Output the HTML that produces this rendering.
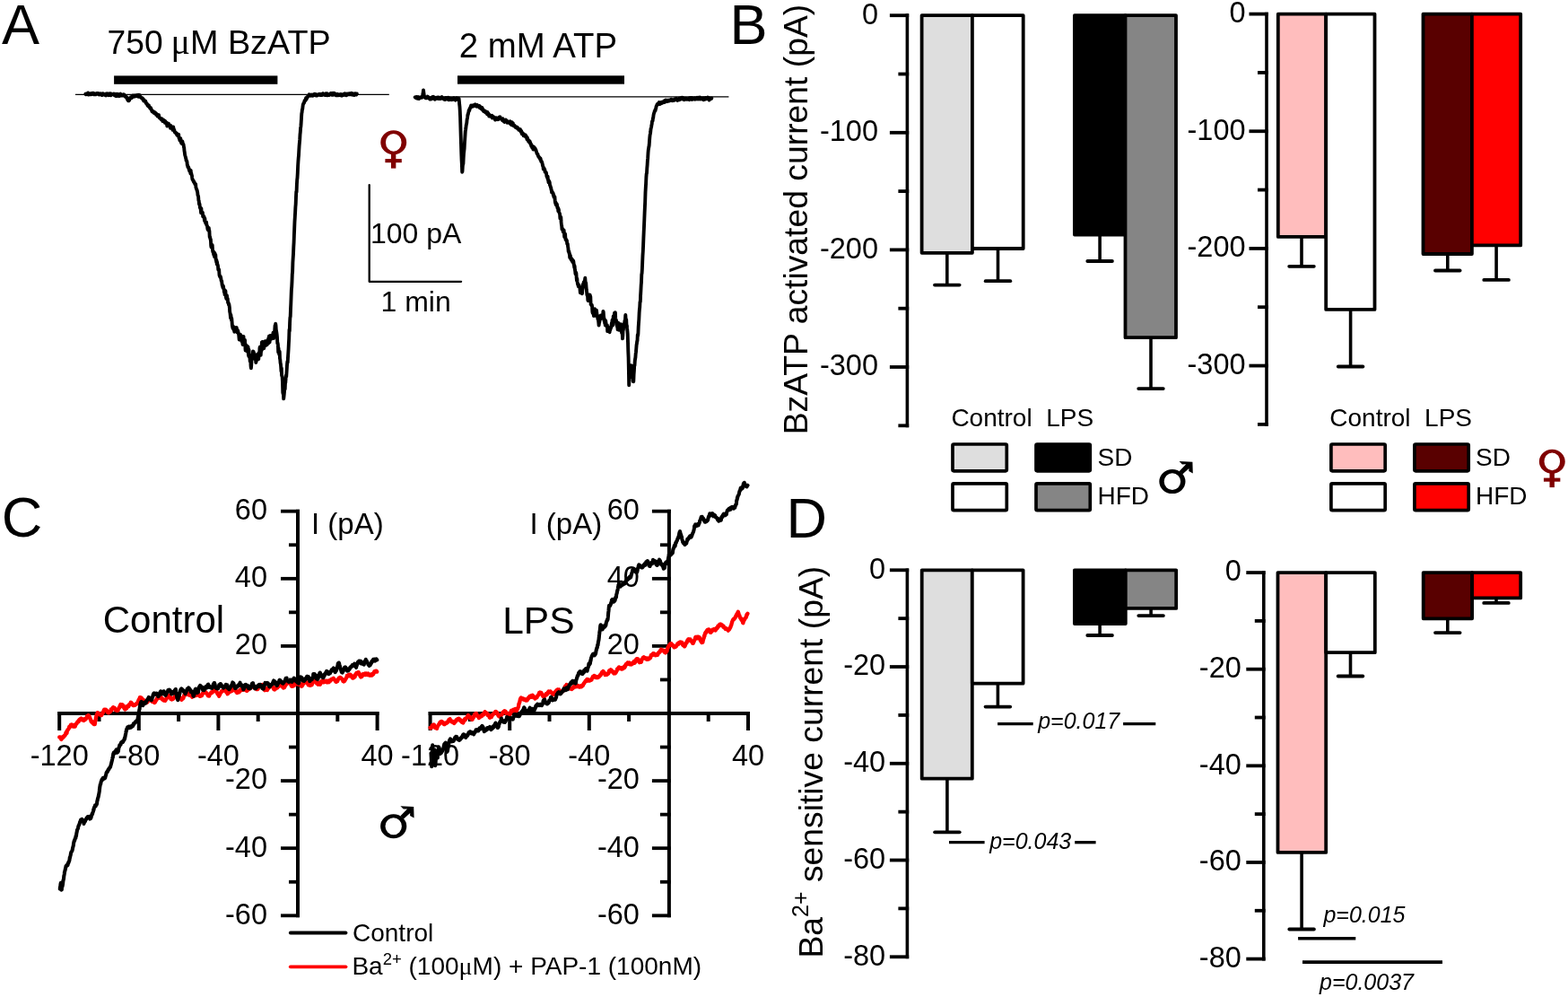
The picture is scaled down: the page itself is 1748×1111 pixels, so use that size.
<!DOCTYPE html>
<html><head><meta charset="utf-8"><title>Figure</title>
<style>
html,body{margin:0;padding:0;background:#fff;}
body{width:1748px;height:1111px;overflow:hidden;}
svg{display:block;}
text{font-family:"Liberation Sans", Arial, sans-serif;fill:#000;}
</style></head><body>
<svg width="1748" height="1111" viewBox="0 0 1748 1111">
<rect width="1748" height="1111" fill="#fff"/>
<text x="2.0" y="49.0" font-size="63" text-anchor="start" >A</text>
<text y="60.3" font-size="37.5"><tspan x="119.6" font-size="37.2">750 </tspan><tspan x="190.6" font-size="40" font-family="'Liberation Serif', serif">&#956;</tspan><tspan x="211.9" font-size="37.8">M BzATP</tspan></text>
<text x="511.8" y="64.2" font-size="38.4" text-anchor="start" >2 mM ATP</text>
<rect x="127.1" y="84.4" width="182.3" height="9.4" fill="#000"/>
<rect x="510" y="84.3" width="186" height="9.4" fill="#000"/>
<line x1="84.00" y1="105.45" x2="433.80" y2="105.45" stroke="#000" stroke-width="1.2" stroke-linecap="butt"/>
<line x1="462.70" y1="107.90" x2="812.40" y2="107.90" stroke="#000" stroke-width="1.25" stroke-linecap="butt"/>
<path d="M95.4 104.5 L95.7 105.3 L96.0 105.2 L96.3 104.6 L96.6 104.1 L96.9 104.1 L97.2 104.2 L97.5 104.1 L97.8 104.9 L98.1 103.4 L98.4 105.6 L98.7 104.8 L99.0 105.5 L99.3 104.9 L99.6 104.4 L99.9 104.9 L100.2 105.0 L100.5 104.6 L100.8 105.0 L101.1 105.3 L101.4 104.1 L101.7 104.0 L102.0 105.1 L102.3 104.9 L102.6 104.3 L102.9 104.5 L103.2 104.3 L103.5 103.7 L103.8 103.7 L104.1 104.7 L104.4 105.1 L104.7 104.6 L105.0 104.3 L105.3 104.8 L105.6 105.1 L105.9 104.6 L106.2 105.1 L106.5 105.3 L106.8 104.8 L107.1 104.4 L107.4 104.9 L107.7 104.9 L108.0 104.9 L108.3 103.9 L108.6 104.1 L108.9 104.2 L109.2 104.1 L109.5 104.9 L109.8 105.2 L110.1 104.4 L110.4 105.5 L110.7 104.9 L111.0 105.1 L111.3 104.7 L111.6 105.1 L111.9 104.3 L112.2 105.0 L112.5 105.4 L112.8 104.4 L113.1 105.5 L113.4 105.2 L113.7 106.1 L114.0 105.2 L114.3 105.3 L114.6 105.4 L114.9 104.3 L115.2 105.2 L115.5 105.1 L115.8 105.3 L116.1 104.8 L116.4 105.7 L116.7 105.3 L117.0 105.3 L117.3 106.0 L117.6 106.2 L117.9 106.4 L118.2 104.5 L118.5 105.5 L118.8 105.1 L119.1 104.9 L119.4 104.4 L119.7 105.5 L120.0 104.4 L120.3 105.6 L120.6 106.1 L120.9 104.8 L121.2 105.4 L121.5 104.5 L121.8 105.2 L122.1 105.7 L122.4 106.0 L122.7 104.2 L123.0 105.0 L123.3 105.7 L123.6 106.1 L123.9 105.5 L124.2 104.6 L124.5 105.2 L124.8 105.0 L125.1 104.9 L125.4 104.9 L125.7 105.4 L126.0 105.4 L126.3 105.2 L126.6 105.0 L126.9 104.6 L127.2 105.3 L127.5 106.2 L127.8 105.3 L128.1 104.8 L128.4 106.1 L128.7 105.8 L129.0 106.9 L129.3 105.5 L129.6 105.2 L129.9 104.7 L130.2 106.2 L130.5 107.0 L130.8 104.9 L131.1 104.9 L131.4 105.5 L131.7 104.9 L132.0 105.8 L132.3 106.2 L132.6 106.7 L132.9 107.2 L133.2 106.7 L133.5 106.5 L133.8 105.8 L134.1 106.1 L134.4 104.6 L134.7 105.3 L135.0 106.4 L135.3 105.5 L135.6 106.2 L135.9 106.1 L136.2 106.5 L136.5 106.2 L136.8 106.5 L137.1 105.7 L137.4 105.3 L137.7 105.1 L138.0 105.1 L138.3 105.4 L138.6 106.0 L138.9 106.8 L139.2 107.3 L139.5 107.4 L139.8 106.7 L140.1 108.1 L140.4 108.3 L140.7 108.7 L141.0 108.9 L141.3 108.3 L141.6 108.8 L141.9 110.8 L142.2 110.4 L142.5 111.5 L142.8 112.1 L143.1 110.5 L143.4 111.8 L143.7 112.2 L144.0 111.9 L144.3 111.4 L144.6 110.8 L144.9 110.2 L145.2 108.7 L145.5 109.0 L145.8 108.3 L146.1 108.9 L146.4 108.2 L146.7 108.8 L147.0 109.0 L147.3 108.4 L147.6 108.0 L147.9 107.2 L148.2 106.6 L148.5 106.8 L148.8 106.9 L149.1 107.7 L149.4 107.5 L149.7 107.6 L150.0 106.5 L150.3 107.6 L150.6 106.5 L150.9 106.7 L151.2 106.8 L151.5 106.5 L151.8 107.0 L152.1 106.4 L152.4 106.2 L152.7 106.1 L153.0 107.2 L153.3 106.4 L153.6 106.3 L153.9 107.0 L154.2 106.1 L154.5 107.9 L154.8 105.6 L155.1 106.5 L155.4 106.8 L155.7 106.1 L156.0 107.2 L156.3 108.1 L156.6 107.9 L156.9 108.0 L157.2 108.8 L157.5 108.7 L157.8 109.2 L158.1 109.1 L158.4 109.8 L158.7 109.2 L159.0 110.5 L159.3 110.4 L159.6 110.2 L159.9 111.3 L160.2 112.4 L160.5 112.1 L160.8 111.5 L161.1 112.6 L161.4 112.4 L161.7 113.1 L162.0 113.3 L162.3 112.7 L162.6 114.6 L162.9 114.7 L163.2 115.5 L163.5 115.3 L163.8 115.4 L164.1 115.9 L164.4 117.4 L164.7 118.0 L165.0 117.5 L165.3 118.4 L165.6 117.7 L165.9 117.3 L166.2 118.7 L166.5 119.2 L166.8 119.3 L167.1 120.3 L167.4 120.9 L167.7 120.4 L168.0 120.0 L168.3 121.1 L168.6 121.6 L168.9 122.2 L169.2 123.6 L169.5 124.3 L169.8 123.3 L170.1 124.2 L170.4 124.7 L170.7 125.0 L171.0 125.1 L171.3 124.4 L171.6 125.2 L171.9 126.1 L172.2 125.8 L172.5 125.0 L172.8 125.8 L173.1 126.4 L173.4 126.2 L173.7 126.0 L174.0 127.9 L174.3 126.7 L174.6 128.2 L174.9 128.3 L175.2 127.8 L175.5 129.5 L175.8 129.1 L176.1 128.1 L176.4 129.4 L176.7 129.0 L177.0 128.2 L177.3 129.8 L177.6 131.0 L177.9 131.5 L178.2 131.5 L178.5 131.6 L178.8 132.0 L179.1 131.9 L179.4 133.0 L179.7 132.2 L180.0 132.7 L180.3 133.4 L180.6 132.4 L180.9 132.9 L181.2 135.1 L181.5 134.2 L181.8 134.3 L182.1 134.8 L182.4 133.6 L182.7 134.5 L183.0 134.4 L183.3 135.4 L183.6 134.5 L183.9 136.9 L184.2 135.6 L184.5 135.4 L184.8 137.2 L185.1 137.2 L185.4 137.8 L185.7 136.6 L186.0 137.9 L186.3 140.5 L186.6 137.4 L186.9 139.4 L187.2 138.8 L187.5 139.4 L187.8 137.7 L188.1 137.8 L188.4 139.2 L188.7 139.1 L189.0 140.5 L189.3 139.6 L189.6 140.5 L189.9 142.8 L190.2 140.4 L190.5 140.0 L190.8 141.0 L191.1 141.3 L191.4 142.3 L191.7 142.3 L192.0 141.8 L192.3 142.7 L192.6 144.9 L192.9 143.9 L193.2 141.5 L193.5 143.6 L193.8 143.5 L194.1 145.4 L194.4 145.1 L194.7 147.1 L195.0 147.0 L195.3 147.6 L195.6 147.6 L195.9 148.5 L196.2 148.7 L196.5 149.0 L196.8 148.7 L197.1 148.5 L197.4 150.7 L197.7 150.9 L198.0 151.2 L198.3 150.9 L198.6 150.9 L198.9 151.3 L199.2 150.0 L199.5 153.9 L199.8 154.3 L200.1 154.7 L200.4 156.5 L200.7 155.7 L201.0 156.9 L201.3 154.3 L201.6 156.8 L201.9 158.7 L202.2 159.4 L202.5 160.0 L202.8 160.2 L203.1 158.0 L203.4 157.4 L203.7 160.3 L204.0 159.9 L204.3 161.4 L204.6 161.1 L204.9 163.7 L205.2 164.5 L205.5 168.2 L205.8 169.7 L206.1 172.4 L206.4 173.5 L206.7 174.4 L207.0 175.9 L207.3 176.6 L207.6 178.9 L207.9 179.2 L208.2 179.2 L208.5 180.5 L208.8 184.2 L209.1 184.0 L209.4 186.1 L209.7 186.2 L210.0 186.1 L210.3 186.7 L210.6 188.8 L210.9 189.2 L211.2 190.5 L211.5 188.8 L211.8 189.8 L212.1 191.1 L212.4 193.4 L212.7 190.0 L213.0 193.2 L213.3 193.1 L213.6 195.0 L213.9 195.4 L214.2 198.0 L214.5 200.0 L214.8 200.1 L215.1 200.7 L215.4 201.5 L215.7 201.4 L216.0 202.8 L216.3 203.0 L216.6 202.9 L216.9 204.2 L217.2 204.4 L217.5 205.6 L217.8 204.8 L218.1 205.1 L218.4 208.8 L218.7 209.5 L219.0 210.7 L219.3 211.1 L219.6 212.2 L219.9 213.0 L220.2 214.4 L220.5 217.5 L220.8 218.0 L221.1 218.7 L221.4 223.4 L221.7 223.5 L222.0 227.7 L222.3 226.7 L222.6 228.0 L222.9 231.2 L223.2 232.1 L223.5 231.4 L223.8 234.1 L224.1 237.3 L224.4 232.3 L224.7 237.5 L225.0 235.8 L225.3 236.4 L225.6 238.2 L225.9 237.0 L226.2 241.3 L226.5 241.4 L226.8 240.3 L227.1 241.7 L227.4 241.3 L227.7 243.0 L228.0 246.1 L228.3 243.2 L228.6 245.6 L228.9 247.5 L229.2 248.5 L229.5 249.1 L229.8 247.3 L230.1 247.6 L230.4 251.0 L230.7 251.2 L231.0 251.6 L231.3 254.4 L231.6 255.9 L231.9 254.8 L232.2 255.5 L232.5 256.7 L232.8 254.0 L233.1 256.9 L233.4 257.1 L233.7 264.2 L234.0 263.7 L234.3 265.0 L234.6 266.9 L234.9 266.8 L235.2 273.4 L235.5 275.6 L235.8 272.1 L236.1 274.2 L236.4 275.0 L236.7 273.1 L237.0 278.5 L237.3 280.7 L237.6 279.8 L237.9 280.5 L238.2 283.7 L238.5 280.9 L238.8 284.5 L239.1 286.0 L239.4 282.0 L239.7 286.5 L240.0 284.6 L240.3 283.9 L240.6 289.3 L240.9 288.8 L241.2 292.2 L241.5 290.2 L241.8 294.5 L242.1 292.3 L242.4 295.4 L242.7 295.1 L243.0 296.5 L243.3 300.6 L243.6 299.7 L243.9 299.9 L244.2 300.8 L244.5 306.2 L244.8 307.5 L245.1 307.2 L245.4 308.8 L245.7 308.0 L246.0 308.8 L246.3 309.9 L246.6 312.7 L246.9 313.3 L247.2 313.2 L247.5 316.6 L247.8 318.3 L248.1 318.3 L248.4 320.4 L248.7 318.5 L249.0 319.0 L249.3 322.2 L249.6 322.3 L249.9 325.7 L250.2 323.0 L250.5 328.2 L250.8 324.1 L251.1 325.3 L251.4 324.2 L251.7 329.0 L252.0 331.8 L252.3 332.8 L252.6 333.1 L252.9 329.1 L253.2 331.4 L253.5 332.5 L253.8 332.9 L254.1 337.3 L254.4 336.7 L254.7 337.9 L255.0 339.6 L255.3 338.9 L255.6 340.7 L255.9 343.0 L256.2 347.6 L256.5 348.7 L256.8 351.6 L257.1 354.5 L257.4 350.9 L257.7 354.4 L258.0 356.9 L258.3 354.8 L258.6 358.8 L258.9 362.9 L259.2 364.4 L259.5 365.7 L259.8 363.6 L260.1 363.8 L260.4 367.3 L260.7 364.5 L261.0 366.5 L261.3 369.7 L261.6 366.1 L261.9 365.2 L262.2 367.0 L262.5 367.6 L262.8 367.7 L263.1 367.0 L263.4 367.9 L263.7 365.0 L264.0 366.9 L264.3 370.2 L264.6 368.8 L264.9 367.8 L265.2 368.5 L265.5 369.6 L265.8 372.3 L266.1 371.5 L266.4 375.3 L266.7 378.5 L267.0 374.4 L267.3 376.9 L267.6 375.2 L267.9 372.6 L268.2 375.8 L268.5 374.4 L268.8 379.2 L269.1 376.6 L269.4 380.3 L269.7 380.0 L270.0 374.8 L270.3 381.8 L270.6 384.1 L270.9 379.2 L271.2 382.0 L271.5 374.9 L271.8 380.6 L272.1 378.3 L272.4 384.4 L272.7 380.2 L273.0 378.9 L273.3 385.5 L273.6 390.5 L273.9 383.9 L274.2 388.7 L274.5 386.4 L274.8 385.2 L275.1 388.6 L275.4 391.5 L275.7 385.8 L276.0 390.6 L276.3 391.1 L276.6 386.7 L276.9 395.0 L277.2 396.7 L277.5 389.7 L277.8 397.7 L278.1 395.4 L278.4 396.0 L278.7 402.5 L279.0 399.5 L279.3 400.9 L279.6 408.1 L279.9 410.3 L280.2 407.4 L280.5 400.1 L280.8 396.7 L281.1 400.3 L281.4 395.2 L281.7 396.2 L282.0 391.5 L282.3 393.4 L282.6 391.9 L282.9 399.0 L283.2 393.5 L283.5 397.0 L283.8 396.2 L284.1 400.1 L284.4 395.3 L284.7 399.1 L285.0 400.2 L285.3 404.0 L285.6 402.5 L285.9 401.3 L286.2 401.5 L286.5 398.8 L286.8 399.5 L287.1 395.2 L287.4 394.6 L287.7 395.4 L288.0 396.7 L288.3 400.2 L288.6 393.2 L288.9 394.6 L289.2 395.7 L289.5 387.8 L289.8 386.7 L290.1 387.8 L290.4 390.7 L290.7 395.8 L291.0 390.9 L291.3 391.4 L291.6 386.6 L291.9 381.4 L292.2 381.1 L292.5 389.0 L292.8 387.5 L293.1 382.0 L293.4 386.6 L293.7 380.9 L294.0 386.6 L294.3 388.1 L294.6 382.6 L294.9 380.4 L295.2 384.9 L295.5 380.3 L295.8 385.3 L296.1 380.4 L296.4 384.5 L296.7 382.8 L297.0 381.6 L297.3 380.6 L297.6 384.3 L297.9 379.4 L298.2 382.5 L298.5 381.4 L298.8 382.9 L299.1 377.3 L299.4 382.3 L299.7 377.1 L300.0 374.5 L300.3 379.6 L300.6 381.4 L300.9 377.4 L301.2 374.0 L301.5 376.1 L301.8 374.3 L302.1 374.2 L302.4 377.9 L302.7 375.3 L303.0 373.8 L303.3 374.8 L303.6 373.9 L303.9 375.1 L304.2 374.0 L304.5 370.8 L304.8 372.7 L305.1 377.0 L305.4 372.6 L305.7 369.8 L306.0 373.1 L306.3 367.2 L306.6 362.7 L306.9 366.0 L307.2 360.8 L307.5 362.9 L307.8 367.5 L308.1 368.9 L308.4 370.7 L308.7 373.0 L309.0 376.0 L309.3 382.6 L309.6 382.4 L309.9 384.3 L310.2 392.4 L310.5 387.8 L310.8 392.1 L311.1 394.7 L311.4 392.6 L311.7 391.7 L312.0 399.6 L312.3 400.8 L312.6 404.7 L312.9 405.4 L313.2 409.1 L313.5 413.8 L313.8 410.3 L314.1 418.4 L314.4 419.2 L314.7 420.4 L315.0 426.4 L315.3 437.4 L315.6 438.8 L315.9 437.5 L316.2 444.3 L316.5 441.8 L316.8 438.7 L317.1 435.1 L317.4 429.9 L317.7 433.7 L318.0 426.7 L318.3 426.3 L318.6 422.1 L318.9 418.0 L319.2 419.5 L319.5 415.3 L319.8 410.5 L320.1 405.4 L320.4 402.8 L320.7 404.0 L321.0 398.1 L321.3 393.7 L321.6 388.7 L321.9 382.3 L322.2 377.4 L322.5 367.2 L322.8 369.0 L323.1 359.5 L323.4 354.0 L323.7 352.8 L324.0 344.5 L324.3 338.3 L324.6 330.4 L324.9 322.6 L325.2 319.8 L325.5 313.9 L325.8 305.4 L326.1 303.1 L326.4 292.5 L326.7 287.4 L327.0 283.1 L327.3 275.5 L327.6 270.1 L327.9 261.8 L328.2 254.7 L328.5 246.8 L328.8 242.2 L329.1 236.8 L329.4 230.8 L329.7 227.3 L330.0 219.4 L330.3 213.4 L330.6 214.0 L330.9 205.5 L331.2 200.5 L331.5 198.0 L331.8 192.6 L332.1 185.3 L332.4 180.4 L332.7 176.1 L333.0 173.1 L333.3 167.5 L333.6 162.4 L333.9 158.8 L334.2 155.9 L334.5 150.0 L334.8 147.1 L335.1 142.6 L335.4 141.0 L335.7 136.4 L336.0 131.5 L336.3 126.7 L336.6 125.2 L336.9 122.0 L337.2 121.8 L337.5 119.0 L337.8 116.7 L338.1 115.8 L338.4 115.2 L338.7 115.1 L339.0 114.7 L339.3 113.2 L339.6 112.0 L339.9 112.4 L340.2 111.7 L340.5 112.2 L340.8 110.5 L341.1 109.1 L341.4 109.8 L341.7 110.6 L342.0 109.3 L342.3 108.2 L342.6 108.5 L342.9 108.0 L343.2 107.8 L343.5 107.2 L343.8 107.0 L344.1 106.8 L344.4 106.2 L344.7 105.3 L345.0 105.9 L345.3 106.3 L345.6 105.7 L345.9 105.8 L346.2 105.9 L346.5 106.7 L346.8 105.7 L347.1 106.3 L347.4 106.5 L347.7 105.7 L348.0 105.9 L348.3 106.2 L348.6 106.8 L348.9 106.2 L349.2 106.0 L349.5 106.0 L349.8 105.3 L350.1 106.2 L350.4 105.6 L350.7 104.8 L351.0 105.7 L351.3 104.9 L351.6 105.3 L351.9 105.8 L352.2 105.2 L352.5 106.5 L352.8 105.3 L353.1 106.0 L353.4 106.2 L353.7 106.4 L354.0 106.1 L354.3 105.7 L354.6 105.4 L354.9 105.4 L355.2 105.8 L355.5 104.9 L355.8 105.6 L356.1 105.1 L356.4 105.2 L356.7 104.9 L357.0 106.1 L357.3 104.9 L357.6 105.8 L357.9 105.9 L358.2 106.0 L358.5 106.0 L358.8 105.8 L359.1 105.9 L359.4 104.4 L359.7 105.0 L360.0 104.2 L360.3 105.2 L360.6 104.5 L360.9 104.8 L361.2 105.2 L361.5 105.8 L361.8 105.6 L362.1 105.3 L362.4 106.0 L362.7 104.7 L363.0 104.4 L363.3 105.2 L363.6 105.0 L363.9 105.7 L364.2 106.0 L364.5 104.2 L364.8 106.4 L365.1 105.8 L365.4 105.3 L365.7 105.1 L366.0 106.1 L366.3 105.3 L366.6 105.5 L366.9 106.0 L367.2 104.9 L367.5 105.7 L367.8 104.8 L368.1 104.7 L368.4 104.9 L368.7 104.0 L369.0 105.3 L369.3 104.0 L369.6 104.9 L369.9 104.1 L370.2 105.8 L370.5 105.6 L370.8 105.8 L371.1 104.9 L371.4 103.8 L371.7 104.2 L372.0 104.8 L372.3 105.4 L372.6 104.3 L372.9 103.8 L373.2 104.6 L373.5 105.1 L373.8 105.1 L374.1 105.1 L374.4 106.0 L374.7 106.3 L375.0 105.9 L375.3 104.9 L375.6 105.4 L375.9 105.2 L376.2 104.8 L376.5 106.3 L376.8 105.8 L377.1 105.3 L377.4 106.2 L377.7 105.8 L378.0 106.0 L378.3 106.1 L378.6 106.1 L378.9 105.2 L379.2 105.5 L379.5 106.3 L379.8 104.9 L380.1 105.3 L380.4 106.0 L380.7 106.5 L381.0 106.7 L381.3 106.4 L381.6 105.5 L381.9 105.9 L382.2 105.7 L382.5 105.3 L382.8 105.9 L383.1 105.6 L383.4 104.8 L383.7 105.6 L384.0 105.2 L384.3 105.6 L384.6 104.3 L384.9 105.5 L385.2 104.7 L385.5 104.7 L385.8 104.6 L386.1 106.3 L386.4 104.7 L386.7 104.8 L387.0 105.2 L387.3 104.8 L387.6 105.5 L387.9 104.5 L388.2 105.3 L388.5 104.8 L388.8 105.3 L389.1 105.2 L389.4 104.2 L389.7 104.3 L390.0 104.6 L390.3 105.4 L390.6 105.4 L390.9 105.0 L391.2 104.0 L391.5 103.8 L391.8 105.1 L392.1 105.4 L392.4 105.1 L392.7 105.6 L393.0 104.9 L393.3 104.3 L393.6 104.6 L393.9 105.0 L394.2 105.0 L394.5 104.7 L394.8 106.0 L395.1 104.6 L395.4 104.7 L395.7 104.2 L396.0 104.2 L396.3 104.9 L396.6 105.2 L396.9 105.2 L397.2 105.5 L397.5 105.2 L397.8 104.4" fill="none" stroke="#000" stroke-width="3.9" stroke-linejoin="round" stroke-linecap="round" />
<path d="M462.7 108.3 L463.0 108.7 L463.3 108.5 L463.6 108.5 L463.9 109.1 L464.2 107.9 L464.5 108.2 L464.8 108.3 L465.1 108.9 L465.4 109.7 L465.7 109.1 L466.0 109.2 L466.3 108.1 L466.6 109.0 L466.9 108.6 L467.2 110.0 L467.5 109.2 L467.8 109.0 L468.1 108.4 L468.4 108.5 L468.7 108.5 L469.0 108.3 L469.3 108.6 L469.6 108.9 L469.9 108.8 L470.2 108.7 L470.5 108.7 L470.8 108.1 L471.1 107.9 L471.4 104.4 L471.7 103.3 L472.0 100.4 L472.3 102.8 L472.6 104.9 L472.9 107.4 L473.2 108.2 L473.5 108.3 L473.8 107.8 L474.1 108.2 L474.4 109.2 L474.7 109.0 L475.0 108.3 L475.3 109.3 L475.6 108.9 L475.9 108.9 L476.2 109.0 L476.5 108.7 L476.8 107.6 L477.1 108.3 L477.4 109.0 L477.7 108.3 L478.0 109.2 L478.3 109.6 L478.6 109.2 L478.9 110.2 L479.2 110.5 L479.5 110.3 L479.8 110.1 L480.1 110.0 L480.4 110.5 L480.7 109.3 L481.0 109.3 L481.3 109.5 L481.6 108.3 L481.9 108.1 L482.2 108.6 L482.5 109.2 L482.8 109.6 L483.1 108.5 L483.4 107.9 L483.7 108.8 L484.0 108.9 L484.3 109.1 L484.6 109.9 L484.9 110.7 L485.2 110.2 L485.5 110.1 L485.8 108.9 L486.1 108.7 L486.4 109.3 L486.7 109.6 L487.0 109.7 L487.3 109.3 L487.6 109.4 L487.9 109.6 L488.2 108.5 L488.5 109.2 L488.8 110.0 L489.1 110.0 L489.4 108.7 L489.7 110.0 L490.0 108.7 L490.3 109.0 L490.6 109.5 L490.9 109.9 L491.2 108.9 L491.5 109.9 L491.8 109.4 L492.1 108.7 L492.4 109.0 L492.7 108.1 L493.0 108.9 L493.3 109.4 L493.6 109.2 L493.9 109.8 L494.2 110.0 L494.5 110.2 L494.8 110.5 L495.1 109.8 L495.4 109.7 L495.7 110.2 L496.0 111.1 L496.3 109.6 L496.6 110.2 L496.9 109.0 L497.2 110.5 L497.5 110.0 L497.8 110.4 L498.1 109.9 L498.4 109.4 L498.7 110.6 L499.0 110.1 L499.3 108.9 L499.6 108.7 L499.9 109.7 L500.2 109.6 L500.5 111.4 L500.8 110.0 L501.1 110.2 L501.4 110.4 L501.7 109.7 L502.0 109.7 L502.3 111.0 L502.6 110.1 L502.9 110.0 L503.2 109.9 L503.5 110.8 L503.8 111.1 L504.1 110.6 L504.4 110.0 L504.7 110.7 L505.0 110.6 L505.3 110.0 L505.6 110.8 L505.9 109.1 L506.2 109.8 L506.5 110.4 L506.8 111.1 L507.1 110.6 L507.4 111.3 L507.7 111.6 L508.0 110.9 L508.3 110.6 L508.6 110.7 L508.9 110.2 L509.2 109.3 L509.5 109.8 L509.8 110.8 L510.1 109.7 L510.4 110.5 L510.7 110.0 L511.0 109.7 L511.3 109.7 L511.6 110.0 L511.9 112.9 L512.2 116.6 L512.5 119.1 L512.8 124.2 L513.1 130.7 L513.4 140.9 L513.7 151.1 L514.0 160.5 L514.3 170.2 L514.6 178.3 L514.9 183.5 L515.2 191.8 L515.5 190.7 L515.8 185.2 L516.1 182.8 L516.4 182.5 L516.7 175.9 L517.0 171.1 L517.3 168.5 L517.6 165.9 L517.9 160.0 L518.2 155.9 L518.5 150.8 L518.8 146.2 L519.1 144.5 L519.4 142.4 L519.7 139.6 L520.0 138.5 L520.3 136.8 L520.6 133.4 L520.9 132.2 L521.2 130.3 L521.5 127.5 L521.8 127.6 L522.1 125.7 L522.4 124.5 L522.7 123.0 L523.0 122.4 L523.3 123.1 L523.6 121.0 L523.9 121.2 L524.2 119.9 L524.5 119.8 L524.8 119.0 L525.1 117.6 L525.4 118.0 L525.7 118.2 L526.0 118.1 L526.3 118.0 L526.6 117.5 L526.9 118.2 L527.2 118.7 L527.5 118.5 L527.8 117.5 L528.1 118.0 L528.4 117.4 L528.7 117.1 L529.0 117.8 L529.3 116.4 L529.6 116.7 L529.9 116.6 L530.2 117.5 L530.5 117.3 L530.8 118.4 L531.1 117.6 L531.4 117.0 L531.7 118.7 L532.0 116.9 L532.3 118.2 L532.6 118.5 L532.9 118.4 L533.2 118.3 L533.5 118.5 L533.8 118.4 L534.1 119.4 L534.4 117.9 L534.7 119.4 L535.0 120.2 L535.3 119.5 L535.6 118.9 L535.9 119.9 L536.2 119.8 L536.5 121.1 L536.8 121.6 L537.1 121.0 L537.4 119.9 L537.7 121.2 L538.0 121.1 L538.3 122.5 L538.6 123.3 L538.9 122.7 L539.2 124.0 L539.5 123.8 L539.8 123.7 L540.1 123.5 L540.4 124.4 L540.7 123.5 L541.0 125.3 L541.3 124.8 L541.6 125.7 L541.9 125.6 L542.2 124.7 L542.5 126.2 L542.8 126.6 L543.1 127.3 L543.4 124.9 L543.7 125.4 L544.0 126.6 L544.3 126.2 L544.6 126.8 L544.9 127.2 L545.2 129.5 L545.5 128.1 L545.8 128.0 L546.1 128.9 L546.4 129.1 L546.7 129.7 L547.0 129.7 L547.3 129.6 L547.6 129.1 L547.9 129.3 L548.2 129.2 L548.5 128.9 L548.8 131.6 L549.1 130.5 L549.4 131.0 L549.7 130.3 L550.0 130.9 L550.3 130.8 L550.6 130.3 L550.9 131.0 L551.2 131.3 L551.5 132.3 L551.8 132.6 L552.1 133.6 L552.4 133.3 L552.7 132.6 L553.0 131.2 L553.3 131.5 L553.6 132.5 L553.9 131.6 L554.2 131.9 L554.5 131.7 L554.8 131.5 L555.1 133.2 L555.4 132.3 L555.7 132.9 L556.0 132.3 L556.3 131.9 L556.6 130.5 L556.9 132.1 L557.2 130.7 L557.5 130.3 L557.8 132.2 L558.1 132.0 L558.4 132.3 L558.7 132.0 L559.0 132.4 L559.3 133.1 L559.6 133.3 L559.9 133.7 L560.2 134.3 L560.5 132.1 L560.8 134.5 L561.1 133.5 L561.4 134.5 L561.7 135.4 L562.0 134.3 L562.3 135.2 L562.6 135.9 L562.9 134.7 L563.2 134.7 L563.5 135.3 L563.8 133.4 L564.1 134.8 L564.4 135.3 L564.7 135.0 L565.0 134.5 L565.3 135.4 L565.6 136.7 L565.9 136.7 L566.2 135.7 L566.5 135.8 L566.8 136.3 L567.1 136.3 L567.4 136.1 L567.7 136.0 L568.0 136.9 L568.3 137.6 L568.6 135.2 L568.9 137.7 L569.2 137.7 L569.5 138.5 L569.8 138.0 L570.1 138.5 L570.4 139.2 L570.7 136.2 L571.0 139.3 L571.3 138.7 L571.6 137.6 L571.9 137.4 L572.2 140.0 L572.5 139.3 L572.8 140.2 L573.1 139.5 L573.4 139.7 L573.7 140.6 L574.0 140.8 L574.3 141.7 L574.6 141.7 L574.9 141.6 L575.2 142.1 L575.5 142.3 L575.8 141.4 L576.1 142.4 L576.4 143.0 L576.7 142.8 L577.0 142.0 L577.3 142.8 L577.6 143.4 L577.9 143.6 L578.2 144.7 L578.5 143.6 L578.8 144.5 L579.1 144.7 L579.4 145.1 L579.7 145.2 L580.0 144.2 L580.3 146.1 L580.6 146.9 L580.9 147.1 L581.2 145.9 L581.5 147.2 L581.8 149.3 L582.1 148.2 L582.4 148.6 L582.7 148.1 L583.0 149.2 L583.3 149.1 L583.6 151.3 L583.9 150.3 L584.2 150.4 L584.5 150.0 L584.8 150.0 L585.1 150.1 L585.4 150.7 L585.7 150.3 L586.0 152.6 L586.3 151.3 L586.6 153.0 L586.9 152.2 L587.2 154.1 L587.5 155.3 L587.8 153.2 L588.1 154.4 L588.4 154.8 L588.7 156.1 L589.0 157.4 L589.3 157.5 L589.6 158.1 L589.9 157.8 L590.2 157.5 L590.5 157.2 L590.8 159.4 L591.1 158.5 L591.4 160.7 L591.7 161.3 L592.0 160.6 L592.3 162.9 L592.6 161.9 L592.9 163.9 L593.2 164.6 L593.5 163.5 L593.8 163.2 L594.1 163.0 L594.4 166.5 L594.7 164.4 L595.0 163.5 L595.3 166.4 L595.6 166.0 L595.9 166.5 L596.2 166.3 L596.5 165.2 L596.8 166.6 L597.1 166.8 L597.4 166.9 L597.7 168.1 L598.0 168.9 L598.3 170.2 L598.6 171.0 L598.9 171.6 L599.2 171.7 L599.5 171.8 L599.8 173.5 L600.1 174.0 L600.4 174.7 L600.7 174.5 L601.0 175.5 L601.3 176.1 L601.6 175.6 L601.9 176.0 L602.2 177.6 L602.5 176.4 L602.8 177.7 L603.1 179.7 L603.4 179.6 L603.7 180.5 L604.0 180.1 L604.3 181.4 L604.6 182.2 L604.9 184.1 L605.2 185.2 L605.5 185.6 L605.8 188.6 L606.1 188.1 L606.4 187.2 L606.7 188.3 L607.0 188.7 L607.3 189.0 L607.6 191.9 L607.9 191.3 L608.2 191.6 L608.5 191.8 L608.8 192.1 L609.1 193.4 L609.4 196.4 L609.7 197.0 L610.0 197.4 L610.3 198.6 L610.6 196.7 L610.9 200.6 L611.2 200.3 L611.5 203.2 L611.8 202.1 L612.1 201.6 L612.4 203.6 L612.7 202.9 L613.0 206.3 L613.3 206.6 L613.6 207.4 L613.9 208.8 L614.2 209.1 L614.5 211.4 L614.8 211.7 L615.1 214.5 L615.4 213.3 L615.7 214.1 L616.0 214.6 L616.3 215.2 L616.6 215.3 L616.9 218.1 L617.2 217.0 L617.5 219.7 L617.8 219.8 L618.1 220.2 L618.4 219.2 L618.7 223.4 L619.0 225.9 L619.3 224.9 L619.6 228.0 L619.9 227.9 L620.2 226.7 L620.5 229.1 L620.8 227.5 L621.1 229.0 L621.4 231.9 L621.7 231.9 L622.0 231.2 L622.3 235.4 L622.6 232.6 L622.9 234.0 L623.2 235.8 L623.5 237.2 L623.8 237.8 L624.1 238.5 L624.4 243.5 L624.7 241.0 L625.0 242.9 L625.3 241.9 L625.6 247.2 L625.9 250.0 L626.2 251.7 L626.5 255.5 L626.8 254.3 L627.1 255.2 L627.4 255.6 L627.7 258.2 L628.0 257.2 L628.3 257.9 L628.6 256.5 L628.9 259.3 L629.2 264.1 L629.5 261.9 L629.8 264.6 L630.1 260.8 L630.4 266.7 L630.7 265.8 L631.0 267.8 L631.3 267.4 L631.6 267.4 L631.9 268.1 L632.2 271.6 L632.5 272.2 L632.8 271.6 L633.1 274.9 L633.4 276.3 L633.7 280.3 L634.0 279.9 L634.3 280.0 L634.6 282.9 L634.9 282.2 L635.2 287.1 L635.5 284.4 L635.8 284.5 L636.1 288.4 L636.4 287.6 L636.7 289.3 L637.0 289.5 L637.3 288.1 L637.6 290.5 L637.9 291.3 L638.2 289.5 L638.5 290.3 L638.8 292.8 L639.1 290.4 L639.4 291.7 L639.7 294.5 L640.0 296.0 L640.3 298.1 L640.6 296.3 L640.9 300.4 L641.2 302.3 L641.5 305.3 L641.8 303.6 L642.1 303.6 L642.4 304.6 L642.7 309.8 L643.0 312.8 L643.3 310.5 L643.6 313.7 L643.9 315.9 L644.2 317.2 L644.5 317.2 L644.8 319.3 L645.1 318.4 L645.4 317.5 L645.7 319.6 L646.0 320.0 L646.3 319.4 L646.6 323.3 L646.9 326.4 L647.2 321.7 L647.5 325.5 L647.8 326.4 L648.1 325.9 L648.4 326.7 L648.7 325.0 L649.0 327.2 L649.3 322.6 L649.6 321.5 L649.9 316.7 L650.2 319.5 L650.5 318.0 L650.8 314.2 L651.1 315.2 L651.4 317.0 L651.7 313.7 L652.0 312.2 L652.3 309.8 L652.6 314.1 L652.9 317.3 L653.2 315.1 L653.5 319.3 L653.8 322.8 L654.1 325.3 L654.4 328.5 L654.7 329.6 L655.0 327.8 L655.3 334.2 L655.6 335.0 L655.9 331.2 L656.2 335.0 L656.5 329.6 L656.8 330.1 L657.1 333.1 L657.4 328.5 L657.7 328.6 L658.0 333.9 L658.3 330.5 L658.6 339.2 L658.9 339.4 L659.2 339.3 L659.5 340.7 L659.8 339.9 L660.1 341.6 L660.4 347.3 L660.7 348.9 L661.0 347.8 L661.3 347.8 L661.6 347.2 L661.9 352.1 L662.2 345.8 L662.5 347.4 L662.8 347.1 L663.1 344.2 L663.4 345.5 L663.7 346.3 L664.0 350.6 L664.3 351.8 L664.6 348.4 L664.9 345.6 L665.2 347.8 L665.5 350.5 L665.8 350.9 L666.1 352.2 L666.4 355.7 L666.7 352.3 L667.0 357.1 L667.3 359.3 L667.6 362.6 L667.9 360.2 L668.2 359.2 L668.5 358.1 L668.8 354.4 L669.1 355.0 L669.4 353.6 L669.7 351.5 L670.0 355.2 L670.3 354.5 L670.6 351.3 L670.9 352.4 L671.2 354.2 L671.5 352.4 L671.8 351.4 L672.1 351.3 L672.4 347.0 L672.7 347.8 L673.0 352.4 L673.3 354.4 L673.6 357.8 L673.9 355.6 L674.2 360.4 L674.5 359.9 L674.8 362.6 L675.1 357.1 L675.4 359.0 L675.7 361.5 L676.0 363.2 L676.3 362.9 L676.6 362.8 L676.9 362.4 L677.2 369.1 L677.5 364.4 L677.8 366.1 L678.1 366.2 L678.4 368.7 L678.7 368.8 L679.0 365.7 L679.3 366.4 L679.6 370.2 L679.9 368.0 L680.2 367.9 L680.5 365.6 L680.8 366.3 L681.1 363.7 L681.4 364.8 L681.7 361.4 L682.0 359.5 L682.3 359.5 L682.6 356.5 L682.9 357.8 L683.2 362.5 L683.5 355.8 L683.8 352.2 L684.1 357.5 L684.4 353.9 L684.7 355.6 L685.0 348.8 L685.3 349.5 L685.6 348.1 L685.9 348.1 L686.2 354.9 L686.5 358.0 L686.8 356.3 L687.1 357.4 L687.4 361.6 L687.7 362.6 L688.0 363.9 L688.3 364.0 L688.6 367.2 L688.9 362.3 L689.2 360.9 L689.5 359.8 L689.8 365.9 L690.1 361.0 L690.4 367.8 L690.7 363.8 L691.0 361.1 L691.3 364.0 L691.6 363.0 L691.9 367.4 L692.2 361.3 L692.5 366.9 L692.8 367.2 L693.1 371.2 L693.4 368.0 L693.7 369.6 L694.0 377.4 L694.3 373.8 L694.6 366.3 L694.9 367.7 L695.2 363.1 L695.5 363.0 L695.8 360.4 L696.1 363.7 L696.4 357.7 L696.7 357.2 L697.0 356.0 L697.3 351.0 L697.6 355.1 L697.9 359.6 L698.2 356.1 L698.5 362.5 L698.8 362.5 L699.1 366.0 L699.4 368.6 L699.7 372.2 L700.0 381.2 L700.3 391.4 L700.6 398.2 L700.9 412.2 L701.2 429.3 L701.5 420.1 L701.8 420.7 L702.1 416.7 L702.4 408.1 L702.7 411.2 L703.0 408.2 L703.3 411.5 L703.6 407.1 L703.9 409.6 L704.2 408.1 L704.5 407.6 L704.8 420.1 L705.1 419.6 L705.4 416.4 L705.7 425.0 L706.0 422.2 L706.3 425.2 L706.6 417.3 L706.9 413.2 L707.2 406.8 L707.5 407.1 L707.8 402.2 L708.1 399.8 L708.4 398.5 L708.7 394.1 L709.0 392.2 L709.3 388.4 L709.6 384.4 L709.9 383.0 L710.2 380.2 L710.5 379.8 L710.8 373.0 L711.1 374.1 L711.4 372.0 L711.7 364.3 L712.0 359.9 L712.3 356.1 L712.6 349.2 L712.9 344.7 L713.2 342.5 L713.5 336.4 L713.8 336.3 L714.1 329.2 L714.4 324.1 L714.7 317.9 L715.0 314.5 L715.3 305.8 L715.6 304.3 L715.9 299.3 L716.2 292.0 L716.5 284.7 L716.8 280.1 L717.1 273.7 L717.4 265.5 L717.7 258.6 L718.0 252.2 L718.3 245.0 L718.6 237.3 L718.9 230.6 L719.2 224.5 L719.5 214.6 L719.8 209.2 L720.1 204.4 L720.4 197.5 L720.7 193.7 L721.0 193.0 L721.3 187.4 L721.6 184.0 L721.9 178.7 L722.2 176.2 L722.5 170.4 L722.8 166.9 L723.1 165.2 L723.4 163.7 L723.7 161.6 L724.0 157.2 L724.3 153.4 L724.6 150.4 L724.9 149.1 L725.2 147.1 L725.5 144.0 L725.8 142.5 L726.1 141.6 L726.4 139.5 L726.7 138.3 L727.0 135.3 L727.3 134.7 L727.6 134.7 L727.9 131.6 L728.2 131.5 L728.5 128.7 L728.8 127.1 L729.1 126.0 L729.4 125.5 L729.7 123.9 L730.0 123.3 L730.3 122.6 L730.6 123.3 L730.9 121.4 L731.2 121.0 L731.5 119.0 L731.8 118.2 L732.1 117.9 L732.4 116.6 L732.7 116.3 L733.0 115.8 L733.3 116.3 L733.6 115.6 L733.9 115.8 L734.2 116.0 L734.5 114.8 L734.8 114.0 L735.1 114.7 L735.4 116.0 L735.7 115.0 L736.0 115.9 L736.3 114.6 L736.6 115.4 L736.9 113.9 L737.2 114.4 L737.5 114.3 L737.8 115.0 L738.1 114.2 L738.4 114.3 L738.7 113.5 L739.0 113.5 L739.3 114.2 L739.6 113.9 L739.9 113.6 L740.2 113.3 L740.5 112.6 L740.8 114.1 L741.1 113.0 L741.4 113.4 L741.7 112.9 L742.0 111.6 L742.3 111.5 L742.6 111.8 L742.9 112.6 L743.2 113.1 L743.5 112.6 L743.8 113.0 L744.1 111.9 L744.4 112.2 L744.7 111.7 L745.0 112.5 L745.3 111.8 L745.6 112.0 L745.9 112.6 L746.2 111.8 L746.5 111.6 L746.8 112.0 L747.1 111.3 L747.4 111.3 L747.7 111.9 L748.0 111.6 L748.3 110.7 L748.6 111.4 L748.9 111.9 L749.2 112.1 L749.5 111.7 L749.8 111.6 L750.1 111.2 L750.4 111.3 L750.7 111.5 L751.0 112.0 L751.3 111.5 L751.6 111.7 L751.9 111.3 L752.2 110.4 L752.5 110.2 L752.8 110.3 L753.1 110.4 L753.4 111.2 L753.7 110.2 L754.0 109.9 L754.3 110.8 L754.6 111.3 L754.9 111.3 L755.2 111.9 L755.5 111.3 L755.8 110.8 L756.1 110.9 L756.4 110.1 L756.7 109.9 L757.0 111.0 L757.3 111.3 L757.6 110.7 L757.9 110.2 L758.2 110.1 L758.5 110.3 L758.8 109.2 L759.1 110.5 L759.4 110.4 L759.7 109.9 L760.0 109.8 L760.3 108.8 L760.6 110.4 L760.9 110.3 L761.2 108.8 L761.5 109.9 L761.8 110.0 L762.1 111.0 L762.4 109.7 L762.7 110.3 L763.0 111.2 L763.3 110.7 L763.6 110.1 L763.9 110.0 L764.2 110.3 L764.5 109.8 L764.8 110.6 L765.1 109.9 L765.4 110.4 L765.7 110.4 L766.0 110.8 L766.3 110.2 L766.6 110.2 L766.9 110.3 L767.2 110.1 L767.5 110.5 L767.8 109.9 L768.1 110.9 L768.4 111.1 L768.7 109.3 L769.0 109.7 L769.3 109.2 L769.6 110.5 L769.9 110.1 L770.2 109.6 L770.5 109.0 L770.8 109.6 L771.1 110.8 L771.4 110.9 L771.7 110.0 L772.0 109.3 L772.3 109.7 L772.6 109.4 L772.9 109.4 L773.2 109.8 L773.5 110.4 L773.8 110.2 L774.1 110.5 L774.4 109.6 L774.7 109.3 L775.0 110.7 L775.3 109.8 L775.6 110.4 L775.9 109.7 L776.2 110.1 L776.5 109.7 L776.8 109.3 L777.1 108.9 L777.4 110.4 L777.7 109.7 L778.0 109.3 L778.3 109.8 L778.6 108.8 L778.9 110.5 L779.2 110.4 L779.5 109.5 L779.8 110.0 L780.1 108.4 L780.4 110.3 L780.7 110.2 L781.0 110.2 L781.3 110.5 L781.6 110.3 L781.9 109.6 L782.2 109.6 L782.5 109.9 L782.8 110.5 L783.1 109.9 L783.4 109.5 L783.7 110.1 L784.0 109.3 L784.3 111.2 L784.6 110.3 L784.9 109.4 L785.2 109.7 L785.5 110.1 L785.8 109.7 L786.1 110.7 L786.4 109.0 L786.7 110.4 L787.0 109.4 L787.3 109.8 L787.6 110.2 L787.9 109.0 L788.2 109.1 L788.5 109.8 L788.8 109.1 L789.1 108.5 L789.4 109.7 L789.7 110.2 L790.0 109.7 L790.3 110.3 L790.6 111.5 L790.9 110.0 L791.2 109.4 L791.5 109.5 L791.8 110.4 L792.1 109.8 L792.4 110.2 L792.7 110.1 L793.0 110.0 L793.3 109.5" fill="none" stroke="#000" stroke-width="3.9" stroke-linejoin="round" stroke-linecap="round" />
<path d="M424.30 158.80 a14.45 13.5 0 1 0 28.9 0 a14.45 13.5 0 1 0 -28.9 0 Z M429.95 158.80 a8.8 9.85 0 1 1 17.6 0 a8.8 9.85 0 1 1 -17.6 0 Z" fill="#800000" fill-rule="evenodd"/>
<rect x="435.95" y="170.80" width="5.4" height="16.80" fill="#800000"/>
<rect x="429.40" y="177.10" width="18.4" height="4.1" fill="#800000"/>
<path d="M411.7 206.1 L411.7 313.8 L514.1 313.8" fill="none" stroke="#000" stroke-width="2.3" stroke-linecap="round" stroke-linejoin="round"/>
<text x="413.0" y="270.5" font-size="32" text-anchor="start" >100 pA</text>
<text x="424.5" y="346.8" font-size="32" text-anchor="start" >1 min</text>
<text x="813.5" y="49.0" font-size="63" text-anchor="start" >B</text>
<line x1="1011.40" y1="15.30" x2="1011.40" y2="476.20" stroke="#000" stroke-width="3.6" stroke-linecap="butt"/>
<line x1="991.90" y1="17.20" x2="1013.20" y2="17.20" stroke="#000" stroke-width="3.8" stroke-linecap="butt"/>
<line x1="991.90" y1="147.80" x2="1013.20" y2="147.80" stroke="#000" stroke-width="3.8" stroke-linecap="butt"/>
<line x1="991.90" y1="278.40" x2="1013.20" y2="278.40" stroke="#000" stroke-width="3.8" stroke-linecap="butt"/>
<line x1="991.90" y1="409.00" x2="1013.20" y2="409.00" stroke="#000" stroke-width="3.8" stroke-linecap="butt"/>
<line x1="1001.40" y1="82.50" x2="1013.20" y2="82.50" stroke="#000" stroke-width="3.8" stroke-linecap="butt"/>
<line x1="1001.40" y1="213.10" x2="1013.20" y2="213.10" stroke="#000" stroke-width="3.8" stroke-linecap="butt"/>
<line x1="1001.40" y1="343.70" x2="1013.20" y2="343.70" stroke="#000" stroke-width="3.8" stroke-linecap="butt"/>
<line x1="1001.40" y1="474.30" x2="1013.20" y2="474.30" stroke="#000" stroke-width="3.8" stroke-linecap="butt"/>
<text x="979.0" y="26.5" font-size="32.5" text-anchor="end" >0</text>
<text x="979.0" y="157.1" font-size="32.5" text-anchor="end" >-100</text>
<text x="979.0" y="287.7" font-size="32.5" text-anchor="end" >-200</text>
<text x="979.0" y="418.3" font-size="32.5" text-anchor="end" >-300</text>
<line x1="1055.80" y1="281.80" x2="1055.80" y2="317.60" stroke="#000" stroke-width="3.6" stroke-linecap="butt"/>
<line x1="1042.00" y1="317.60" x2="1069.60" y2="317.60" stroke="#000" stroke-width="3.8" stroke-linecap="round"/>
<line x1="1112.50" y1="277.00" x2="1112.50" y2="313.20" stroke="#000" stroke-width="3.6" stroke-linecap="butt"/>
<line x1="1098.70" y1="313.20" x2="1126.30" y2="313.20" stroke="#000" stroke-width="3.8" stroke-linecap="round"/>
<line x1="1226.10" y1="261.50" x2="1226.10" y2="291.00" stroke="#000" stroke-width="3.6" stroke-linecap="butt"/>
<line x1="1212.30" y1="291.00" x2="1239.90" y2="291.00" stroke="#000" stroke-width="3.8" stroke-linecap="round"/>
<line x1="1283.00" y1="376.20" x2="1283.00" y2="433.10" stroke="#000" stroke-width="3.6" stroke-linecap="butt"/>
<line x1="1269.20" y1="433.10" x2="1296.80" y2="433.10" stroke="#000" stroke-width="3.8" stroke-linecap="round"/>
<rect x="1027.60" y="17.20" width="56.30" height="264.60" fill="#dedede" stroke="#000" stroke-width="3.8" stroke-linejoin="round"/>
<rect x="1083.90" y="17.20" width="56.80" height="259.80" fill="#ffffff" stroke="#000" stroke-width="3.8" stroke-linejoin="round"/>
<rect x="1197.90" y="17.20" width="56.60" height="244.30" fill="#000000" stroke="#000" stroke-width="3.8" stroke-linejoin="round"/>
<rect x="1254.50" y="17.20" width="56.50" height="359.00" fill="#858585" stroke="#000" stroke-width="3.8" stroke-linejoin="round"/>
<line x1="1412.00" y1="13.70" x2="1412.00" y2="474.77" stroke="#000" stroke-width="3.6" stroke-linecap="butt"/>
<line x1="1392.50" y1="15.60" x2="1413.80" y2="15.60" stroke="#000" stroke-width="3.8" stroke-linecap="butt"/>
<line x1="1392.50" y1="146.25" x2="1413.80" y2="146.25" stroke="#000" stroke-width="3.8" stroke-linecap="butt"/>
<line x1="1392.50" y1="276.90" x2="1413.80" y2="276.90" stroke="#000" stroke-width="3.8" stroke-linecap="butt"/>
<line x1="1392.50" y1="407.55" x2="1413.80" y2="407.55" stroke="#000" stroke-width="3.8" stroke-linecap="butt"/>
<line x1="1402.00" y1="80.92" x2="1413.80" y2="80.92" stroke="#000" stroke-width="3.8" stroke-linecap="butt"/>
<line x1="1402.00" y1="211.57" x2="1413.80" y2="211.57" stroke="#000" stroke-width="3.8" stroke-linecap="butt"/>
<line x1="1402.00" y1="342.23" x2="1413.80" y2="342.23" stroke="#000" stroke-width="3.8" stroke-linecap="butt"/>
<line x1="1402.00" y1="472.88" x2="1413.80" y2="472.88" stroke="#000" stroke-width="3.8" stroke-linecap="butt"/>
<text x="1388.6" y="24.9" font-size="32.5" text-anchor="end" >0</text>
<text x="1388.6" y="155.6" font-size="32.5" text-anchor="end" >-100</text>
<text x="1388.6" y="286.2" font-size="32.5" text-anchor="end" >-200</text>
<text x="1388.6" y="416.9" font-size="32.5" text-anchor="end" >-300</text>
<line x1="1451.00" y1="263.90" x2="1451.00" y2="296.80" stroke="#000" stroke-width="3.6" stroke-linecap="butt"/>
<line x1="1437.20" y1="296.80" x2="1464.80" y2="296.80" stroke="#000" stroke-width="3.8" stroke-linecap="round"/>
<line x1="1505.60" y1="344.90" x2="1505.60" y2="408.50" stroke="#000" stroke-width="3.6" stroke-linecap="butt"/>
<line x1="1491.80" y1="408.50" x2="1519.40" y2="408.50" stroke="#000" stroke-width="3.8" stroke-linecap="round"/>
<line x1="1613.80" y1="283.00" x2="1613.80" y2="301.50" stroke="#000" stroke-width="3.6" stroke-linecap="butt"/>
<line x1="1600.00" y1="301.50" x2="1627.60" y2="301.50" stroke="#000" stroke-width="3.8" stroke-linecap="round"/>
<line x1="1668.10" y1="273.40" x2="1668.10" y2="311.90" stroke="#000" stroke-width="3.6" stroke-linecap="butt"/>
<line x1="1654.30" y1="311.90" x2="1681.90" y2="311.90" stroke="#000" stroke-width="3.8" stroke-linecap="round"/>
<rect x="1424.80" y="15.60" width="53.40" height="248.30" fill="#ffbdbd" stroke="#000" stroke-width="3.8" stroke-linejoin="round"/>
<rect x="1478.20" y="15.60" width="54.30" height="329.30" fill="#ffffff" stroke="#000" stroke-width="3.8" stroke-linejoin="round"/>
<rect x="1586.50" y="15.60" width="54.40" height="267.40" fill="#590000" stroke="#000" stroke-width="3.8" stroke-linejoin="round"/>
<rect x="1640.90" y="15.60" width="54.30" height="257.80" fill="#ff0000" stroke="#000" stroke-width="3.8" stroke-linejoin="round"/>
<text transform="translate(900.2 484.3) rotate(-90)" font-size="37.3">BzATP activated current (pA)</text>
<text x="1060.4" y="475.3" font-size="28" text-anchor="start" >Control&#160;&#160;LPS</text>
<rect x="1062.00" y="495.00" width="60.3" height="29.8" rx="1.2" fill="#dedede" stroke="#000" stroke-width="3.7"/>
<rect x="1062.00" y="538.90" width="60.3" height="29.8" rx="1.2" fill="#ffffff" stroke="#000" stroke-width="3.7"/>
<rect x="1155.00" y="495.00" width="60.3" height="29.8" rx="1.2" fill="#000000" stroke="#000" stroke-width="3.7"/>
<rect x="1155.00" y="538.90" width="60.3" height="29.8" rx="1.2" fill="#858585" stroke="#000" stroke-width="3.7"/>
<text x="1223.5" y="519.1" font-size="28" text-anchor="start" >SD</text>
<text x="1223.5" y="562.1" font-size="28" text-anchor="start" >HFD</text>
<text x="1482.3" y="475.3" font-size="28" text-anchor="start" >Control&#160;&#160;LPS</text>
<rect x="1483.90" y="495.00" width="60.3" height="29.8" rx="1.2" fill="#ffbdbd" stroke="#000" stroke-width="3.7"/>
<rect x="1483.90" y="538.90" width="60.3" height="29.8" rx="1.2" fill="#ffffff" stroke="#000" stroke-width="3.7"/>
<rect x="1576.90" y="495.00" width="60.3" height="29.8" rx="1.2" fill="#590000" stroke="#000" stroke-width="3.7"/>
<rect x="1576.90" y="538.90" width="60.3" height="29.8" rx="1.2" fill="#ff0000" stroke="#000" stroke-width="3.7"/>
<text x="1645.0" y="519.1" font-size="28" text-anchor="start" >SD</text>
<text x="1645.0" y="562.1" font-size="28" text-anchor="start" >HFD</text>
<g transform="translate(868.20 -384.10)">
<path d="M424.10 920.70 a14.6 13.5 0 1 0 29.2 0 a14.6 13.5 0 1 0 -29.2 0 Z M429.50 920.70 a9.2 9.45 0 1 1 18.4 0 a9.2 9.45 0 1 1 -18.4 0 Z" fill="#000" fill-rule="evenodd"/>
<path d="M446.4 898.2 L461.2 898.9 L461.6 911.5 L457.1 909.0 L457.2 906.1 L450.0 912.6 L446.4 909.3 L454.0 901.4 L449.7 901.6 Z" fill="#000"/>
</g>
<path d="M1715.85 514.30 a14.45 13.5 0 1 0 28.9 0 a14.45 13.5 0 1 0 -28.9 0 Z M1721.50 514.30 a8.8 9.85 0 1 1 17.6 0 a8.8 9.85 0 1 1 -17.6 0 Z" fill="#800000" fill-rule="evenodd"/>
<rect x="1727.50" y="526.30" width="5.4" height="16.80" fill="#800000"/>
<rect x="1720.95" y="532.60" width="18.4" height="4.1" fill="#800000"/>
<text x="1.8" y="597.8" font-size="63" text-anchor="start" >C</text>
<line x1="332.00" y1="567.80" x2="332.00" y2="1022.20" stroke="#000" stroke-width="4" stroke-linecap="butt"/>
<line x1="313.00" y1="569.70" x2="333.90" y2="569.70" stroke="#000" stroke-width="3.8" stroke-linecap="butt"/>
<line x1="313.00" y1="644.80" x2="333.90" y2="644.80" stroke="#000" stroke-width="3.8" stroke-linecap="butt"/>
<line x1="313.00" y1="719.90" x2="333.90" y2="719.90" stroke="#000" stroke-width="3.8" stroke-linecap="butt"/>
<line x1="313.00" y1="870.10" x2="333.90" y2="870.10" stroke="#000" stroke-width="3.8" stroke-linecap="butt"/>
<line x1="313.00" y1="945.20" x2="333.90" y2="945.20" stroke="#000" stroke-width="3.8" stroke-linecap="butt"/>
<line x1="313.00" y1="1020.30" x2="333.90" y2="1020.30" stroke="#000" stroke-width="3.8" stroke-linecap="butt"/>
<line x1="322.00" y1="607.25" x2="333.90" y2="607.25" stroke="#000" stroke-width="3.8" stroke-linecap="butt"/>
<line x1="322.00" y1="682.35" x2="333.90" y2="682.35" stroke="#000" stroke-width="3.8" stroke-linecap="butt"/>
<line x1="322.00" y1="757.45" x2="333.90" y2="757.45" stroke="#000" stroke-width="3.8" stroke-linecap="butt"/>
<line x1="322.00" y1="832.55" x2="333.90" y2="832.55" stroke="#000" stroke-width="3.8" stroke-linecap="butt"/>
<line x1="322.00" y1="907.65" x2="333.90" y2="907.65" stroke="#000" stroke-width="3.8" stroke-linecap="butt"/>
<line x1="322.00" y1="982.75" x2="333.90" y2="982.75" stroke="#000" stroke-width="3.8" stroke-linecap="butt"/>
<text x="298.0" y="579.0" font-size="32.5" text-anchor="end" >60</text>
<text x="298.0" y="654.1" font-size="32.5" text-anchor="end" >40</text>
<text x="298.0" y="729.2" font-size="32.5" text-anchor="end" >20</text>
<text x="298.0" y="879.4" font-size="32.5" text-anchor="end" >-20</text>
<text x="298.0" y="954.5" font-size="32.5" text-anchor="end" >-40</text>
<text x="298.0" y="1029.6" font-size="32.5" text-anchor="end" >-60</text>
<line x1="64.30" y1="795.00" x2="422.50" y2="795.00" stroke="#000" stroke-width="4" stroke-linecap="butt"/>
<line x1="66.20" y1="793.10" x2="66.20" y2="814.00" stroke="#000" stroke-width="4" stroke-linecap="butt"/>
<line x1="154.80" y1="793.10" x2="154.80" y2="814.00" stroke="#000" stroke-width="4" stroke-linecap="butt"/>
<line x1="243.40" y1="793.10" x2="243.40" y2="814.00" stroke="#000" stroke-width="4" stroke-linecap="butt"/>
<line x1="420.60" y1="793.10" x2="420.60" y2="814.00" stroke="#000" stroke-width="4" stroke-linecap="butt"/>
<line x1="110.50" y1="793.10" x2="110.50" y2="804.00" stroke="#000" stroke-width="4" stroke-linecap="butt"/>
<line x1="199.10" y1="793.10" x2="199.10" y2="804.00" stroke="#000" stroke-width="4" stroke-linecap="butt"/>
<line x1="287.70" y1="793.10" x2="287.70" y2="804.00" stroke="#000" stroke-width="4" stroke-linecap="butt"/>
<line x1="376.30" y1="793.10" x2="376.30" y2="804.00" stroke="#000" stroke-width="4" stroke-linecap="butt"/>
<text x="66.2" y="852.5" font-size="32.5" text-anchor="middle" >-120</text>
<text x="154.8" y="852.5" font-size="32.5" text-anchor="middle" >-80</text>
<text x="243.4" y="852.5" font-size="32.5" text-anchor="middle" >-40</text>
<text x="420.6" y="852.5" font-size="32.5" text-anchor="middle" >40</text>
<line x1="745.90" y1="567.80" x2="745.90" y2="1022.20" stroke="#000" stroke-width="4" stroke-linecap="butt"/>
<line x1="726.90" y1="569.70" x2="747.80" y2="569.70" stroke="#000" stroke-width="3.8" stroke-linecap="butt"/>
<line x1="726.90" y1="644.80" x2="747.80" y2="644.80" stroke="#000" stroke-width="3.8" stroke-linecap="butt"/>
<line x1="726.90" y1="719.90" x2="747.80" y2="719.90" stroke="#000" stroke-width="3.8" stroke-linecap="butt"/>
<line x1="726.90" y1="870.10" x2="747.80" y2="870.10" stroke="#000" stroke-width="3.8" stroke-linecap="butt"/>
<line x1="726.90" y1="945.20" x2="747.80" y2="945.20" stroke="#000" stroke-width="3.8" stroke-linecap="butt"/>
<line x1="726.90" y1="1020.30" x2="747.80" y2="1020.30" stroke="#000" stroke-width="3.8" stroke-linecap="butt"/>
<line x1="735.90" y1="607.25" x2="747.80" y2="607.25" stroke="#000" stroke-width="3.8" stroke-linecap="butt"/>
<line x1="735.90" y1="682.35" x2="747.80" y2="682.35" stroke="#000" stroke-width="3.8" stroke-linecap="butt"/>
<line x1="735.90" y1="757.45" x2="747.80" y2="757.45" stroke="#000" stroke-width="3.8" stroke-linecap="butt"/>
<line x1="735.90" y1="832.55" x2="747.80" y2="832.55" stroke="#000" stroke-width="3.8" stroke-linecap="butt"/>
<line x1="735.90" y1="907.65" x2="747.80" y2="907.65" stroke="#000" stroke-width="3.8" stroke-linecap="butt"/>
<line x1="735.90" y1="982.75" x2="747.80" y2="982.75" stroke="#000" stroke-width="3.8" stroke-linecap="butt"/>
<text x="712.9" y="579.0" font-size="32.5" text-anchor="end" >60</text>
<text x="712.9" y="654.1" font-size="32.5" text-anchor="end" >40</text>
<text x="712.9" y="729.2" font-size="32.5" text-anchor="end" >20</text>
<text x="712.9" y="879.4" font-size="32.5" text-anchor="end" >-20</text>
<text x="712.9" y="954.5" font-size="32.5" text-anchor="end" >-40</text>
<text x="712.9" y="1029.6" font-size="32.5" text-anchor="end" >-60</text>
<line x1="477.70" y1="795.00" x2="835.90" y2="795.00" stroke="#000" stroke-width="4" stroke-linecap="butt"/>
<line x1="479.60" y1="793.10" x2="479.60" y2="814.00" stroke="#000" stroke-width="4" stroke-linecap="butt"/>
<line x1="568.20" y1="793.10" x2="568.20" y2="814.00" stroke="#000" stroke-width="4" stroke-linecap="butt"/>
<line x1="656.80" y1="793.10" x2="656.80" y2="814.00" stroke="#000" stroke-width="4" stroke-linecap="butt"/>
<line x1="834.00" y1="793.10" x2="834.00" y2="814.00" stroke="#000" stroke-width="4" stroke-linecap="butt"/>
<line x1="523.90" y1="793.10" x2="523.90" y2="804.00" stroke="#000" stroke-width="4" stroke-linecap="butt"/>
<line x1="612.50" y1="793.10" x2="612.50" y2="804.00" stroke="#000" stroke-width="4" stroke-linecap="butt"/>
<line x1="701.10" y1="793.10" x2="701.10" y2="804.00" stroke="#000" stroke-width="4" stroke-linecap="butt"/>
<line x1="789.70" y1="793.10" x2="789.70" y2="804.00" stroke="#000" stroke-width="4" stroke-linecap="butt"/>
<text x="479.6" y="852.5" font-size="32.5" text-anchor="middle" >-120</text>
<text x="568.2" y="852.5" font-size="32.5" text-anchor="middle" >-80</text>
<text x="656.8" y="852.5" font-size="32.5" text-anchor="middle" >-40</text>
<text x="834.0" y="852.5" font-size="32.5" text-anchor="middle" >40</text>
<text x="347.0" y="594.8" font-size="33" text-anchor="start" >I (pA)</text>
<text x="590.5" y="594.8" font-size="33" text-anchor="start" >I (pA)</text>
<text x="114.7" y="705.4" font-size="42" text-anchor="start" >Control</text>
<text x="560.2" y="705.9" font-size="42.5" text-anchor="start" >LPS</text>
<g transform="translate(0.00 0.00)">
<path d="M424.10 920.70 a14.6 13.5 0 1 0 29.2 0 a14.6 13.5 0 1 0 -29.2 0 Z M429.50 920.70 a9.2 9.45 0 1 1 18.4 0 a9.2 9.45 0 1 1 -18.4 0 Z" fill="#000" fill-rule="evenodd"/>
<path d="M446.4 898.2 L461.2 898.9 L461.6 911.5 L457.1 909.0 L457.2 906.1 L450.0 912.6 L446.4 909.3 L454.0 901.4 L449.7 901.6 Z" fill="#000"/>
</g>
<path d="M66.2 821.4 L66.5 821.4 L66.7 821.7 L67.0 821.5 L67.2 822.1 L67.5 822.3 L67.7 822.5 L68.0 823.1 L68.2 823.7 L68.5 823.9 L68.7 823.6 L69.0 822.1 L69.2 822.1 L69.5 821.4 L69.7 821.9 L70.0 822.2 L70.2 821.3 L70.5 821.3 L70.7 820.9 L71.0 821.0 L71.2 820.3 L71.5 820.5 L71.7 819.8 L72.0 820.0 L72.2 819.5 L72.5 819.4 L72.7 819.2 L73.0 818.2 L73.2 817.3 L73.5 816.5 L73.7 816.1 L74.0 816.5 L74.2 817.1 L74.5 816.9 L74.7 815.3 L75.0 814.0 L75.2 813.7 L75.5 813.5 L75.7 813.1 L76.0 812.8 L76.2 812.7 L76.5 812.1 L76.7 811.8 L77.0 811.3 L77.2 809.8 L77.5 809.9 L77.7 809.5 L78.0 809.3 L78.2 810.0 L78.5 809.0 L78.7 809.5 L79.0 807.6 L79.2 808.1 L79.5 807.9 L79.7 808.3 L80.0 807.6 L80.2 807.7 L80.5 808.1 L80.7 807.8 L81.0 807.8 L81.2 808.5 L81.5 808.4 L81.7 809.7 L82.0 808.0 L82.2 809.3 L82.5 809.6 L82.7 809.4 L83.0 809.4 L83.2 809.2 L83.5 809.1 L83.7 809.5 L84.0 808.6 L84.2 807.1 L84.5 807.2 L84.7 807.0 L85.0 806.5 L85.2 806.8 L85.5 806.2 L85.7 806.0 L86.0 805.4 L86.2 804.7 L86.5 804.3 L86.7 804.6 L87.0 804.3 L87.2 804.4 L87.5 804.1 L87.7 804.0 L88.0 802.5 L88.2 803.0 L88.5 802.3 L88.7 801.7 L89.0 802.2 L89.2 801.8 L89.5 801.8 L89.7 801.4 L90.0 801.0 L90.2 800.8 L90.5 801.0 L90.7 800.6 L91.0 801.9 L91.2 801.8 L91.5 801.7 L91.7 802.4 L92.0 801.7 L92.2 801.3 L92.5 801.7 L92.7 801.9 L93.0 802.1 L93.2 802.7 L93.5 802.9 L93.7 802.6 L94.0 802.5 L94.2 801.2 L94.5 802.3 L94.7 801.6 L95.0 801.2 L95.2 801.7 L95.5 801.5 L95.7 800.7 L96.0 800.8 L96.2 800.2 L96.5 799.7 L96.7 799.8 L97.0 798.0 L97.2 798.2 L97.5 798.2 L97.7 798.4 L98.0 797.9 L98.2 797.2 L98.5 797.1 L98.7 797.9 L99.0 797.3 L99.2 797.9 L99.5 798.4 L99.7 798.7 L100.0 799.2 L100.2 799.8 L100.5 801.0 L100.7 801.6 L101.0 801.7 L101.2 802.2 L101.5 803.8 L101.7 803.2 L102.0 804.5 L102.2 804.0 L102.5 804.0 L102.7 804.3 L103.0 804.2 L103.2 805.7 L103.5 805.8 L103.7 805.4 L104.0 806.4 L104.2 805.9 L104.5 806.8 L104.7 807.1 L105.0 806.6 L105.2 807.0 L105.5 807.1 L105.7 807.0 L106.0 805.4 L106.2 803.6 L106.5 802.8 L106.7 801.5 L107.0 799.3 L107.2 799.0 L107.5 797.4 L107.7 797.2 L108.0 795.8 L108.2 795.7 L108.5 795.8 L108.7 794.1 L109.0 794.2 L109.2 795.1 L109.5 795.0 L109.7 795.3 L110.0 795.6 L110.2 795.1 L110.5 795.9 L110.7 795.9 L111.0 795.8 L111.2 796.1 L111.5 796.3 L111.7 796.0 L112.0 796.0 L112.2 797.2 L112.5 796.6 L112.7 796.9 L113.0 797.1 L113.2 797.0 L113.5 795.8 L113.7 796.0 L114.0 795.7 L114.2 795.0 L114.5 794.2 L114.7 794.5 L115.0 793.1 L115.2 792.7 L115.5 792.0 L115.7 791.4 L116.0 791.7 L116.2 790.7 L116.5 791.1 L116.7 791.3 L117.0 790.9 L117.2 791.3 L117.5 790.8 L117.7 790.7 L118.0 791.8 L118.2 790.9 L118.5 791.5 L118.7 791.8 L119.0 792.6 L119.2 791.9 L119.5 792.6 L119.7 793.6 L120.0 793.9 L120.2 794.0 L120.5 793.9 L120.7 794.4 L121.0 793.7 L121.2 793.9 L121.5 794.2 L121.7 793.8 L122.0 793.6 L122.2 793.6 L122.5 793.6 L122.7 793.4 L123.0 792.8 L123.2 792.5 L123.5 792.3 L123.7 790.5 L124.0 791.4 L124.2 791.6 L124.5 790.7 L124.7 790.2 L125.0 790.1 L125.2 789.6 L125.5 788.9 L125.7 788.6 L126.0 789.1 L126.2 788.1 L126.5 789.0 L126.7 789.1 L127.0 789.3 L127.2 788.9 L127.5 789.3 L127.7 788.8 L128.0 789.5 L128.2 789.7 L128.4 790.2 L128.7 791.1 L128.9 790.4 L129.2 791.4 L129.4 791.6 L129.7 791.5 L129.9 791.7 L130.2 790.8 L130.4 791.5 L130.7 791.6 L130.9 791.7 L131.2 791.6 L131.4 791.8 L131.7 790.5 L131.9 790.9 L132.2 789.4 L132.4 789.5 L132.7 789.3 L132.9 788.2 L133.2 788.6 L133.4 788.2 L133.7 786.8 L133.9 786.1 L134.2 785.7 L134.4 785.0 L134.7 785.4 L134.9 785.8 L135.2 785.5 L135.4 785.9 L135.7 785.4 L135.9 785.2 L136.2 785.2 L136.4 785.8 L136.7 786.8 L136.9 786.3 L137.2 787.5 L137.4 787.8 L137.7 786.4 L137.9 788.1 L138.2 788.7 L138.4 789.0 L138.7 789.3 L138.9 790.0 L139.2 790.5 L139.4 790.5 L139.7 790.1 L139.9 789.8 L140.2 789.8 L140.4 789.5 L140.7 789.7 L140.9 789.5 L141.2 789.2 L141.4 788.4 L141.7 787.9 L141.9 786.9 L142.2 786.8 L142.4 787.0 L142.7 787.5 L142.9 787.2 L143.2 786.6 L143.4 787.2 L143.7 786.2 L143.9 785.2 L144.2 785.5 L144.4 785.4 L144.7 784.7 L144.9 785.2 L145.2 784.5 L145.4 784.4 L145.7 782.8 L145.9 783.1 L146.2 783.1 L146.4 783.0 L146.7 783.3 L146.9 784.4 L147.2 784.6 L147.4 784.9 L147.7 784.6 L147.9 785.1 L148.2 785.1 L148.4 786.1 L148.7 785.5 L148.9 785.6 L149.2 786.0 L149.4 785.6 L149.7 785.8 L149.9 785.8 L150.2 785.6 L150.4 785.7 L150.7 785.1 L150.9 784.9 L151.2 785.0 L151.4 784.9 L151.7 784.4 L151.9 784.8 L152.2 783.9 L152.4 784.2 L152.7 784.3 L152.9 783.9 L153.2 784.1 L153.4 783.7 L153.7 782.1 L153.9 781.5 L154.2 781.9 L154.4 780.3 L154.7 780.7 L154.9 779.3 L155.2 779.2 L155.4 778.6 L155.7 778.3 L155.9 777.1 L156.2 777.2 L156.4 777.5 L156.7 778.4 L156.9 777.3 L157.2 777.3 L157.4 777.9 L157.7 778.9 L157.9 777.8 L158.2 778.4 L158.4 778.9 L158.7 779.5 L158.9 779.9 L159.2 779.4 L159.4 779.7 L159.7 779.7 L159.9 780.8 L160.2 781.2 L160.4 780.4 L160.7 781.5 L160.9 781.5 L161.2 781.6 L161.4 782.1 L161.7 781.9 L161.9 782.7 L162.2 782.6 L162.4 783.4 L162.7 783.2 L162.9 783.2 L163.2 782.2 L163.4 781.8 L163.7 782.8 L163.9 781.9 L164.2 782.5 L164.4 781.5 L164.7 780.8 L164.9 780.4 L165.2 779.3 L165.4 779.1 L165.7 777.9 L165.9 779.3 L166.2 778.8 L166.4 779.1 L166.7 778.2 L166.9 779.0 L167.2 779.3 L167.4 778.7 L167.7 779.1 L167.9 780.6 L168.2 780.4 L168.4 780.5 L168.7 780.0 L168.9 780.6 L169.2 780.5 L169.4 781.3 L169.7 781.8 L169.9 781.5 L170.2 781.8 L170.4 782.1 L170.7 782.2 L170.9 781.7 L171.2 781.9 L171.4 782.2 L171.7 782.3 L171.9 782.6 L172.2 783.0 L172.4 782.5 L172.7 781.5 L172.9 782.6 L173.2 781.8 L173.4 780.8 L173.7 781.0 L173.9 780.6 L174.2 780.3 L174.4 779.5 L174.7 779.2 L174.9 778.2 L175.2 777.9 L175.4 777.8 L175.7 777.1 L175.9 777.1 L176.2 777.4 L176.4 778.2 L176.7 777.9 L176.9 777.4 L177.2 777.1 L177.4 777.1 L177.7 776.7 L177.9 777.1 L178.2 777.3 L178.4 776.3 L178.7 777.3 L178.9 777.4 L179.2 777.2 L179.4 776.9 L179.7 777.1 L179.9 778.3 L180.2 777.8 L180.4 778.2 L180.7 779.2 L180.9 778.7 L181.2 778.7 L181.4 779.2 L181.7 780.1 L181.9 780.1 L182.2 780.0 L182.4 780.5 L182.7 780.4 L182.9 780.6 L183.2 780.4 L183.4 780.6 L183.7 780.6 L183.9 780.3 L184.2 780.8 L184.4 780.5 L184.7 780.0 L184.9 779.5 L185.2 779.0 L185.4 778.9 L185.7 777.9 L185.9 777.1 L186.2 777.1 L186.4 776.8 L186.7 777.6 L186.9 775.6 L187.2 775.1 L187.4 774.6 L187.7 775.4 L187.9 774.6 L188.2 775.2 L188.4 775.4 L188.7 775.4 L188.9 776.0 L189.2 776.6 L189.4 775.9 L189.7 776.7 L189.9 777.7 L190.2 778.4 L190.4 778.9 L190.7 779.0 L190.9 777.8 L191.2 779.2 L191.4 779.4 L191.7 778.8 L191.9 779.3 L192.2 778.7 L192.4 779.2 L192.7 779.2 L192.9 778.1 L193.2 778.6 L193.4 778.0 L193.7 777.6 L193.9 777.5 L194.2 777.4 L194.4 777.4 L194.7 777.0 L194.9 776.0 L195.2 776.1 L195.4 775.3 L195.7 775.4 L195.9 775.2 L196.2 775.1 L196.4 774.5 L196.7 774.2 L196.9 774.2 L197.2 774.4 L197.4 774.1 L197.7 774.4 L197.9 774.7 L198.2 774.0 L198.4 773.8 L198.7 774.5 L198.9 774.0 L199.2 774.9 L199.4 775.1 L199.7 776.0 L199.9 776.7 L200.2 777.0 L200.4 777.6 L200.7 777.6 L200.9 777.7 L201.2 778.2 L201.4 778.1 L201.7 778.4 L201.9 779.3 L202.2 779.4 L202.4 779.8 L202.7 779.2 L202.9 779.2 L203.2 779.0 L203.4 777.8 L203.7 778.7 L203.9 778.0 L204.2 777.4 L204.4 778.1 L204.7 776.5 L204.9 776.5 L205.2 775.4 L205.4 774.8 L205.7 773.7 L205.9 773.8 L206.2 773.3 L206.4 773.9 L206.7 774.0 L206.9 773.4 L207.2 772.8 L207.4 774.2 L207.7 773.5 L207.9 773.0 L208.2 773.4 L208.4 773.5 L208.7 773.0 L208.9 773.9 L209.2 773.5 L209.4 773.5 L209.7 772.4 L209.9 774.0 L210.2 773.3 L210.4 773.1 L210.7 774.2 L210.9 774.3 L211.2 774.2 L211.4 774.8 L211.7 774.7 L211.9 774.5 L212.2 775.0 L212.4 774.5 L212.7 775.1 L212.9 774.8 L213.2 775.3 L213.4 775.6 L213.7 775.2 L213.9 775.9 L214.2 776.7 L214.4 776.6 L214.7 775.7 L214.9 776.3 L215.2 776.1 L215.4 775.9 L215.7 775.3 L215.9 775.6 L216.2 775.1 L216.4 774.5 L216.7 774.8 L216.9 774.0 L217.2 775.3 L217.4 775.2 L217.7 774.1 L217.9 774.3 L218.2 773.8 L218.4 774.5 L218.7 774.9 L218.9 773.5 L219.2 774.1 L219.4 773.5 L219.7 773.1 L219.9 773.0 L220.2 773.0 L220.4 772.5 L220.7 773.2 L220.9 773.2 L221.2 774.0 L221.4 773.6 L221.7 774.0 L221.9 774.8 L222.2 775.3 L222.4 775.4 L222.7 775.8 L222.9 774.9 L223.2 775.0 L223.4 775.0 L223.7 775.4 L223.9 775.6 L224.2 775.2 L224.4 775.5 L224.7 774.2 L224.9 775.2 L225.2 774.3 L225.4 773.7 L225.7 773.3 L225.9 772.5 L226.2 772.9 L226.4 772.7 L226.7 771.9 L226.9 772.2 L227.2 771.9 L227.4 771.0 L227.7 770.7 L227.9 770.9 L228.2 770.9 L228.4 771.1 L228.7 770.6 L228.9 771.2 L229.2 771.4 L229.4 771.8 L229.7 772.4 L229.9 771.9 L230.2 772.3 L230.4 772.6 L230.7 772.9 L230.9 773.5 L231.2 773.9 L231.4 773.6 L231.7 774.9 L231.9 775.2 L232.2 774.5 L232.4 775.2 L232.7 775.3 L232.9 774.9 L233.2 775.6 L233.4 774.3 L233.7 773.5 L233.9 773.7 L234.2 773.2 L234.4 773.0 L234.7 772.5 L234.9 772.6 L235.2 772.3 L235.4 771.4 L235.7 772.4 L235.9 771.5 L236.2 771.2 L236.4 772.0 L236.7 771.3 L236.9 771.5 L237.2 770.4 L237.4 770.5 L237.7 770.6 L237.9 770.4 L238.2 769.9 L238.4 770.0 L238.7 769.2 L238.9 769.4 L239.2 769.3 L239.4 769.6 L239.7 768.9 L239.9 769.5 L240.2 769.7 L240.4 769.4 L240.7 770.1 L240.9 770.6 L241.2 770.8 L241.4 770.8 L241.7 771.0 L241.9 772.0 L242.2 772.5 L242.4 773.0 L242.7 773.6 L242.9 773.8 L243.2 773.8 L243.4 774.3 L243.7 774.7 L243.9 774.3 L244.2 775.8 L244.4 774.9 L244.7 774.8 L244.9 774.3 L245.2 773.8 L245.4 773.3 L245.7 772.5 L245.9 771.9 L246.2 771.9 L246.4 771.6 L246.7 770.7 L246.9 770.2 L247.2 770.2 L247.4 770.6 L247.7 770.5 L247.9 769.9 L248.2 770.2 L248.4 769.9 L248.7 769.9 L248.9 769.4 L249.2 769.1 L249.4 768.8 L249.7 768.7 L249.9 768.7 L250.2 768.4 L250.4 768.8 L250.7 769.2 L250.9 769.2 L251.2 768.3 L251.4 768.3 L251.7 769.8 L251.9 770.2 L252.2 771.2 L252.4 771.5 L252.7 772.0 L252.9 772.0 L253.2 772.0 L253.4 772.3 L253.7 773.3 L253.9 772.4 L254.2 772.1 L254.4 772.7 L254.7 772.0 L254.9 771.9 L255.2 771.7 L255.4 771.0 L255.7 769.9 L255.9 770.1 L256.2 770.2 L256.4 770.4 L256.7 769.9 L256.9 770.2 L257.2 770.6 L257.4 770.5 L257.7 769.5 L257.9 769.1 L258.2 769.4 L258.4 769.1 L258.7 769.9 L258.9 769.3 L259.2 769.5 L259.4 768.9 L259.7 768.4 L259.9 768.9 L260.2 768.7 L260.4 767.8 L260.7 767.7 L260.9 768.7 L261.2 768.3 L261.4 768.4 L261.7 768.8 L261.9 767.8 L262.2 769.1 L262.4 769.5 L262.7 769.8 L262.9 769.8 L263.2 770.7 L263.4 770.2 L263.7 770.6 L263.9 770.3 L264.2 772.2 L264.4 770.5 L264.7 770.8 L264.9 771.6 L265.2 771.4 L265.4 770.7 L265.7 771.3 L265.9 771.3 L266.2 770.4 L266.4 770.8 L266.7 771.2 L266.9 770.2 L267.2 769.3 L267.4 769.6 L267.7 770.1 L267.9 768.5 L268.2 769.3 L268.4 769.0 L268.7 769.3 L268.9 768.7 L269.2 768.5 L269.4 768.1 L269.7 767.9 L269.9 768.7 L270.2 768.7 L270.4 768.8 L270.7 767.8 L270.9 767.5 L271.2 767.5 L271.4 767.4 L271.7 767.0 L271.9 767.2 L272.2 767.5 L272.4 767.5 L272.7 767.4 L272.9 767.8 L273.2 767.4 L273.4 767.3 L273.7 769.1 L273.9 769.0 L274.2 769.3 L274.4 769.4 L274.7 769.6 L274.9 769.8 L275.2 769.9 L275.4 769.2 L275.7 768.7 L275.9 769.0 L276.2 768.4 L276.4 768.8 L276.7 768.3 L276.9 767.5 L277.2 768.0 L277.4 767.4 L277.7 767.6 L277.9 766.8 L278.2 767.7 L278.4 767.2 L278.7 766.9 L278.9 766.8 L279.2 766.2 L279.4 766.0 L279.7 766.0 L279.9 766.0 L280.2 765.0 L280.4 765.1 L280.7 765.9 L280.9 765.0 L281.2 764.2 L281.4 764.3 L281.7 764.6 L281.9 765.2 L282.2 765.1 L282.4 765.3 L282.7 764.8 L282.9 764.4 L283.2 765.7 L283.4 765.4 L283.7 765.6 L283.9 766.1 L284.2 766.1 L284.4 766.9 L284.7 766.5 L284.9 766.2 L285.2 766.9 L285.4 766.9 L285.7 767.7 L285.9 768.0 L286.2 767.7 L286.4 767.6 L286.7 767.9 L286.9 767.9 L287.2 768.1 L287.4 767.4 L287.7 766.5 L287.9 767.1 L288.2 766.1 L288.4 766.4 L288.7 765.7 L288.9 765.8 L289.2 764.7 L289.4 765.0 L289.7 765.3 L289.9 764.7 L290.2 765.0 L290.4 764.4 L290.7 764.2 L290.9 764.4 L291.2 763.6 L291.4 764.0 L291.7 763.8 L291.9 763.8 L292.2 763.0 L292.4 762.9 L292.7 763.5 L292.9 764.8 L293.2 765.0 L293.4 766.1 L293.7 766.0 L293.9 766.0 L294.2 766.7 L294.4 767.3 L294.7 768.1 L294.9 768.9 L295.2 769.2 L295.4 769.1 L295.7 768.2 L295.9 767.7 L296.2 767.6 L296.4 767.7 L296.7 767.4 L296.9 768.7 L297.2 768.5 L297.4 767.6 L297.7 768.0 L297.9 769.1 L298.2 768.1 L298.4 767.8 L298.7 767.2 L298.9 767.5 L299.2 766.2 L299.4 766.7 L299.7 765.6 L299.9 766.2 L300.2 765.6 L300.4 765.4 L300.7 764.8 L300.9 764.2 L301.2 763.2 L301.4 763.9 L301.7 763.8 L301.9 764.3 L302.2 763.2 L302.4 763.9 L302.7 763.5 L302.9 763.6 L303.2 764.0 L303.4 764.2 L303.7 764.3 L303.9 765.0 L304.2 765.9 L304.4 766.0 L304.7 766.9 L304.9 766.8 L305.2 767.8 L305.4 766.8 L305.7 768.0 L305.9 767.2 L306.2 768.5 L306.4 767.9 L306.7 767.8 L306.9 767.8 L307.2 767.2 L307.4 767.4 L307.7 766.8 L307.9 766.9 L308.2 766.2 L308.4 766.2 L308.7 765.9 L308.9 766.1 L309.2 766.4 L309.4 765.0 L309.7 764.7 L309.9 764.7 L310.2 764.2 L310.4 764.6 L310.7 764.9 L310.9 762.7 L311.2 763.2 L311.4 764.0 L311.7 763.6 L311.9 763.0 L312.2 763.1 L312.4 763.5 L312.7 763.3 L312.9 763.1 L313.2 762.7 L313.4 763.6 L313.7 763.7 L313.9 764.4 L314.2 763.6 L314.4 764.9 L314.7 764.9 L314.9 765.3 L315.2 765.9 L315.4 765.5 L315.7 765.8 L315.9 766.6 L316.2 766.0 L316.4 765.8 L316.7 765.9 L316.9 766.1 L317.2 765.9 L317.4 764.5 L317.7 764.3 L317.9 764.5 L318.2 764.0 L318.4 762.7 L318.7 761.7 L318.9 763.1 L319.2 762.5 L319.4 762.4 L319.7 762.1 L319.9 761.9 L320.2 760.7 L320.4 761.0 L320.7 760.8 L320.9 761.2 L321.2 760.6 L321.4 760.0 L321.7 760.8 L321.9 760.0 L322.2 760.4 L322.4 759.9 L322.7 760.6 L322.9 760.9 L323.2 761.4 L323.4 761.9 L323.7 761.8 L323.9 762.0 L324.2 762.3 L324.4 763.3 L324.7 763.4 L324.9 764.5 L325.2 764.2 L325.4 764.7 L325.7 764.1 L325.9 764.0 L326.2 763.8 L326.4 763.0 L326.7 764.2 L326.9 764.6 L327.2 763.3 L327.4 763.6 L327.7 763.7 L327.9 764.0 L328.2 763.1 L328.4 762.9 L328.7 761.4 L328.9 761.8 L329.2 762.5 L329.4 762.5 L329.7 762.2 L329.9 762.1 L330.2 761.9 L330.4 761.0 L330.7 762.0 L330.9 761.6 L331.2 761.5 L331.4 761.1 L331.7 761.9 L331.9 762.4 L332.2 761.9 L332.4 762.6 L332.7 760.9 L332.9 760.9 L333.2 761.5 L333.4 762.5 L333.7 762.3 L333.9 761.5 L334.2 762.8 L334.4 762.2 L334.7 763.3 L334.9 762.8 L335.2 763.4 L335.4 763.5 L335.7 764.4 L335.9 763.8 L336.2 764.8 L336.4 764.3 L336.7 764.5 L336.9 764.0 L337.2 763.4 L337.4 763.3 L337.7 763.0 L337.9 762.1 L338.2 761.4 L338.4 760.8 L338.7 760.6 L338.9 760.5 L339.2 760.6 L339.4 760.1 L339.7 760.4 L339.9 760.5 L340.2 760.2 L340.4 759.8 L340.7 759.4 L340.9 760.4 L341.2 760.7 L341.4 760.4 L341.7 760.9 L341.9 760.8 L342.2 761.0 L342.4 761.4 L342.7 760.6 L342.9 761.6 L343.2 761.5 L343.4 761.8 L343.7 763.2 L343.9 762.7 L344.2 763.0 L344.4 763.0 L344.7 762.4 L344.9 762.4 L345.2 762.5 L345.4 763.0 L345.7 763.9 L345.9 763.8 L346.2 763.0 L346.4 762.2 L346.7 763.0 L346.9 762.8 L347.2 763.0 L347.4 762.3 L347.7 763.2 L347.9 761.9 L348.2 761.7 L348.4 760.5 L348.7 760.2 L348.9 758.7 L349.2 758.6 L349.4 759.3 L349.7 759.3 L349.9 758.3 L350.2 758.4 L350.4 758.8 L350.7 758.9 L350.9 759.2 L351.2 758.9 L351.4 758.6 L351.7 759.2 L351.9 759.9 L352.2 760.2 L352.4 760.8 L352.7 760.4 L352.9 761.5 L353.2 761.8 L353.4 761.5 L353.7 760.4 L353.9 760.9 L354.2 761.7 L354.4 762.7 L354.7 762.1 L354.9 762.5 L355.2 762.4 L355.4 762.3 L355.7 762.0 L355.9 761.0 L356.2 761.4 L356.4 760.9 L356.7 762.2 L356.9 762.8 L357.2 761.6 L357.4 760.1 L357.7 760.7 L357.9 760.6 L358.2 759.3 L358.4 759.8 L358.7 760.2 L358.9 760.0 L359.2 758.9 L359.4 759.5 L359.7 760.2 L359.9 759.9 L360.2 759.2 L360.4 759.9 L360.7 759.0 L360.9 759.2 L361.2 760.2 L361.4 760.1 L361.7 759.4 L361.9 758.9 L362.2 760.0 L362.4 759.2 L362.7 759.4 L362.9 759.5 L363.2 759.6 L363.4 758.7 L363.7 758.8 L363.9 759.7 L364.2 759.7 L364.4 759.9 L364.7 760.4 L364.9 760.1 L365.2 759.1 L365.4 759.4 L365.7 758.6 L365.9 759.1 L366.2 758.8 L366.4 760.0 L366.7 760.3 L366.9 759.4 L367.2 758.7 L367.4 758.5 L367.7 758.4 L367.9 758.1 L368.2 757.7 L368.4 757.9 L368.7 758.5 L368.9 757.8 L369.2 757.4 L369.4 757.5 L369.7 756.9 L369.9 757.1 L370.2 756.9 L370.4 756.7 L370.7 756.9 L370.9 756.7 L371.2 756.2 L371.4 756.0 L371.7 755.8 L371.9 756.1 L372.2 756.9 L372.4 756.8 L372.7 757.4 L372.9 757.5 L373.2 757.4 L373.4 758.1 L373.7 758.7 L373.9 758.3 L374.2 759.5 L374.4 759.6 L374.7 759.2 L374.9 759.9 L375.2 758.9 L375.4 759.4 L375.7 759.3 L375.9 759.1 L376.2 759.1 L376.4 758.4 L376.7 757.2 L376.9 757.5 L377.2 756.4 L377.4 756.6 L377.7 756.3 L377.9 755.4 L378.2 756.0 L378.4 755.6 L378.7 755.8 L378.9 755.0 L379.2 755.3 L379.4 754.9 L379.7 755.6 L379.9 755.6 L380.2 755.5 L380.4 755.6 L380.7 756.3 L380.9 756.3 L381.2 756.9 L381.4 757.0 L381.7 757.1 L381.9 757.5 L382.2 758.0 L382.4 759.1 L382.7 759.1 L382.9 759.0 L383.2 759.4 L383.4 758.5 L383.7 758.9 L383.9 759.2 L384.2 758.5 L384.4 757.8 L384.7 758.0 L384.9 757.3 L385.2 756.9 L385.4 756.3 L385.7 756.3 L385.9 755.7 L386.2 754.9 L386.4 754.5 L386.7 754.1 L386.9 752.9 L387.2 752.7 L387.4 752.8 L387.7 752.9 L387.9 753.3 L388.2 753.0 L388.4 752.7 L388.7 751.9 L388.9 752.1 L389.2 751.9 L389.4 753.3 L389.7 753.2 L389.9 752.9 L390.2 753.1 L390.4 751.6 L390.7 752.0 L390.9 752.4 L391.2 752.6 L391.4 752.5 L391.7 752.6 L391.9 753.9 L392.2 754.4 L392.4 754.8 L392.7 754.3 L392.9 754.2 L393.2 754.3 L393.4 755.7 L393.7 754.9 L393.9 755.1 L394.2 753.8 L394.4 754.4 L394.7 755.1 L394.9 754.5 L395.2 754.1 L395.4 753.7 L395.7 754.1 L395.9 752.6 L396.2 752.2 L396.4 751.3 L396.7 752.0 L396.9 751.2 L397.2 751.2 L397.4 749.9 L397.7 750.5 L397.9 750.5 L398.2 750.2 L398.4 749.9 L398.7 749.4 L398.9 749.7 L399.2 749.8 L399.4 750.4 L399.7 749.2 L399.9 750.3 L400.2 751.0 L400.4 750.4 L400.7 750.5 L400.9 752.1 L401.2 752.5 L401.4 752.5 L401.7 753.9 L401.9 753.8 L402.2 753.8 L402.4 754.5 L402.7 753.8 L402.9 753.9 L403.2 753.3 L403.4 754.0 L403.7 752.7 L403.9 753.1 L404.2 752.4 L404.4 752.3 L404.7 751.8 L404.9 751.0 L405.2 751.9 L405.4 751.9 L405.7 751.7 L405.9 751.1 L406.2 751.3 L406.4 751.3 L406.7 750.6 L406.9 750.5 L407.2 750.7 L407.4 752.1 L407.7 750.7 L407.9 751.2 L408.2 750.9 L408.4 751.5 L408.7 750.7 L408.9 750.8 L409.2 751.9 L409.4 751.2 L409.7 752.0 L409.9 751.7 L410.2 751.1 L410.4 750.5 L410.7 751.4 L410.9 751.2 L411.2 752.3 L411.4 752.2 L411.7 751.9 L411.9 752.2 L412.2 752.7 L412.4 752.0 L412.7 752.1 L412.9 752.7 L413.2 752.7 L413.4 752.1 L413.7 751.6 L413.9 752.1 L414.2 752.1 L414.4 752.2 L414.7 752.5 L414.9 752.5 L415.2 751.7 L415.4 750.7 L415.7 751.3 L415.9 750.4 L416.2 751.3 L416.4 750.2 L416.7 750.1 L416.9 749.6 L417.2 748.8 L417.4 748.1 L417.7 748.7 L417.9 748.4 L418.2 748.1 L418.4 748.3 L418.7 748.1 L418.9 748.6 L419.2 748.0 L419.4 747.7 L419.7 747.7 L419.9 748.4 L420.2 748.5" fill="none" stroke="#ff0000" stroke-width="4.3" stroke-linejoin="round" stroke-linecap="round" />
<path d="M66.8 990.6 L67.0 988.5 L67.3 987.9 L67.5 985.4 L67.8 983.8 L68.0 987.0 L68.3 989.7 L68.5 991.6 L68.8 991.4 L69.0 988.3 L69.3 988.1 L69.5 987.8 L69.8 986.4 L70.0 985.1 L70.3 982.6 L70.5 981.0 L70.8 980.1 L71.0 979.1 L71.3 976.1 L71.5 975.2 L71.8 973.5 L72.0 971.5 L72.3 971.0 L72.5 969.9 L72.8 968.9 L73.0 967.5 L73.3 966.8 L73.5 965.3 L73.8 965.0 L74.0 964.8 L74.3 964.2 L74.5 964.5 L74.8 964.7 L75.0 964.2 L75.3 964.2 L75.5 964.0 L75.8 962.6 L76.0 961.3 L76.3 961.7 L76.5 960.9 L76.8 960.4 L77.0 960.1 L77.3 958.9 L77.5 958.2 L77.8 955.4 L78.0 956.0 L78.3 954.2 L78.5 953.6 L78.8 952.4 L79.0 950.6 L79.3 950.1 L79.5 949.2 L79.8 949.1 L80.0 948.9 L80.3 948.3 L80.5 947.7 L80.8 946.7 L81.0 945.1 L81.3 944.2 L81.5 943.2 L81.8 942.4 L82.0 940.3 L82.3 938.5 L82.5 938.1 L82.8 936.7 L83.0 937.1 L83.3 936.2 L83.5 935.1 L83.8 934.3 L84.0 933.9 L84.3 934.0 L84.5 931.8 L84.8 932.1 L85.0 931.3 L85.3 928.8 L85.5 927.8 L85.8 926.5 L86.0 924.7 L86.3 924.6 L86.5 924.0 L86.8 923.4 L87.0 922.9 L87.3 921.1 L87.5 920.6 L87.8 919.8 L88.0 919.7 L88.3 918.7 L88.5 918.3 L88.8 917.3 L89.0 916.3 L89.3 916.0 L89.5 915.2 L89.8 914.3 L90.0 913.5 L90.3 914.3 L90.5 913.9 L90.8 914.7 L91.0 914.3 L91.3 912.8 L91.5 913.3 L91.8 913.5 L92.0 914.7 L92.3 914.1 L92.5 914.5 L92.8 914.9 L93.0 915.4 L93.3 917.3 L93.5 918.0 L93.8 916.1 L94.0 915.9 L94.3 916.0 L94.5 915.6 L94.8 915.4 L95.0 915.2 L95.3 913.6 L95.5 913.1 L95.8 912.9 L96.0 913.3 L96.3 912.6 L96.5 911.6 L96.8 911.2 L97.0 911.4 L97.3 911.0 L97.5 910.7 L97.8 910.1 L98.0 911.2 L98.3 910.3 L98.5 910.4 L98.8 911.5 L99.0 911.2 L99.3 909.9 L99.5 911.6 L99.8 911.7 L100.0 911.9 L100.3 912.5 L100.5 912.4 L100.8 911.7 L101.0 912.1 L101.3 911.1 L101.5 911.1 L101.8 910.0 L102.0 909.3 L102.3 907.9 L102.5 907.3 L102.8 906.6 L103.0 907.3 L103.3 905.9 L103.5 905.2 L103.8 904.5 L104.0 904.0 L104.3 901.7 L104.5 902.6 L104.8 900.6 L105.0 899.7 L105.3 899.2 L105.5 899.4 L105.8 898.6 L106.0 897.2 L106.3 898.1 L106.5 898.6 L106.8 898.0 L107.0 897.5 L107.3 897.1 L107.5 896.4 L107.8 896.3 L108.0 895.9 L108.3 892.8 L108.5 892.6 L108.8 890.8 L109.0 889.9 L109.3 889.0 L109.5 888.8 L109.8 886.9 L110.0 886.3 L110.3 884.4 L110.5 883.4 L110.8 881.5 L111.0 879.4 L111.3 877.0 L111.5 875.9 L111.8 874.2 L112.0 873.9 L112.3 873.4 L112.5 871.5 L112.8 871.0 L113.0 870.3 L113.3 869.4 L113.5 868.8 L113.8 869.6 L114.0 868.0 L114.3 868.2 L114.5 867.8 L114.8 866.8 L115.0 868.4 L115.3 867.5 L115.5 866.9 L115.8 867.2 L116.0 867.3 L116.3 867.4 L116.5 866.6 L116.8 867.4 L117.0 867.1 L117.3 866.7 L117.5 865.3 L117.8 864.7 L118.0 863.8 L118.3 863.0 L118.5 861.5 L118.8 860.5 L119.0 861.0 L119.3 859.9 L119.5 859.7 L119.8 860.1 L120.0 859.5 L120.3 858.4 L120.5 857.9 L120.8 857.3 L121.0 858.0 L121.3 857.2 L121.5 857.1 L121.8 855.8 L122.0 856.2 L122.3 855.5 L122.5 855.5 L122.8 854.9 L123.0 854.8 L123.3 853.5 L123.5 852.7 L123.8 852.0 L124.0 850.8 L124.3 850.0 L124.5 848.8 L124.8 847.9 L125.0 847.0 L125.3 845.6 L125.5 844.1 L125.8 844.2 L126.0 842.1 L126.3 839.9 L126.5 840.1 L126.8 838.7 L127.0 838.8 L127.3 839.7 L127.5 839.3 L127.8 839.6 L128.1 838.3 L128.3 837.7 L128.6 837.9 L128.8 837.8 L129.1 837.2 L129.3 836.0 L129.6 835.5 L129.8 836.3 L130.1 837.1 L130.3 838.3 L130.6 838.7 L130.8 838.4 L131.1 838.3 L131.3 837.3 L131.6 836.9 L131.8 837.4 L132.1 835.5 L132.3 833.9 L132.6 832.9 L132.8 832.6 L133.1 831.8 L133.3 830.4 L133.6 830.8 L133.8 829.9 L134.1 829.6 L134.3 829.8 L134.6 829.7 L134.8 827.9 L135.1 828.0 L135.3 827.2 L135.6 827.0 L135.8 827.3 L136.1 826.8 L136.3 826.4 L136.6 826.7 L136.8 827.1 L137.1 827.0 L137.3 826.3 L137.6 825.8 L137.8 825.2 L138.1 824.6 L138.3 824.4 L138.6 824.4 L138.8 822.5 L139.1 823.1 L139.3 821.7 L139.6 820.6 L139.8 819.1 L140.1 818.2 L140.3 817.0 L140.6 814.8 L140.8 815.1 L141.1 812.6 L141.3 812.4 L141.6 812.3 L141.8 811.7 L142.1 810.4 L142.3 810.7 L142.6 810.3 L142.8 810.8 L143.1 810.9 L143.3 811.1 L143.6 810.1 L143.8 809.5 L144.1 810.8 L144.3 809.8 L144.6 810.2 L144.8 811.1 L145.1 810.7 L145.3 810.1 L145.6 810.3 L145.8 810.7 L146.1 810.6 L146.3 810.2 L146.6 809.9 L146.8 808.8 L147.1 809.7 L147.3 809.6 L147.6 808.9 L147.8 808.4 L148.1 809.3 L148.3 808.6 L148.6 807.6 L148.8 806.3 L149.1 806.5 L149.3 806.5 L149.6 806.8 L149.8 805.9 L150.1 805.8 L150.3 805.2 L150.6 805.2 L150.8 804.4 L151.1 804.6 L151.3 804.7 L151.6 804.5 L151.8 804.6 L152.1 804.5 L152.3 803.6 L152.6 804.1 L152.8 802.4 L153.1 803.4 L153.3 802.2 L153.6 801.4 L153.8 799.3 L154.1 797.9 L154.3 796.3 L154.6 793.7 L154.8 794.3 L155.1 792.3 L155.3 791.1 L155.6 789.9 L155.8 788.1 L156.1 786.8 L156.3 784.9 L156.6 784.6 L156.8 783.7 L157.1 782.6 L157.3 782.2 L157.6 781.9 L157.8 782.5 L158.1 783.1 L158.3 783.3 L158.6 784.6 L158.8 785.3 L159.1 785.2 L159.3 786.2 L159.6 785.4 L159.8 785.3 L160.1 784.4 L160.3 784.5 L160.6 783.3 L160.8 782.9 L161.1 783.6 L161.3 783.5 L161.6 783.6 L161.8 782.6 L162.1 783.7 L162.3 783.4 L162.6 783.4 L162.8 783.1 L163.1 781.2 L163.3 781.0 L163.6 780.5 L163.8 780.6 L164.1 780.7 L164.3 779.5 L164.6 779.3 L164.8 778.8 L165.1 778.8 L165.3 778.4 L165.6 777.6 L165.8 776.9 L166.1 777.2 L166.3 777.4 L166.6 777.5 L166.8 778.0 L167.1 778.6 L167.3 779.2 L167.6 779.4 L167.8 779.3 L168.1 779.9 L168.3 779.2 L168.6 779.6 L168.8 780.3 L169.1 778.8 L169.3 779.1 L169.6 778.1 L169.8 776.8 L170.1 776.9 L170.3 776.5 L170.6 774.5 L170.8 773.9 L171.1 773.2 L171.3 772.6 L171.6 772.4 L171.8 773.4 L172.1 772.6 L172.3 772.6 L172.6 773.1 L172.8 773.5 L173.1 773.8 L173.3 773.3 L173.6 773.4 L173.8 773.2 L174.1 773.0 L174.3 773.4 L174.6 772.7 L174.8 773.5 L175.1 773.1 L175.3 773.6 L175.6 773.7 L175.8 774.4 L176.1 775.1 L176.3 776.2 L176.6 776.0 L176.8 775.7 L177.1 775.6 L177.3 775.1 L177.6 774.5 L177.8 773.9 L178.1 773.4 L178.3 771.8 L178.6 771.6 L178.8 771.5 L179.1 770.3 L179.3 771.3 L179.6 771.6 L179.8 771.6 L180.1 770.8 L180.3 771.4 L180.6 773.4 L180.8 773.2 L181.1 773.2 L181.3 771.5 L181.6 772.9 L181.8 771.8 L182.1 772.3 L182.3 771.2 L182.6 770.3 L182.8 770.5 L183.1 772.6 L183.3 772.9 L183.6 772.7 L183.8 773.9 L184.1 774.2 L184.3 774.7 L184.6 774.9 L184.8 773.9 L185.1 772.8 L185.3 773.3 L185.6 773.2 L185.8 772.1 L186.1 771.6 L186.3 771.7 L186.6 771.3 L186.8 770.6 L187.1 770.6 L187.3 769.0 L187.6 769.6 L187.8 769.8 L188.1 770.3 L188.3 769.3 L188.6 769.1 L188.8 768.6 L189.1 769.3 L189.3 769.2 L189.6 769.3 L189.8 770.0 L190.1 770.1 L190.3 770.5 L190.6 771.1 L190.8 772.3 L191.1 773.4 L191.3 773.1 L191.6 773.0 L191.8 773.2 L192.1 773.1 L192.3 772.9 L192.6 772.3 L192.8 771.6 L193.1 770.8 L193.3 772.6 L193.6 772.4 L193.8 771.9 L194.1 770.7 L194.3 771.1 L194.6 770.3 L194.8 769.8 L195.1 768.9 L195.3 768.9 L195.6 768.5 L195.8 768.0 L196.1 769.4 L196.3 771.1 L196.6 772.7 L196.8 774.6 L197.1 775.7 L197.3 777.2 L197.6 777.7 L197.8 779.0 L198.1 779.7 L198.3 780.1 L198.6 779.2 L198.8 778.0 L199.1 777.1 L199.3 776.2 L199.6 776.0 L199.8 774.6 L200.1 772.9 L200.3 773.3 L200.6 771.1 L200.8 770.9 L201.1 769.0 L201.3 768.8 L201.6 768.1 L201.8 767.8 L202.1 767.8 L202.3 767.5 L202.6 768.1 L202.8 768.5 L203.1 769.0 L203.3 768.2 L203.6 768.7 L203.8 769.4 L204.1 769.2 L204.3 769.5 L204.6 769.8 L204.8 770.8 L205.1 770.8 L205.3 771.0 L205.6 771.4 L205.8 771.9 L206.1 771.9 L206.3 771.7 L206.6 773.2 L206.8 771.9 L207.1 772.0 L207.3 771.8 L207.6 770.6 L207.8 770.5 L208.1 769.3 L208.3 769.2 L208.6 768.1 L208.8 767.6 L209.1 767.6 L209.3 768.1 L209.6 767.1 L209.8 767.4 L210.1 767.0 L210.3 766.4 L210.6 766.9 L210.8 766.9 L211.1 767.9 L211.3 768.2 L211.6 768.0 L211.8 768.1 L212.1 769.1 L212.3 770.0 L212.6 769.7 L212.8 771.1 L213.1 770.6 L213.3 770.8 L213.6 770.3 L213.8 770.7 L214.1 770.7 L214.3 771.0 L214.6 772.3 L214.8 772.4 L215.1 773.4 L215.3 774.6 L215.6 775.7 L215.8 775.9 L216.1 775.2 L216.3 774.8 L216.6 773.6 L216.8 771.3 L217.1 770.7 L217.3 769.5 L217.6 768.1 L217.8 768.7 L218.1 768.0 L218.3 767.7 L218.6 769.2 L218.8 768.9 L219.1 769.7 L219.3 770.6 L219.6 771.3 L219.8 770.7 L220.1 772.1 L220.3 771.2 L220.6 770.3 L220.8 771.1 L221.1 771.1 L221.3 769.1 L221.6 768.0 L221.8 765.8 L222.1 765.7 L222.3 765.8 L222.6 764.8 L222.8 764.5 L223.1 763.9 L223.3 764.5 L223.6 764.2 L223.8 764.6 L224.1 765.2 L224.3 765.1 L224.6 765.6 L224.8 765.6 L225.1 765.6 L225.3 766.3 L225.6 766.0 L225.8 767.8 L226.1 768.9 L226.3 768.7 L226.6 768.8 L226.8 768.2 L227.1 768.8 L227.3 769.1 L227.6 769.2 L227.8 767.3 L228.1 767.2 L228.3 766.8 L228.6 766.5 L228.8 766.2 L229.1 765.4 L229.3 765.6 L229.6 765.3 L229.8 766.8 L230.1 766.8 L230.3 765.8 L230.6 765.3 L230.8 765.1 L231.1 763.9 L231.3 763.8 L231.6 764.3 L231.8 762.7 L232.1 762.6 L232.3 763.3 L232.6 764.4 L232.8 764.8 L233.1 765.5 L233.3 766.0 L233.6 764.6 L233.8 765.7 L234.1 766.0 L234.3 765.9 L234.6 765.8 L234.8 766.1 L235.1 766.3 L235.3 765.7 L235.6 766.7 L235.8 766.2 L236.1 766.0 L236.3 766.9 L236.6 766.2 L236.8 765.5 L237.1 764.8 L237.3 764.6 L237.6 763.7 L237.8 762.6 L238.1 762.2 L238.3 762.1 L238.6 761.0 L238.8 761.3 L239.1 761.2 L239.3 762.8 L239.6 762.4 L239.8 765.4 L240.1 766.0 L240.3 765.5 L240.6 765.5 L240.8 766.0 L241.1 766.0 L241.3 767.2 L241.6 767.2 L241.8 766.7 L242.1 766.7 L242.3 766.9 L242.6 767.0 L242.8 767.4 L243.1 767.2 L243.3 765.0 L243.6 765.8 L243.8 766.1 L244.1 764.5 L244.3 763.1 L244.6 764.1 L244.8 762.9 L245.1 762.5 L245.3 762.6 L245.6 762.5 L245.8 762.0 L246.1 762.2 L246.3 763.6 L246.6 762.9 L246.8 764.3 L247.1 763.8 L247.3 764.3 L247.6 764.3 L247.8 765.3 L248.1 765.8 L248.3 765.5 L248.6 766.1 L248.8 765.9 L249.1 766.7 L249.3 765.7 L249.6 765.9 L249.8 764.8 L250.1 765.3 L250.3 765.3 L250.6 765.2 L250.8 764.4 L251.1 764.0 L251.3 765.4 L251.6 764.4 L251.8 762.7 L252.1 763.1 L252.3 763.7 L252.6 763.3 L252.8 764.2 L253.1 764.3 L253.3 763.3 L253.6 766.4 L253.8 765.7 L254.1 766.9 L254.3 766.0 L254.6 766.6 L254.8 767.0 L255.1 767.1 L255.3 768.2 L255.6 768.1 L255.8 767.7 L256.1 766.6 L256.3 766.7 L256.6 765.7 L256.8 766.3 L257.1 765.8 L257.3 765.4 L257.6 764.2 L257.8 763.8 L258.1 764.0 L258.3 763.6 L258.6 762.5 L258.8 762.8 L259.1 761.5 L259.3 760.4 L259.6 760.7 L259.8 761.5 L260.1 761.5 L260.3 761.3 L260.6 762.0 L260.8 763.1 L261.1 764.0 L261.3 765.1 L261.6 765.3 L261.8 765.8 L262.1 766.8 L262.3 766.5 L262.6 767.0 L262.8 766.7 L263.1 766.5 L263.3 765.4 L263.6 765.8 L263.8 765.9 L264.1 765.0 L264.3 765.5 L264.6 764.8 L264.8 764.0 L265.1 764.1 L265.3 764.5 L265.6 763.7 L265.8 764.4 L266.1 763.8 L266.3 762.9 L266.6 763.7 L266.8 763.0 L267.1 761.9 L267.3 761.8 L267.6 760.7 L267.8 762.4 L268.1 763.3 L268.3 763.6 L268.6 762.8 L268.8 763.0 L269.1 763.7 L269.3 763.1 L269.6 764.6 L269.8 763.6 L270.1 763.6 L270.3 764.3 L270.6 765.9 L270.8 766.1 L271.1 767.2 L271.3 768.5 L271.6 768.1 L271.8 767.9 L272.1 767.0 L272.3 766.5 L272.6 765.6 L272.8 764.8 L273.1 764.8 L273.3 763.9 L273.6 762.9 L273.8 762.8 L274.1 763.7 L274.3 764.1 L274.6 764.6 L274.8 764.4 L275.1 763.5 L275.3 765.0 L275.6 764.5 L275.8 765.2 L276.1 764.3 L276.3 764.7 L276.6 764.2 L276.8 766.8 L277.1 766.4 L277.3 766.4 L277.6 767.0 L277.8 766.7 L278.1 767.1 L278.3 766.6 L278.6 767.2 L278.8 766.5 L279.1 767.2 L279.3 766.7 L279.6 766.1 L279.8 765.5 L280.1 765.2 L280.3 764.1 L280.6 763.3 L280.8 762.3 L281.1 761.6 L281.3 761.6 L281.6 762.0 L281.8 762.7 L282.1 761.2 L282.3 763.2 L282.6 764.2 L282.8 763.6 L283.1 764.6 L283.3 765.3 L283.6 765.6 L283.8 766.5 L284.1 767.4 L284.3 767.2 L284.6 767.1 L284.8 767.2 L285.1 766.8 L285.3 766.5 L285.6 766.8 L285.8 766.0 L286.1 765.2 L286.3 765.6 L286.6 765.6 L286.8 764.5 L287.1 765.4 L287.3 764.1 L287.6 764.0 L287.8 764.0 L288.1 764.4 L288.3 763.3 L288.6 763.1 L288.8 763.9 L289.1 762.9 L289.3 765.0 L289.6 764.2 L289.8 764.3 L290.1 762.7 L290.3 763.8 L290.6 764.5 L290.8 763.8 L291.1 764.1 L291.3 763.8 L291.6 764.1 L291.8 764.1 L292.1 765.4 L292.3 767.1 L292.6 766.9 L292.8 766.0 L293.1 767.2 L293.3 767.3 L293.6 767.7 L293.8 767.2 L294.1 765.8 L294.3 764.3 L294.6 764.4 L294.8 764.0 L295.1 762.3 L295.3 761.6 L295.6 760.9 L295.8 761.1 L296.1 761.7 L296.3 762.0 L296.6 761.7 L296.8 761.9 L297.1 762.1 L297.3 761.1 L297.6 760.9 L297.8 761.3 L298.1 761.2 L298.3 761.7 L298.6 762.2 L298.8 761.3 L299.1 762.3 L299.3 763.3 L299.6 764.0 L299.8 763.3 L300.1 763.9 L300.3 765.3 L300.6 764.4 L300.8 765.3 L301.1 764.7 L301.3 764.5 L301.6 764.3 L301.8 763.6 L302.1 763.4 L302.3 762.9 L302.6 763.2 L302.8 762.7 L303.1 762.3 L303.3 762.6 L303.6 762.1 L303.8 761.2 L304.1 761.2 L304.3 760.0 L304.6 760.0 L304.8 759.0 L305.1 758.5 L305.3 759.1 L305.6 758.9 L305.8 759.7 L306.1 759.5 L306.3 760.2 L306.6 759.4 L306.8 762.0 L307.1 762.3 L307.3 761.4 L307.6 761.8 L307.8 762.9 L308.1 762.2 L308.3 762.9 L308.6 764.0 L308.8 763.0 L309.1 763.6 L309.3 762.2 L309.6 762.0 L309.8 762.1 L310.1 761.8 L310.3 760.3 L310.6 760.3 L310.8 759.9 L311.1 760.3 L311.3 758.4 L311.6 757.9 L311.8 758.5 L312.1 757.8 L312.3 759.1 L312.6 759.2 L312.8 759.6 L313.1 758.9 L313.3 759.6 L313.6 759.8 L313.8 759.9 L314.1 760.5 L314.3 760.4 L314.6 761.2 L314.8 761.0 L315.1 760.8 L315.3 761.6 L315.6 761.7 L315.8 761.3 L316.1 760.5 L316.3 760.7 L316.6 760.6 L316.8 760.1 L317.1 759.2 L317.3 759.0 L317.6 758.3 L317.8 758.0 L318.1 757.4 L318.3 757.8 L318.6 755.7 L318.8 756.7 L319.1 756.9 L319.3 755.8 L319.6 755.7 L319.8 756.5 L320.1 757.5 L320.3 757.6 L320.6 758.1 L320.8 759.0 L321.1 759.2 L321.3 759.1 L321.6 759.2 L321.8 758.8 L322.1 759.9 L322.3 759.7 L322.6 759.3 L322.8 758.3 L323.1 758.9 L323.3 758.1 L323.6 758.7 L323.8 758.6 L324.1 759.1 L324.3 759.5 L324.6 759.3 L324.8 758.9 L325.1 759.2 L325.3 759.7 L325.6 759.9 L325.8 759.1 L326.1 758.9 L326.3 757.9 L326.6 757.5 L326.8 758.3 L327.1 757.6 L327.3 756.7 L327.6 756.1 L327.8 755.6 L328.1 756.0 L328.3 756.6 L328.6 757.2 L328.8 757.5 L329.1 758.1 L329.3 758.3 L329.6 758.5 L329.8 759.0 L330.1 759.3 L330.3 759.3 L330.6 758.6 L330.8 759.1 L331.1 759.7 L331.3 759.7 L331.6 760.6 L331.8 760.9 L332.1 760.4 L332.3 760.7 L332.6 761.4 L332.8 761.5 L333.1 760.9 L333.3 760.4 L333.6 759.3 L333.8 758.1 L334.1 758.1 L334.3 757.8 L334.6 756.0 L334.8 754.4 L335.1 754.4 L335.3 754.9 L335.6 754.8 L335.8 754.9 L336.1 755.2 L336.3 754.9 L336.6 755.6 L336.8 755.9 L337.1 756.0 L337.3 756.6 L337.6 758.3 L337.8 757.4 L338.1 758.7 L338.3 758.1 L338.6 758.1 L338.8 758.4 L339.1 758.8 L339.3 757.9 L339.6 757.7 L339.8 757.5 L340.1 757.8 L340.3 756.8 L340.6 756.1 L340.8 756.5 L341.1 756.8 L341.3 755.4 L341.6 755.3 L341.8 755.9 L342.1 753.8 L342.3 754.7 L342.6 754.4 L342.8 753.9 L343.1 754.2 L343.3 754.4 L343.6 755.1 L343.8 754.0 L344.1 755.2 L344.3 756.7 L344.6 756.8 L344.8 757.6 L345.1 757.9 L345.3 759.1 L345.6 759.0 L345.8 758.5 L346.1 757.6 L346.3 756.9 L346.6 756.6 L346.8 756.2 L347.1 757.3 L347.3 757.0 L347.6 756.3 L347.8 757.2 L348.1 756.1 L348.3 755.7 L348.6 755.7 L348.8 754.8 L349.1 753.2 L349.3 751.0 L349.6 751.8 L349.8 751.6 L350.1 751.9 L350.3 752.6 L350.6 751.7 L350.8 751.2 L351.1 752.6 L351.3 753.6 L351.6 753.5 L351.8 753.5 L352.1 753.9 L352.3 752.6 L352.6 756.3 L352.8 755.4 L353.1 755.4 L353.3 755.5 L353.6 756.4 L353.8 755.7 L354.1 757.2 L354.3 756.9 L354.6 756.0 L354.8 755.4 L355.1 754.5 L355.3 753.7 L355.6 752.1 L355.8 752.0 L356.1 751.0 L356.3 750.5 L356.6 749.5 L356.8 749.6 L357.1 750.1 L357.3 750.6 L357.6 751.2 L357.8 751.5 L358.1 751.7 L358.3 752.4 L358.6 752.7 L358.8 752.8 L359.1 754.1 L359.3 754.9 L359.6 755.1 L359.8 754.9 L360.1 754.3 L360.3 754.3 L360.6 755.2 L360.8 754.5 L361.1 753.9 L361.3 753.0 L361.6 751.6 L361.8 751.9 L362.1 752.2 L362.3 750.8 L362.6 750.2 L362.8 750.0 L363.1 750.4 L363.3 750.0 L363.6 750.2 L363.8 748.5 L364.1 747.9 L364.3 748.0 L364.6 748.2 L364.8 749.2 L365.1 748.5 L365.3 749.2 L365.6 749.9 L365.8 750.3 L366.1 751.0 L366.3 750.9 L366.6 750.2 L366.8 751.0 L367.1 749.4 L367.3 750.1 L367.6 749.6 L367.8 749.9 L368.1 750.0 L368.3 749.7 L368.6 748.8 L368.8 748.3 L369.1 748.4 L369.3 747.5 L369.6 746.4 L369.8 747.3 L370.1 746.7 L370.3 747.1 L370.6 746.1 L370.8 745.6 L371.1 745.3 L371.3 745.2 L371.6 745.1 L371.8 744.4 L372.1 745.4 L372.3 746.2 L372.6 746.3 L372.8 747.9 L373.1 747.0 L373.3 748.0 L373.6 748.4 L373.8 749.1 L374.1 747.6 L374.3 747.6 L374.6 747.0 L374.8 747.4 L375.1 746.9 L375.3 746.0 L375.6 744.5 L375.8 743.6 L376.1 743.1 L376.3 742.1 L376.6 740.8 L376.8 739.3 L377.1 740.1 L377.3 738.7 L377.6 739.1 L377.8 738.5 L378.1 739.2 L378.3 740.4 L378.6 741.2 L378.8 743.1 L379.1 742.7 L379.3 744.3 L379.6 744.8 L379.8 745.9 L380.1 746.7 L380.3 746.9 L380.6 748.7 L380.8 748.0 L381.1 749.2 L381.3 748.9 L381.6 747.7 L381.8 749.6 L382.1 748.3 L382.3 747.7 L382.6 747.9 L382.8 747.7 L383.1 745.6 L383.3 746.4 L383.6 744.6 L383.8 744.4 L384.1 743.7 L384.3 743.6 L384.6 744.8 L384.8 744.0 L385.1 743.5 L385.3 743.9 L385.6 745.6 L385.8 745.5 L386.1 745.0 L386.3 745.1 L386.6 745.8 L386.8 745.8 L387.1 747.7 L387.3 747.3 L387.6 746.8 L387.8 745.5 L388.1 747.4 L388.3 747.3 L388.6 746.7 L388.8 746.1 L389.1 745.4 L389.3 745.5 L389.6 745.9 L389.8 745.3 L390.1 744.6 L390.3 743.6 L390.6 743.8 L390.8 744.1 L391.1 743.9 L391.3 742.7 L391.6 743.0 L391.8 742.8 L392.1 742.7 L392.3 742.1 L392.6 741.5 L392.8 741.0 L393.1 742.2 L393.3 741.1 L393.6 741.2 L393.8 741.2 L394.1 740.9 L394.3 741.3 L394.6 741.7 L394.8 740.3 L395.1 739.7 L395.3 742.1 L395.6 740.8 L395.8 740.6 L396.1 741.8 L396.3 742.7 L396.6 743.2 L396.8 743.2 L397.1 743.8 L397.3 741.6 L397.6 742.3 L397.8 740.9 L398.1 740.9 L398.3 739.7 L398.6 738.7 L398.8 737.9 L399.1 738.2 L399.3 739.0 L399.6 737.6 L399.8 737.6 L400.1 736.5 L400.3 737.7 L400.6 737.1 L400.8 737.5 L401.1 737.4 L401.3 737.2 L401.6 736.8 L401.8 737.8 L402.1 736.8 L402.3 738.4 L402.6 739.4 L402.8 738.8 L403.1 738.2 L403.3 738.7 L403.6 739.3 L403.8 739.5 L404.1 739.6 L404.3 739.9 L404.6 738.8 L404.8 738.6 L405.1 739.9 L405.3 739.3 L405.6 739.2 L405.8 740.7 L406.1 739.1 L406.3 737.0 L406.6 737.5 L406.8 737.3 L407.1 736.6 L407.3 736.9 L407.6 736.3 L407.8 734.9 L408.1 736.7 L408.3 736.6 L408.6 737.4 L408.8 736.4 L409.1 737.3 L409.3 737.5 L409.6 738.2 L409.8 738.3 L410.1 739.2 L410.3 740.1 L410.6 740.6 L410.8 740.7 L411.1 740.6 L411.3 741.4 L411.6 741.9 L411.8 741.8 L412.1 741.3 L412.3 741.4 L412.6 741.3 L412.8 740.4 L413.1 740.2 L413.3 740.0 L413.6 739.6 L413.8 739.2 L414.1 738.7 L414.3 737.1 L414.6 737.2 L414.8 736.7 L415.1 736.2 L415.3 737.2 L415.6 736.6 L415.8 735.7 L416.1 734.9 L416.3 736.4 L416.6 735.3 L416.8 735.8 L417.1 736.1 L417.3 734.6 L417.6 735.9 L417.8 736.2 L418.1 736.5 L418.3 735.6 L418.6 735.4 L418.8 735.3 L419.1 735.8 L419.3 735.0 L419.6 734.4 L419.8 734.8 L420.1 734.9 L420.3 735.3" fill="none" stroke="#000" stroke-width="4.1" stroke-linejoin="round" stroke-linecap="round" />
<path d="M479.6 810.9 L479.9 811.4 L480.1 810.9 L480.4 811.1 L480.6 811.3 L480.9 810.8 L481.1 810.2 L481.4 810.1 L481.6 808.7 L481.9 808.3 L482.1 808.4 L482.4 808.3 L482.6 808.5 L482.9 808.5 L483.1 807.8 L483.4 807.5 L483.6 809.1 L483.9 807.6 L484.1 808.4 L484.4 810.1 L484.6 809.8 L484.9 810.1 L485.1 811.1 L485.4 810.2 L485.6 810.8 L485.9 811.3 L486.1 811.3 L486.4 811.2 L486.6 811.3 L486.9 811.4 L487.1 811.8 L487.4 809.9 L487.6 810.0 L487.9 809.4 L488.1 809.4 L488.4 808.5 L488.6 808.0 L488.9 807.6 L489.1 807.2 L489.4 807.1 L489.6 807.3 L489.9 805.8 L490.1 806.4 L490.4 805.6 L490.6 805.4 L490.9 804.4 L491.1 804.5 L491.4 804.7 L491.6 804.5 L491.9 804.6 L492.1 804.0 L492.4 803.9 L492.6 804.1 L492.9 804.9 L493.1 805.0 L493.4 804.8 L493.6 805.8 L493.9 805.3 L494.1 805.9 L494.4 805.5 L494.6 805.4 L494.9 805.8 L495.1 807.1 L495.4 806.6 L495.6 806.8 L495.9 807.1 L496.1 806.2 L496.4 805.7 L496.6 805.7 L496.9 805.5 L497.1 805.5 L497.4 805.3 L497.6 806.0 L497.9 805.8 L498.1 805.2 L498.4 805.1 L498.6 805.1 L498.9 804.7 L499.1 804.7 L499.4 804.6 L499.6 803.4 L499.9 803.2 L500.1 803.0 L500.4 802.0 L500.6 802.3 L500.9 801.8 L501.1 802.6 L501.4 801.3 L501.6 801.2 L501.9 802.1 L502.1 802.5 L502.4 802.9 L502.6 803.3 L502.9 803.5 L503.1 803.7 L503.4 804.3 L503.6 804.5 L503.9 803.5 L504.1 803.7 L504.4 803.8 L504.6 804.2 L504.9 804.2 L505.1 804.6 L505.4 805.2 L505.6 804.4 L505.9 805.2 L506.1 805.5 L506.4 805.9 L506.6 805.7 L506.9 805.0 L507.1 805.0 L507.4 804.3 L507.6 803.4 L507.9 803.6 L508.1 803.9 L508.4 803.3 L508.6 803.0 L508.9 802.0 L509.1 802.6 L509.4 802.1 L509.6 801.7 L509.9 802.1 L510.1 801.2 L510.4 801.0 L510.6 801.4 L510.9 801.1 L511.1 801.2 L511.4 800.7 L511.6 802.0 L511.9 801.7 L512.1 801.5 L512.4 801.5 L512.6 802.0 L512.9 802.7 L513.1 802.6 L513.4 803.4 L513.6 802.9 L513.9 802.8 L514.1 802.7 L514.4 803.5 L514.6 804.4 L514.9 804.1 L515.1 804.9 L515.4 804.5 L515.6 804.3 L515.9 804.9 L516.1 804.7 L516.4 805.5 L516.6 804.2 L516.9 803.5 L517.1 803.7 L517.4 803.4 L517.6 802.9 L517.9 802.4 L518.1 801.2 L518.4 801.9 L518.6 800.9 L518.9 802.0 L519.1 800.5 L519.4 800.5 L519.6 800.4 L519.9 800.4 L520.1 800.1 L520.4 799.7 L520.6 799.9 L520.9 798.8 L521.1 799.4 L521.4 797.5 L521.6 798.5 L521.9 798.0 L522.1 797.0 L522.4 797.6 L522.6 797.9 L522.9 798.9 L523.1 799.3 L523.4 798.8 L523.6 798.6 L523.9 798.6 L524.1 799.5 L524.4 799.8 L524.6 800.2 L524.9 800.1 L525.1 801.3 L525.4 801.5 L525.6 801.1 L525.9 801.3 L526.1 800.8 L526.4 801.3 L526.6 801.8 L526.9 800.9 L527.1 800.6 L527.4 799.7 L527.6 799.8 L527.9 799.5 L528.1 798.5 L528.4 797.9 L528.6 797.3 L528.9 796.5 L529.1 796.6 L529.4 795.8 L529.6 796.4 L529.9 796.4 L530.1 796.2 L530.4 795.7 L530.6 795.3 L530.9 795.4 L531.1 794.9 L531.4 796.2 L531.6 796.7 L531.9 797.1 L532.1 797.9 L532.4 797.8 L532.6 798.3 L532.9 798.6 L533.1 798.1 L533.4 798.9 L533.6 799.4 L533.9 800.0 L534.1 799.7 L534.4 799.4 L534.6 799.0 L534.9 799.2 L535.1 798.9 L535.4 798.3 L535.6 798.6 L535.9 797.7 L536.1 797.8 L536.4 798.0 L536.6 797.6 L536.9 797.9 L537.1 798.1 L537.4 797.6 L537.6 797.3 L537.9 796.9 L538.1 795.8 L538.4 795.8 L538.6 795.9 L538.9 795.6 L539.1 795.8 L539.4 796.2 L539.6 794.4 L539.9 794.6 L540.1 794.1 L540.4 794.3 L540.6 793.2 L540.9 793.8 L541.1 793.9 L541.4 794.6 L541.6 794.4 L541.9 794.2 L542.1 794.8 L542.4 794.4 L542.6 794.6 L542.9 794.9 L543.1 795.1 L543.4 796.1 L543.6 796.8 L543.9 795.8 L544.1 796.4 L544.4 796.6 L544.6 796.6 L544.9 797.2 L545.1 797.3 L545.4 798.2 L545.6 799.4 L545.9 798.9 L546.1 799.9 L546.4 798.5 L546.6 798.4 L546.9 798.8 L547.1 799.0 L547.4 799.1 L547.6 798.7 L547.9 799.1 L548.1 798.2 L548.4 797.4 L548.6 796.7 L548.9 796.9 L549.1 796.4 L549.4 796.7 L549.6 795.9 L549.9 795.9 L550.1 795.9 L550.4 795.1 L550.6 795.1 L550.9 794.6 L551.1 795.2 L551.4 794.4 L551.6 794.6 L551.9 794.3 L552.1 793.3 L552.4 793.5 L552.6 792.8 L552.9 792.8 L553.1 794.1 L553.4 793.9 L553.6 794.1 L553.9 793.8 L554.1 793.8 L554.4 794.8 L554.6 795.2 L554.9 795.4 L555.1 796.8 L555.4 796.4 L555.6 797.7 L555.9 797.1 L556.1 797.8 L556.4 797.5 L556.6 797.6 L556.9 798.0 L557.1 798.8 L557.4 798.7 L557.6 798.1 L557.9 797.8 L558.1 797.2 L558.4 797.5 L558.6 796.8 L558.9 796.7 L559.1 796.1 L559.4 796.5 L559.6 795.7 L559.9 795.0 L560.1 794.2 L560.4 794.2 L560.6 794.5 L560.9 793.6 L561.1 793.4 L561.4 793.0 L561.6 793.1 L561.9 792.7 L562.1 793.5 L562.4 792.3 L562.6 793.6 L562.9 793.1 L563.1 793.1 L563.4 793.0 L563.6 792.8 L563.9 793.9 L564.1 793.8 L564.4 794.9 L564.6 795.2 L564.9 795.2 L565.1 794.4 L565.4 795.5 L565.6 795.9 L565.9 795.2 L566.1 796.1 L566.4 797.0 L566.6 797.0 L566.9 796.3 L567.1 796.4 L567.4 796.4 L567.6 796.0 L567.9 796.7 L568.1 796.9 L568.4 795.2 L568.6 794.9 L568.9 795.4 L569.1 794.7 L569.4 794.1 L569.6 792.8 L569.9 792.1 L570.1 792.9 L570.4 791.7 L570.6 791.6 L570.9 791.5 L571.1 791.6 L571.4 792.1 L571.6 792.2 L571.9 791.4 L572.1 791.6 L572.4 790.7 L572.6 791.9 L572.9 791.9 L573.1 791.9 L573.4 791.2 L573.6 791.1 L573.9 791.1 L574.1 790.9 L574.4 790.0 L574.6 790.9 L574.9 791.1 L575.1 792.4 L575.4 792.4 L575.6 792.3 L575.9 791.3 L576.1 791.6 L576.4 790.9 L576.6 790.2 L576.9 790.2 L577.1 790.1 L577.4 788.7 L577.6 788.3 L577.9 787.7 L578.1 787.0 L578.4 784.4 L578.6 784.0 L578.9 783.9 L579.1 782.5 L579.4 782.2 L579.6 780.8 L579.9 779.5 L580.1 778.7 L580.4 778.4 L580.6 777.9 L580.9 777.5 L581.1 777.7 L581.4 778.0 L581.6 778.2 L581.9 778.2 L582.1 778.9 L582.4 778.3 L582.6 778.7 L582.9 778.9 L583.1 779.2 L583.4 778.5 L583.6 779.1 L583.9 778.7 L584.1 779.1 L584.4 779.7 L584.6 779.1 L584.9 779.7 L585.1 780.0 L585.4 779.6 L585.6 780.3 L585.9 780.5 L586.1 780.2 L586.4 779.5 L586.6 779.7 L586.9 780.4 L587.1 779.5 L587.4 779.5 L587.6 780.4 L587.9 779.6 L588.1 779.4 L588.4 779.3 L588.6 778.2 L588.9 778.6 L589.1 777.3 L589.4 778.0 L589.6 777.8 L589.9 777.3 L590.1 776.6 L590.4 776.1 L590.6 776.3 L590.9 776.9 L591.1 776.4 L591.4 775.8 L591.6 775.6 L591.9 775.9 L592.1 776.8 L592.4 775.8 L592.6 775.3 L592.9 775.1 L593.1 775.7 L593.4 774.8 L593.6 774.7 L593.9 775.1 L594.1 775.2 L594.4 776.3 L594.6 776.6 L594.9 777.3 L595.1 776.6 L595.4 777.4 L595.6 777.1 L595.9 777.5 L596.1 776.8 L596.4 777.9 L596.6 778.5 L596.9 777.7 L597.1 777.2 L597.4 777.3 L597.6 776.6 L597.9 777.2 L598.1 776.6 L598.4 777.3 L598.6 777.0 L598.9 776.1 L599.1 775.7 L599.4 775.5 L599.6 774.8 L599.9 774.8 L600.1 774.3 L600.4 774.4 L600.6 774.2 L600.9 773.6 L601.1 772.0 L601.4 772.0 L601.6 771.8 L601.9 772.5 L602.1 771.5 L602.4 772.2 L602.6 771.8 L602.9 772.4 L603.1 772.2 L603.4 772.0 L603.6 772.8 L603.9 773.5 L604.1 773.7 L604.4 773.6 L604.6 774.0 L604.9 774.6 L605.1 775.7 L605.4 775.1 L605.6 776.3 L605.9 775.3 L606.1 776.0 L606.4 775.7 L606.6 776.1 L606.9 776.3 L607.1 774.9 L607.4 775.7 L607.6 775.0 L607.9 775.1 L608.1 774.9 L608.4 774.1 L608.6 773.3 L608.9 773.8 L609.1 774.0 L609.4 773.5 L609.6 774.2 L609.9 773.5 L610.1 772.8 L610.4 773.0 L610.6 772.1 L610.9 771.2 L611.1 772.2 L611.4 772.0 L611.6 770.5 L611.9 771.5 L612.1 770.5 L612.4 770.6 L612.6 770.7 L612.9 770.7 L613.1 771.0 L613.4 771.4 L613.6 770.3 L613.9 771.2 L614.1 771.1 L614.4 771.8 L614.6 771.5 L614.9 772.1 L615.1 772.1 L615.4 772.7 L615.6 772.2 L615.9 772.2 L616.1 772.7 L616.4 773.6 L616.6 773.6 L616.9 774.1 L617.1 773.6 L617.4 773.3 L617.6 773.2 L617.9 772.9 L618.1 772.0 L618.4 771.8 L618.6 771.8 L618.9 771.1 L619.1 770.7 L619.4 770.5 L619.6 770.2 L619.9 770.3 L620.1 770.2 L620.4 769.1 L620.6 769.1 L620.9 768.9 L621.1 768.9 L621.4 769.6 L621.6 768.5 L621.9 769.0 L622.1 768.6 L622.4 768.9 L622.6 769.4 L622.9 769.1 L623.1 768.4 L623.4 769.6 L623.6 770.3 L623.9 769.7 L624.1 770.0 L624.4 770.4 L624.6 770.2 L624.9 770.1 L625.1 770.5 L625.4 771.1 L625.6 771.0 L625.9 771.1 L626.1 771.4 L626.4 771.1 L626.6 771.1 L626.9 770.8 L627.1 770.0 L627.4 770.1 L627.6 769.1 L627.9 769.2 L628.1 769.7 L628.4 769.3 L628.6 769.3 L628.9 767.9 L629.1 767.2 L629.4 766.3 L629.6 766.8 L629.9 765.1 L630.1 764.7 L630.4 765.2 L630.6 765.1 L630.9 764.7 L631.1 764.1 L631.4 763.5 L631.6 763.0 L631.9 763.3 L632.1 764.3 L632.4 764.1 L632.6 764.1 L632.9 764.1 L633.1 764.7 L633.4 765.1 L633.6 765.1 L633.9 765.6 L634.1 765.6 L634.4 766.1 L634.6 766.8 L634.9 766.8 L635.1 767.2 L635.4 766.8 L635.6 767.0 L635.9 767.4 L636.1 766.9 L636.4 767.6 L636.6 767.3 L636.9 767.3 L637.1 767.7 L637.4 768.0 L637.6 767.0 L637.9 767.2 L638.1 766.7 L638.4 766.6 L638.6 766.3 L638.9 766.7 L639.1 765.8 L639.4 765.5 L639.6 765.2 L639.9 765.3 L640.1 764.4 L640.4 764.5 L640.6 764.4 L640.9 764.3 L641.1 764.6 L641.4 764.6 L641.6 764.8 L641.9 765.4 L642.1 764.5 L642.4 764.3 L642.6 764.8 L642.9 764.0 L643.1 764.6 L643.4 764.9 L643.6 764.8 L643.9 765.1 L644.1 763.9 L644.4 765.0 L644.6 764.4 L644.9 764.8 L645.1 764.9 L645.4 765.3 L645.6 765.5 L645.9 765.4 L646.1 765.1 L646.4 765.5 L646.6 765.4 L646.9 764.4 L647.1 764.3 L647.4 764.5 L647.6 764.7 L647.9 764.9 L648.1 765.3 L648.4 764.3 L648.6 764.0 L648.9 764.4 L649.1 763.9 L649.4 763.6 L649.6 764.2 L649.9 763.8 L650.1 762.9 L650.4 762.1 L650.6 762.1 L650.9 761.4 L651.1 761.7 L651.4 761.2 L651.6 760.7 L651.9 760.3 L652.1 760.1 L652.4 759.5 L652.6 759.0 L652.9 759.4 L653.1 758.8 L653.4 758.9 L653.6 759.0 L653.9 758.9 L654.1 757.4 L654.4 757.0 L654.6 757.0 L654.9 757.8 L655.1 757.4 L655.4 758.0 L655.6 758.5 L655.9 757.4 L656.1 758.4 L656.4 758.1 L656.6 758.2 L656.9 758.5 L657.1 757.9 L657.4 758.6 L657.6 757.9 L657.9 758.0 L658.1 757.9 L658.4 758.1 L658.6 758.1 L658.9 757.8 L659.1 757.2 L659.4 757.6 L659.6 757.1 L659.9 755.8 L660.1 755.8 L660.4 755.5 L660.6 755.2 L660.9 753.9 L661.1 755.1 L661.4 753.7 L661.6 753.5 L661.9 753.3 L662.1 753.4 L662.4 753.0 L662.6 753.1 L662.9 753.9 L663.1 753.3 L663.4 753.7 L663.6 754.0 L663.9 754.5 L664.1 754.0 L664.4 755.0 L664.6 754.7 L664.9 755.1 L665.1 754.2 L665.4 754.5 L665.6 754.2 L665.9 754.9 L666.1 755.1 L666.4 754.3 L666.6 754.8 L666.9 754.3 L667.1 754.8 L667.4 754.5 L667.6 754.3 L667.9 753.7 L668.1 753.9 L668.4 753.2 L668.6 752.7 L668.9 752.7 L669.1 752.0 L669.4 752.6 L669.6 752.3 L669.9 752.2 L670.1 750.8 L670.4 750.9 L670.6 750.0 L670.9 750.1 L671.1 749.1 L671.4 748.8 L671.6 749.4 L671.9 748.7 L672.1 748.8 L672.4 748.1 L672.6 749.4 L672.9 748.5 L673.1 749.0 L673.4 749.4 L673.6 750.0 L673.9 750.3 L674.1 750.6 L674.4 751.4 L674.6 752.1 L674.9 751.8 L675.1 750.9 L675.4 751.7 L675.6 751.4 L675.9 751.1 L676.1 751.3 L676.4 751.8 L676.6 751.5 L676.9 751.4 L677.1 751.6 L677.4 751.3 L677.6 750.9 L677.9 750.6 L678.1 750.1 L678.4 750.2 L678.6 749.4 L678.9 747.8 L679.1 748.1 L679.4 747.2 L679.6 747.2 L679.9 747.4 L680.1 747.1 L680.4 746.8 L680.6 746.8 L680.9 746.3 L681.1 746.8 L681.4 746.4 L681.6 747.9 L681.9 747.6 L682.1 748.3 L682.4 747.8 L682.6 748.3 L682.9 748.4 L683.1 748.3 L683.4 748.9 L683.6 749.5 L683.9 749.0 L684.1 750.0 L684.4 750.4 L684.6 749.1 L684.9 749.4 L685.1 750.4 L685.4 750.2 L685.6 749.9 L685.9 750.3 L686.1 750.1 L686.4 749.5 L686.6 748.6 L686.9 749.0 L687.1 748.2 L687.4 747.4 L687.6 747.6 L687.9 746.5 L688.1 745.5 L688.4 745.3 L688.6 745.4 L688.9 745.1 L689.1 744.8 L689.4 744.2 L689.6 744.3 L689.9 745.1 L690.1 743.4 L690.4 743.7 L690.6 744.0 L690.9 744.2 L691.1 745.1 L691.4 744.7 L691.6 744.3 L691.9 745.1 L692.1 745.1 L692.4 745.1 L692.6 745.4 L692.9 744.3 L693.1 744.9 L693.4 745.5 L693.6 745.2 L693.9 744.6 L694.1 744.2 L694.4 745.2 L694.6 744.8 L694.9 744.1 L695.1 744.0 L695.4 744.3 L695.6 744.3 L695.9 742.6 L696.1 743.6 L696.4 743.7 L696.6 743.3 L696.9 742.7 L697.1 741.5 L697.4 741.3 L697.6 740.6 L697.9 740.1 L698.1 739.9 L698.4 739.8 L698.6 740.0 L698.9 740.2 L699.1 739.6 L699.4 739.2 L699.6 738.5 L699.9 738.9 L700.1 738.6 L700.4 738.9 L700.6 739.7 L700.9 739.7 L701.1 739.0 L701.4 738.6 L701.6 739.2 L701.9 740.2 L702.1 738.9 L702.4 739.3 L702.6 739.0 L702.9 740.2 L703.1 740.0 L703.4 740.4 L703.6 740.0 L703.9 739.7 L704.1 740.4 L704.4 739.6 L704.6 739.5 L704.9 739.7 L705.1 739.0 L705.4 738.4 L705.6 739.3 L705.9 738.5 L706.1 738.5 L706.4 738.5 L706.6 737.8 L706.9 737.0 L707.1 738.5 L707.4 738.2 L707.6 738.8 L707.9 738.0 L708.1 737.0 L708.4 737.7 L708.6 736.4 L708.9 735.6 L709.1 735.8 L709.4 734.5 L709.6 735.6 L709.9 734.1 L710.1 734.2 L710.4 734.3 L710.6 734.4 L710.9 735.0 L711.1 734.3 L711.4 734.8 L711.6 735.6 L711.9 736.1 L712.1 736.6 L712.4 736.3 L712.6 737.7 L712.9 738.2 L713.1 737.6 L713.4 737.5 L713.6 737.8 L713.9 737.8 L714.1 737.6 L714.4 736.9 L714.6 736.8 L714.9 737.7 L715.1 736.4 L715.4 735.7 L715.6 734.5 L715.9 734.3 L716.1 734.2 L716.4 733.9 L716.6 733.6 L716.9 732.7 L717.1 732.8 L717.4 733.0 L717.6 733.4 L717.9 732.3 L718.1 732.8 L718.4 733.3 L718.6 732.7 L718.9 733.0 L719.1 733.6 L719.4 733.5 L719.6 733.8 L719.9 733.7 L720.1 733.8 L720.4 733.6 L720.6 734.2 L720.9 734.8 L721.1 734.4 L721.4 734.3 L721.6 734.4 L721.9 733.5 L722.1 734.8 L722.4 734.7 L722.6 734.3 L722.9 734.4 L723.1 734.1 L723.4 734.2 L723.6 733.5 L723.9 733.6 L724.1 733.3 L724.4 733.1 L724.6 733.4 L724.9 732.5 L725.1 733.1 L725.4 731.8 L725.6 731.0 L725.9 729.9 L726.1 730.4 L726.4 730.1 L726.6 729.9 L726.9 729.5 L727.1 730.2 L727.4 729.3 L727.6 729.2 L727.9 728.5 L728.1 728.2 L728.4 728.6 L728.6 728.4 L728.9 728.7 L729.1 728.7 L729.4 729.4 L729.6 728.5 L729.9 729.4 L730.1 728.7 L730.4 729.8 L730.6 729.3 L730.9 730.3 L731.1 729.4 L731.4 729.9 L731.6 730.1 L731.9 729.9 L732.1 729.6 L732.4 729.8 L732.6 729.5 L732.9 729.4 L733.1 729.8 L733.4 728.9 L733.6 728.0 L733.9 728.2 L734.1 728.0 L734.4 726.9 L734.6 727.4 L734.9 727.2 L735.1 726.8 L735.4 726.1 L735.6 726.5 L735.9 725.6 L736.1 725.2 L736.4 724.5 L736.6 724.5 L736.9 724.2 L737.1 723.7 L737.4 724.5 L737.6 724.1 L737.9 724.5 L738.1 724.2 L738.4 724.9 L738.6 724.5 L738.9 724.4 L739.1 724.6 L739.4 724.8 L739.6 724.8 L739.9 725.1 L740.1 725.3 L740.4 725.1 L740.6 726.1 L740.9 726.8 L741.1 725.9 L741.4 726.5 L741.6 726.8 L741.9 727.4 L742.1 726.9 L742.4 725.8 L742.6 725.9 L742.9 725.6 L743.1 725.5 L743.4 725.7 L743.6 724.9 L743.9 723.0 L744.1 723.2 L744.4 722.5 L744.6 721.9 L744.9 720.9 L745.1 720.3 L745.4 719.8 L745.6 719.9 L745.9 719.3 L746.1 718.9 L746.4 719.0 L746.6 718.2 L746.9 718.7 L747.1 717.4 L747.4 718.0 L747.6 717.8 L747.9 718.3 L748.1 718.3 L748.4 717.1 L748.6 718.7 L748.9 719.0 L749.1 719.2 L749.4 718.8 L749.6 718.8 L749.9 718.7 L750.1 719.4 L750.4 719.3 L750.6 720.1 L750.9 719.9 L751.1 720.8 L751.4 720.7 L751.6 721.4 L751.9 721.0 L752.1 720.4 L752.4 720.5 L752.6 720.9 L752.9 720.4 L753.1 720.0 L753.4 720.4 L753.6 720.6 L753.9 719.5 L754.1 719.6 L754.4 719.5 L754.6 718.8 L754.9 718.7 L755.1 717.5 L755.4 717.5 L755.6 717.5 L755.9 717.0 L756.1 718.0 L756.4 716.5 L756.6 717.2 L756.9 717.2 L757.1 716.9 L757.4 716.4 L757.6 716.0 L757.9 715.6 L758.1 715.5 L758.4 716.1 L758.6 716.2 L758.9 716.1 L759.1 715.6 L759.4 716.3 L759.6 716.4 L759.9 715.7 L760.1 715.8 L760.4 716.1 L760.6 717.5 L760.9 717.4 L761.1 718.5 L761.4 718.9 L761.6 718.4 L761.9 718.6 L762.1 719.2 L762.4 719.3 L762.6 718.8 L762.9 719.7 L763.1 720.4 L763.4 720.0 L763.6 719.0 L763.9 719.4 L764.1 718.5 L764.4 717.9 L764.6 716.9 L764.9 716.9 L765.1 716.2 L765.4 715.7 L765.6 716.3 L765.9 715.1 L766.1 714.2 L766.4 713.6 L766.6 713.4 L766.9 713.2 L767.1 712.5 L767.4 713.1 L767.6 712.5 L767.9 712.3 L768.1 712.5 L768.4 712.7 L768.6 712.7 L768.9 713.2 L769.1 713.2 L769.4 714.0 L769.6 712.5 L769.9 713.6 L770.1 714.1 L770.4 714.1 L770.6 714.6 L770.9 714.5 L771.1 715.0 L771.4 715.4 L771.6 715.2 L771.9 715.2 L772.1 716.8 L772.4 716.2 L772.6 716.9 L772.9 716.5 L773.1 715.2 L773.4 715.3 L773.6 714.9 L773.9 714.1 L774.1 713.3 L774.4 712.8 L774.6 712.7 L774.9 711.9 L775.1 710.9 L775.4 709.9 L775.6 710.2 L775.9 710.2 L776.1 710.0 L776.4 710.6 L776.6 711.2 L776.9 710.8 L777.1 711.4 L777.4 710.3 L777.6 709.6 L777.9 711.2 L778.1 710.8 L778.4 709.6 L778.6 710.3 L778.9 710.9 L779.1 710.4 L779.4 710.1 L779.6 711.0 L779.9 710.9 L780.1 710.7 L780.4 711.6 L780.6 713.2 L780.9 713.5 L781.1 713.7 L781.4 714.7 L781.6 714.9 L781.9 714.6 L782.1 715.5 L782.4 716.1 L782.6 714.7 L782.9 715.6 L783.1 715.7 L783.4 715.7 L783.6 714.3 L783.9 713.4 L784.1 712.5 L784.4 711.5 L784.6 711.3 L784.9 709.7 L785.1 708.2 L785.4 708.9 L785.6 707.6 L785.9 706.4 L786.1 705.7 L786.4 705.0 L786.6 705.5 L786.9 705.3 L787.1 704.7 L787.4 704.0 L787.6 703.4 L787.9 703.2 L788.1 702.5 L788.4 702.2 L788.6 701.9 L788.9 702.6 L789.1 702.7 L789.4 702.6 L789.6 701.8 L789.9 702.2 L790.1 701.4 L790.4 701.8 L790.6 702.8 L790.9 703.5 L791.1 703.8 L791.4 704.5 L791.6 704.4 L791.9 704.0 L792.1 704.5 L792.4 704.7 L792.6 703.9 L792.9 704.1 L793.1 703.5 L793.4 703.7 L793.6 703.1 L793.9 702.3 L794.1 701.6 L794.4 702.6 L794.6 701.6 L794.9 702.1 L795.1 701.8 L795.4 701.5 L795.6 701.5 L795.9 701.3 L796.1 701.0 L796.4 701.1 L796.6 702.0 L796.9 701.8 L797.1 701.7 L797.4 702.2 L797.6 702.4 L797.9 702.1 L798.1 701.0 L798.4 701.1 L798.6 699.8 L798.9 700.6 L799.1 700.4 L799.4 700.4 L799.6 699.3 L799.9 699.5 L800.1 699.0 L800.4 697.6 L800.6 697.4 L800.9 698.3 L801.1 697.9 L801.4 697.2 L801.6 697.1 L801.9 697.3 L802.1 697.0 L802.4 695.7 L802.6 695.6 L802.9 695.9 L803.1 695.7 L803.4 696.4 L803.6 696.6 L803.9 695.8 L804.1 696.5 L804.4 696.7 L804.6 696.6 L804.9 696.5 L805.1 696.9 L805.4 697.6 L805.6 697.8 L805.9 697.7 L806.1 697.3 L806.4 698.7 L806.6 697.5 L806.9 698.5 L807.1 698.6 L807.4 699.3 L807.6 699.3 L807.9 699.5 L808.1 700.3 L808.4 700.4 L808.6 700.8 L808.9 700.4 L809.1 701.0 L809.4 701.1 L809.6 700.8 L809.9 700.3 L810.1 700.5 L810.4 701.4 L810.6 701.3 L810.9 701.4 L811.1 701.8 L811.4 701.9 L811.6 701.7 L811.9 702.7 L812.1 701.4 L812.4 701.6 L812.6 701.6 L812.9 701.4 L813.1 701.2 L813.4 700.6 L813.6 700.3 L813.9 699.5 L814.1 699.3 L814.4 698.8 L814.6 697.7 L814.9 697.5 L815.1 696.8 L815.4 696.2 L815.6 695.0 L815.9 694.1 L816.1 692.9 L816.4 692.6 L816.6 691.9 L816.9 691.1 L817.1 690.8 L817.4 690.3 L817.6 690.1 L817.9 689.7 L818.1 689.7 L818.4 689.7 L818.6 689.7 L818.9 689.1 L819.1 688.7 L819.4 688.3 L819.6 688.1 L819.9 688.0 L820.1 686.9 L820.4 686.3 L820.6 686.6 L820.9 685.8 L821.1 684.8 L821.4 684.6 L821.6 684.2 L821.9 684.4 L822.1 683.0 L822.4 682.9 L822.6 682.5 L822.9 681.7 L823.1 683.7 L823.4 683.3 L823.6 685.1 L823.9 685.1 L824.1 686.1 L824.4 685.9 L824.6 686.9 L824.9 687.7 L825.1 688.4 L825.4 688.5 L825.6 688.8 L825.9 689.6 L826.1 689.0 L826.4 690.6 L826.6 690.0 L826.9 690.6 L827.1 691.5 L827.4 691.8 L827.6 692.0 L827.9 692.5 L828.1 694.0 L828.4 694.2 L828.6 693.1 L828.9 692.4 L829.1 691.9 L829.4 691.3 L829.6 691.1 L829.9 690.6 L830.1 689.7 L830.4 689.2 L830.6 689.3 L830.9 688.8 L831.1 688.5 L831.4 688.5 L831.6 687.9 L831.9 687.6 L832.1 685.8 L832.4 686.0 L832.6 684.7 L832.9 684.9 L833.1 684.2 L833.4 683.8" fill="none" stroke="#ff0000" stroke-width="4.3" stroke-linejoin="round" stroke-linecap="round" />
<path d="M480.5 839.3 L480.8 844.5 L481.0 848.9 L481.2 854.1 L481.5 849.8 L481.8 842.8 L482.0 835.3 L482.2 830.3 L482.5 836.5 L482.8 842.5 L483.0 848.6 L483.2 852.5 L483.5 847.0 L483.8 842.1 L484.0 837.5 L484.2 835.2 L484.5 840.3 L484.8 844.7 L485.0 849.1 L485.2 853.2 L485.5 850.8 L485.8 847.2 L486.0 844.3 L486.2 840.9 L486.5 836.9 L486.8 838.4 L487.0 839.0 L487.2 840.7 L487.5 843.4 L487.8 844.5 L488.0 841.8 L488.2 838.5 L488.5 836.2 L488.8 834.4 L489.0 832.4 L489.2 833.2 L489.5 833.1 L489.8 835.7 L490.0 836.8 L490.2 838.5 L490.5 839.3 L490.8 839.9 L491.0 839.3 L491.2 839.4 L491.5 838.9 L491.8 838.7 L492.0 838.8 L492.2 838.3 L492.5 837.7 L492.8 837.3 L493.0 837.2 L493.2 837.1 L493.5 835.7 L493.8 836.2 L494.0 835.2 L494.2 833.7 L494.5 833.1 L494.8 831.0 L495.0 830.8 L495.2 829.3 L495.5 829.6 L495.8 828.7 L496.0 828.3 L496.2 829.3 L496.5 828.2 L496.8 827.6 L497.0 828.1 L497.2 829.3 L497.5 831.3 L497.8 834.0 L498.0 834.8 L498.2 836.6 L498.5 837.8 L498.8 837.0 L499.0 836.4 L499.2 834.9 L499.5 833.6 L499.8 831.6 L500.0 831.4 L500.2 829.2 L500.5 828.3 L500.8 826.1 L501.0 825.2 L501.2 824.7 L501.5 824.9 L501.8 823.9 L502.0 823.4 L502.2 824.7 L502.5 824.5 L502.8 824.3 L503.0 825.5 L503.2 825.2 L503.5 825.2 L503.8 826.3 L504.0 825.2 L504.2 825.7 L504.5 825.0 L504.8 826.1 L505.0 825.5 L505.2 825.3 L505.5 825.9 L505.8 825.2 L506.0 825.2 L506.2 824.9 L506.5 824.1 L506.8 823.2 L507.0 822.9 L507.2 821.7 L507.5 822.0 L507.8 821.9 L508.0 821.5 L508.2 820.9 L508.5 821.4 L508.8 821.2 L509.0 821.8 L509.2 820.9 L509.5 822.2 L509.8 823.1 L510.0 822.7 L510.2 822.8 L510.5 824.1 L510.8 824.0 L511.0 824.2 L511.2 823.8 L511.5 823.8 L511.8 823.6 L512.0 825.0 L512.2 824.1 L512.5 823.9 L512.8 824.0 L513.0 824.1 L513.2 823.0 L513.5 822.6 L513.8 822.5 L514.0 822.0 L514.2 822.9 L514.5 822.6 L514.8 821.2 L515.0 820.8 L515.2 820.8 L515.5 821.4 L515.8 820.4 L516.0 818.9 L516.2 818.8 L516.5 818.5 L516.8 819.8 L517.0 818.8 L517.2 818.5 L517.5 819.7 L517.8 820.0 L518.0 820.8 L518.2 820.9 L518.5 821.3 L518.8 820.5 L519.0 821.5 L519.2 822.0 L519.5 819.2 L519.8 819.9 L520.0 820.6 L520.2 820.3 L520.5 820.6 L520.8 820.0 L521.0 819.5 L521.2 819.5 L521.5 819.3 L521.8 818.6 L522.0 818.1 L522.2 817.3 L522.5 816.2 L522.8 816.1 L523.0 816.9 L523.2 816.5 L523.5 816.4 L523.8 815.3 L524.0 816.2 L524.2 815.7 L524.5 815.9 L524.8 816.4 L525.0 816.6 L525.2 815.7 L525.5 817.5 L525.8 816.3 L526.0 816.3 L526.2 816.5 L526.5 816.8 L526.8 817.3 L527.0 817.2 L527.2 816.4 L527.5 816.4 L527.8 817.6 L528.0 817.5 L528.2 818.4 L528.5 817.1 L528.8 817.1 L529.0 816.5 L529.2 816.8 L529.5 816.1 L529.8 815.1 L530.0 815.1 L530.2 814.2 L530.5 813.5 L530.8 814.4 L531.0 814.1 L531.2 813.4 L531.5 813.2 L531.8 813.9 L532.0 813.4 L532.2 814.5 L532.5 814.0 L532.8 813.7 L533.0 813.5 L533.2 814.5 L533.5 814.0 L533.8 813.6 L534.0 813.3 L534.2 812.4 L534.5 811.4 L534.8 812.6 L535.0 812.9 L535.2 812.6 L535.5 812.5 L535.8 812.0 L536.0 811.5 L536.2 811.7 L536.5 810.8 L536.8 809.6 L537.0 810.1 L537.2 809.7 L537.5 808.9 L537.8 809.3 L538.0 810.1 L538.2 810.1 L538.5 810.3 L538.8 811.7 L539.0 811.5 L539.2 813.1 L539.5 814.4 L539.8 815.0 L540.0 814.6 L540.2 815.0 L540.5 813.7 L540.8 813.8 L541.0 813.7 L541.2 814.1 L541.5 813.0 L541.8 812.7 L542.0 812.8 L542.2 812.4 L542.5 812.8 L542.8 813.2 L543.0 812.9 L543.2 811.1 L543.5 811.3 L543.8 812.6 L544.0 811.6 L544.2 812.3 L544.5 811.4 L544.8 811.7 L545.0 810.7 L545.2 810.6 L545.5 810.6 L545.8 810.5 L546.0 810.4 L546.2 810.0 L546.5 810.4 L546.8 811.2 L547.0 811.0 L547.2 812.0 L547.5 813.1 L547.8 812.5 L548.0 811.9 L548.2 812.5 L548.5 811.5 L548.8 811.7 L549.0 811.9 L549.2 810.6 L549.5 810.2 L549.8 809.4 L550.0 810.6 L550.2 810.0 L550.5 810.4 L550.8 810.1 L551.0 808.5 L551.2 807.8 L551.5 808.2 L551.8 807.3 L552.0 806.4 L552.2 806.9 L552.5 805.6 L552.8 806.3 L553.0 806.3 L553.2 806.8 L553.5 807.1 L553.8 808.2 L554.0 808.8 L554.2 809.0 L554.5 809.7 L554.8 810.9 L555.0 810.4 L555.2 810.8 L555.5 808.8 L555.8 809.9 L556.0 808.4 L556.2 807.5 L556.5 807.1 L556.8 806.1 L557.0 805.6 L557.2 805.0 L557.5 804.1 L557.8 804.3 L558.0 803.4 L558.2 803.2 L558.5 802.4 L558.8 801.7 L559.0 800.6 L559.2 802.0 L559.5 802.0 L559.8 802.7 L560.0 803.6 L560.2 803.2 L560.5 803.6 L560.8 803.5 L561.0 804.3 L561.2 804.7 L561.5 804.4 L561.8 804.1 L562.0 803.9 L562.2 803.4 L562.5 804.7 L562.8 804.4 L563.0 804.8 L563.2 804.7 L563.5 803.2 L563.8 803.5 L564.0 802.6 L564.2 802.1 L564.5 801.5 L564.8 800.2 L565.0 799.0 L565.2 799.1 L565.5 800.1 L565.8 799.5 L566.0 799.8 L566.2 799.5 L566.5 800.2 L566.8 800.0 L567.0 801.2 L567.2 800.1 L567.5 800.0 L567.8 800.2 L568.0 800.2 L568.2 801.3 L568.5 801.6 L568.8 801.2 L569.0 801.5 L569.2 801.1 L569.5 799.9 L569.8 800.9 L570.0 800.9 L570.2 801.0 L570.5 800.6 L570.8 800.2 L571.0 800.5 L571.2 800.4 L571.5 800.6 L571.8 801.6 L572.0 800.6 L572.2 800.0 L572.5 798.8 L572.8 799.1 L573.0 798.6 L573.2 797.7 L573.5 798.0 L573.8 796.4 L574.0 796.2 L574.2 796.0 L574.5 796.6 L574.8 796.6 L575.0 796.5 L575.2 797.2 L575.5 796.8 L575.8 796.8 L576.0 796.7 L576.2 797.9 L576.5 797.1 L576.8 796.0 L577.0 796.0 L577.2 796.1 L577.5 796.2 L577.8 798.1 L578.0 797.8 L578.2 797.2 L578.5 796.3 L578.8 798.2 L579.0 796.8 L579.2 797.0 L579.5 797.2 L579.8 796.1 L580.0 795.5 L580.2 795.6 L580.5 795.6 L580.8 795.4 L581.0 794.8 L581.2 793.6 L581.5 793.1 L581.8 794.1 L582.0 793.3 L582.2 792.3 L582.5 792.2 L582.8 791.9 L583.0 791.1 L583.2 791.1 L583.5 791.0 L583.8 789.2 L584.0 789.2 L584.2 788.3 L584.5 789.5 L584.8 789.2 L585.0 789.2 L585.2 790.1 L585.5 791.6 L585.8 792.0 L586.0 792.2 L586.2 792.0 L586.5 791.9 L586.8 792.3 L587.0 793.0 L587.2 793.0 L587.5 793.0 L587.8 793.5 L588.0 793.5 L588.2 794.3 L588.5 793.8 L588.8 792.9 L589.0 793.4 L589.2 792.4 L589.5 791.2 L589.8 791.1 L590.0 789.9 L590.2 790.3 L590.5 789.5 L590.8 788.7 L591.0 789.2 L591.2 790.5 L591.5 790.7 L591.8 791.0 L592.0 790.8 L592.2 790.4 L592.5 790.8 L592.8 790.5 L593.0 790.0 L593.2 790.3 L593.5 789.9 L593.8 789.8 L594.0 790.5 L594.2 791.2 L594.5 792.3 L594.8 792.0 L595.0 791.7 L595.2 792.0 L595.5 791.1 L595.8 791.4 L596.0 791.0 L596.2 790.3 L596.5 789.6 L596.8 788.8 L597.0 788.6 L597.2 786.8 L597.5 787.4 L597.8 786.4 L598.0 785.7 L598.2 786.6 L598.5 786.2 L598.8 785.3 L599.0 785.0 L599.2 784.6 L599.5 785.9 L599.8 785.9 L600.0 785.8 L600.2 786.1 L600.5 785.8 L600.8 785.8 L601.0 786.0 L601.2 786.0 L601.5 785.4 L601.8 785.7 L602.0 786.0 L602.2 784.7 L602.5 785.1 L602.8 785.5 L603.0 785.5 L603.2 786.0 L603.5 785.8 L603.8 786.1 L604.0 786.2 L604.2 785.7 L604.5 784.9 L604.8 784.5 L605.0 784.1 L605.2 784.0 L605.5 781.5 L605.8 780.7 L606.0 780.9 L606.2 780.1 L606.5 780.5 L606.8 780.0 L607.0 780.1 L607.2 779.5 L607.5 781.6 L607.8 781.9 L608.0 783.3 L608.2 783.4 L608.5 782.3 L608.8 783.2 L609.0 783.8 L609.2 783.7 L609.5 782.9 L609.8 783.6 L610.0 784.5 L610.2 783.5 L610.5 784.1 L610.8 783.9 L611.0 783.2 L611.2 783.6 L611.5 783.3 L611.8 782.9 L612.0 781.8 L612.2 780.5 L612.5 780.8 L612.8 780.7 L613.0 780.5 L613.2 780.4 L613.5 779.7 L613.8 777.7 L614.0 777.0 L614.2 777.0 L614.5 776.8 L614.8 778.1 L615.0 778.6 L615.2 778.1 L615.5 778.3 L615.8 779.3 L616.0 780.4 L616.2 780.0 L616.5 779.9 L616.8 779.3 L617.0 780.0 L617.2 779.1 L617.5 779.7 L617.8 779.3 L618.0 779.4 L618.2 779.2 L618.5 779.4 L618.8 779.7 L619.0 779.5 L619.2 779.2 L619.5 778.3 L619.8 777.8 L620.0 777.2 L620.2 776.5 L620.5 774.7 L620.8 773.5 L621.0 773.7 L621.2 773.4 L621.5 772.9 L621.8 772.6 L622.0 771.8 L622.2 771.7 L622.5 771.6 L622.8 771.9 L623.0 771.2 L623.2 771.8 L623.5 772.7 L623.8 773.1 L624.0 772.3 L624.2 773.2 L624.5 773.3 L624.8 772.7 L625.0 773.4 L625.2 772.8 L625.5 772.1 L625.8 771.0 L626.0 771.6 L626.2 771.9 L626.5 771.2 L626.8 770.9 L627.0 770.4 L627.2 770.1 L627.5 770.1 L627.8 770.4 L628.0 769.2 L628.2 768.0 L628.5 767.5 L628.8 767.8 L629.0 768.0 L629.2 767.7 L629.5 768.9 L629.8 768.4 L630.0 768.7 L630.2 768.8 L630.5 768.3 L630.8 769.0 L631.0 767.9 L631.2 766.6 L631.5 766.3 L631.8 767.0 L632.0 767.0 L632.2 767.1 L632.5 767.0 L632.8 768.3 L633.0 767.1 L633.2 767.2 L633.5 766.1 L633.8 765.5 L634.0 765.1 L634.2 764.7 L634.5 764.0 L634.8 762.9 L635.0 762.7 L635.2 763.3 L635.5 762.1 L635.8 762.8 L636.0 762.3 L636.2 762.4 L636.5 760.4 L636.8 761.1 L637.0 761.5 L637.2 761.1 L637.5 760.1 L637.8 760.5 L638.0 761.0 L638.2 758.9 L638.5 759.7 L638.8 759.2 L639.0 758.9 L639.2 759.2 L639.5 759.2 L639.8 759.1 L640.0 759.4 L640.2 759.3 L640.5 760.5 L640.8 761.1 L641.0 760.8 L641.2 759.8 L641.5 759.8 L641.8 761.6 L642.0 760.2 L642.2 758.4 L642.5 757.4 L642.8 756.5 L643.0 756.1 L643.2 754.9 L643.5 754.6 L643.8 752.9 L644.0 752.7 L644.2 753.0 L644.5 752.6 L644.8 751.6 L645.0 750.1 L645.2 749.7 L645.5 749.4 L645.8 750.2 L646.0 749.5 L646.2 748.3 L646.5 748.6 L646.8 748.3 L647.0 749.2 L647.2 749.0 L647.5 749.7 L647.8 748.6 L648.0 748.8 L648.2 749.0 L648.5 750.6 L648.8 750.0 L649.0 750.5 L649.2 751.1 L649.5 750.0 L649.8 749.8 L650.0 750.3 L650.2 750.2 L650.5 748.6 L650.8 749.6 L651.0 748.0 L651.2 746.9 L651.5 748.6 L651.8 747.5 L652.0 747.8 L652.2 747.1 L652.5 745.9 L652.8 745.3 L653.0 746.4 L653.2 746.4 L653.5 745.0 L653.8 744.9 L654.0 745.5 L654.2 745.7 L654.5 747.8 L654.8 746.8 L655.0 745.0 L655.2 744.9 L655.5 744.3 L655.8 742.8 L656.0 742.9 L656.2 741.3 L656.5 739.4 L656.8 740.6 L657.0 740.8 L657.2 740.0 L657.5 738.9 L657.8 739.7 L658.0 738.6 L658.2 736.1 L658.5 736.5 L658.8 734.5 L659.0 733.4 L659.2 732.7 L659.5 731.9 L659.8 731.0 L660.0 731.1 L660.2 730.3 L660.5 729.7 L660.8 730.1 L661.0 730.2 L661.2 728.7 L661.5 728.6 L661.8 729.6 L662.0 729.7 L662.2 729.7 L662.5 729.6 L662.8 730.3 L663.0 729.7 L663.2 729.7 L663.5 729.5 L663.8 728.8 L664.0 728.4 L664.2 727.6 L664.5 725.5 L664.8 724.0 L665.0 724.1 L665.2 722.1 L665.5 722.1 L665.8 721.6 L666.0 720.0 L666.2 718.6 L666.5 718.9 L666.8 716.4 L667.0 714.9 L667.2 714.5 L667.5 713.0 L667.8 710.6 L668.0 707.9 L668.2 706.5 L668.5 703.8 L668.8 702.4 L669.0 700.0 L669.2 697.9 L669.5 696.4 L669.8 696.4 L670.0 696.7 L670.2 697.7 L670.5 699.4 L670.8 700.4 L671.0 700.6 L671.2 701.5 L671.5 701.5 L671.8 700.9 L672.0 700.7 L672.2 699.1 L672.5 699.4 L672.8 699.4 L673.0 698.2 L673.2 697.9 L673.5 697.3 L673.8 697.5 L674.0 698.8 L674.2 698.5 L674.5 697.8 L674.8 697.2 L675.0 696.2 L675.2 697.2 L675.5 696.1 L675.8 693.7 L676.0 693.5 L676.2 692.5 L676.5 691.7 L676.8 691.8 L677.0 690.6 L677.2 690.1 L677.5 690.5 L677.8 687.8 L678.0 685.5 L678.2 682.7 L678.5 680.7 L678.8 676.7 L679.0 674.9 L679.2 675.2 L679.5 675.0 L679.8 675.0 L680.0 674.9 L680.2 674.9 L680.5 673.7 L680.8 673.4 L681.0 673.3 L681.2 671.6 L681.5 671.1 L681.8 669.7 L682.0 668.6 L682.2 669.4 L682.5 668.7 L682.8 668.0 L683.0 668.8 L683.2 669.1 L683.5 668.6 L683.8 669.6 L684.0 670.8 L684.2 670.2 L684.5 669.8 L684.8 670.0 L685.0 668.9 L685.2 669.8 L685.5 669.1 L685.8 668.1 L686.0 666.1 L686.2 665.6 L686.5 665.5 L686.8 666.0 L687.0 664.8 L687.2 662.2 L687.5 661.7 L687.8 660.7 L688.0 659.2 L688.2 658.0 L688.5 657.9 L688.8 655.8 L689.0 654.1 L689.2 654.3 L689.5 651.6 L689.8 651.8 L690.0 651.1 L690.2 650.7 L690.5 650.7 L690.8 651.9 L691.0 651.6 L691.2 652.8 L691.5 653.6 L691.8 653.6 L692.0 652.8 L692.2 652.6 L692.5 652.9 L692.8 652.2 L693.0 652.0 L693.2 652.1 L693.5 651.2 L693.8 651.6 L694.0 651.4 L694.2 651.5 L694.5 650.7 L694.8 650.0 L695.0 649.3 L695.2 649.7 L695.5 650.2 L695.8 650.4 L696.0 650.5 L696.2 649.7 L696.5 650.3 L696.8 650.0 L697.0 649.7 L697.2 648.7 L697.5 648.4 L697.8 647.1 L698.0 647.4 L698.2 646.5 L698.5 645.4 L698.8 646.2 L699.0 645.8 L699.2 646.1 L699.5 646.1 L699.8 645.6 L700.0 644.7 L700.2 644.3 L700.5 645.1 L700.8 645.1 L701.0 644.5 L701.2 643.9 L701.5 643.2 L701.8 643.4 L702.0 644.1 L702.2 644.1 L702.5 642.9 L702.8 642.0 L703.0 642.7 L703.2 643.1 L703.5 642.0 L703.8 640.6 L704.0 640.3 L704.2 638.9 L704.5 638.3 L704.8 637.4 L705.0 636.8 L705.2 635.3 L705.5 635.1 L705.8 636.1 L706.0 634.8 L706.2 634.3 L706.5 634.1 L706.8 634.5 L707.0 635.1 L707.2 634.4 L707.5 635.5 L707.8 635.1 L708.0 635.6 L708.2 635.7 L708.5 637.1 L708.8 637.5 L709.0 636.4 L709.2 636.6 L709.5 637.0 L709.8 637.5 L710.0 637.0 L710.2 637.4 L710.5 636.4 L710.8 634.6 L711.0 633.3 L711.2 633.2 L711.5 631.9 L711.8 630.3 L712.0 630.3 L712.2 629.3 L712.5 630.6 L712.8 629.7 L713.0 630.5 L713.2 630.3 L713.5 630.4 L713.8 630.7 L714.0 630.3 L714.2 630.7 L714.5 631.5 L714.8 631.7 L715.0 632.3 L715.2 631.8 L715.5 631.9 L715.8 631.9 L716.0 632.5 L716.2 631.6 L716.5 632.1 L716.8 631.7 L717.0 631.1 L717.2 631.2 L717.5 629.5 L717.8 630.0 L718.0 629.9 L718.2 630.2 L718.5 628.3 L718.8 629.1 L719.0 629.1 L719.2 628.7 L719.5 629.7 L719.8 629.0 L720.0 627.7 L720.2 626.2 L720.5 627.2 L720.8 626.8 L721.0 625.6 L721.2 626.1 L721.5 626.5 L721.8 625.7 L722.0 625.1 L722.2 626.2 L722.5 626.6 L722.8 627.0 L723.0 627.4 L723.2 628.2 L723.5 628.4 L723.8 630.7 L724.0 630.9 L724.2 629.6 L724.5 631.0 L724.8 630.1 L725.0 629.3 L725.2 628.3 L725.5 628.3 L725.8 627.1 L726.0 627.8 L726.2 627.5 L726.5 627.5 L726.8 627.3 L727.0 628.3 L727.2 626.5 L727.5 625.7 L727.8 625.5 L728.0 623.7 L728.2 624.6 L728.5 625.2 L728.8 625.3 L729.0 624.6 L729.2 626.0 L729.5 625.2 L729.8 625.5 L730.0 626.4 L730.2 627.2 L730.5 625.7 L730.8 625.4 L731.0 626.3 L731.2 627.7 L731.5 629.0 L731.8 629.1 L732.0 629.7 L732.2 628.2 L732.5 629.9 L732.8 629.8 L733.0 628.9 L733.2 628.6 L733.5 627.9 L733.8 627.9 L734.0 625.2 L734.2 625.7 L734.5 625.1 L734.8 624.1 L735.0 623.7 L735.2 623.8 L735.5 624.6 L735.8 624.8 L736.0 625.5 L736.2 626.1 L736.5 627.3 L736.8 628.2 L737.0 628.9 L737.2 627.9 L737.5 628.7 L737.8 629.1 L738.0 628.7 L738.2 630.3 L738.5 630.4 L738.8 630.1 L739.0 630.5 L739.2 631.8 L739.5 632.6 L739.8 633.7 L740.0 632.5 L740.2 633.4 L740.5 632.2 L740.8 633.0 L741.0 631.4 L741.2 629.6 L741.5 628.0 L741.8 627.8 L742.0 628.3 L742.2 626.6 L742.5 626.5 L742.8 627.2 L743.0 626.0 L743.2 626.7 L743.5 627.2 L743.8 626.9 L744.0 627.9 L744.2 627.1 L744.5 626.3 L744.8 623.5 L745.0 622.5 L745.2 621.2 L745.5 619.9 L745.8 617.9 L746.0 618.7 L746.2 618.8 L746.5 617.0 L746.8 618.4 L747.0 618.6 L747.2 618.8 L747.5 617.9 L747.8 618.3 L748.0 617.5 L748.2 617.3 L748.5 617.5 L748.8 617.0 L749.0 616.5 L749.2 616.1 L749.5 615.9 L749.8 616.3 L750.0 614.8 L750.2 613.1 L750.5 612.2 L750.8 611.0 L751.0 610.8 L751.2 610.1 L751.5 609.5 L751.8 607.9 L752.0 608.5 L752.2 607.7 L752.5 608.8 L752.8 607.5 L753.0 606.0 L753.2 604.9 L753.5 605.0 L753.8 605.0 L754.0 603.9 L754.2 603.1 L754.5 602.8 L754.8 602.5 L755.0 601.8 L755.2 600.8 L755.5 600.4 L755.8 599.4 L756.0 599.7 L756.2 598.8 L756.5 597.6 L756.8 597.6 L757.0 595.7 L757.2 594.6 L757.5 593.2 L757.8 593.4 L758.0 592.0 L758.2 592.9 L758.5 594.2 L758.8 595.9 L759.0 595.5 L759.2 595.9 L759.5 597.1 L759.8 597.7 L760.0 598.5 L760.2 600.5 L760.5 601.5 L760.8 602.4 L761.0 602.7 L761.2 604.1 L761.5 604.5 L761.8 605.2 L762.0 605.2 L762.2 604.5 L762.5 605.9 L762.8 606.1 L763.0 606.6 L763.2 605.7 L763.5 607.0 L763.8 606.7 L764.0 606.4 L764.2 606.2 L764.5 605.1 L764.8 605.4 L765.0 604.9 L765.2 605.6 L765.5 604.2 L765.8 602.8 L766.0 602.7 L766.2 600.9 L766.5 601.8 L766.8 601.2 L767.0 600.8 L767.2 600.2 L767.5 600.4 L767.8 600.0 L768.0 599.7 L768.2 599.3 L768.5 598.1 L768.8 598.1 L769.0 597.7 L769.2 597.2 L769.5 597.2 L769.8 598.1 L770.0 598.7 L770.2 598.1 L770.5 598.5 L770.8 597.6 L771.0 597.2 L771.2 597.3 L771.5 595.9 L771.8 595.6 L772.0 594.5 L772.2 594.4 L772.5 593.7 L772.8 593.1 L773.0 592.6 L773.2 591.8 L773.5 590.7 L773.8 589.1 L774.0 587.6 L774.2 586.0 L774.5 586.5 L774.8 586.2 L775.0 584.8 L775.2 584.5 L775.5 584.7 L775.8 585.9 L776.0 585.5 L776.2 585.5 L776.5 586.2 L776.8 584.9 L777.0 585.7 L777.2 585.1 L777.5 585.0 L777.8 584.2 L778.0 585.0 L778.2 585.0 L778.5 585.4 L778.8 584.2 L779.0 584.2 L779.2 583.7 L779.5 582.9 L779.8 582.3 L780.0 581.1 L780.2 580.3 L780.5 580.0 L780.8 579.0 L781.0 578.8 L781.2 578.0 L781.5 576.9 L781.8 576.0 L782.0 576.1 L782.2 576.1 L782.5 575.8 L782.8 575.9 L783.0 576.8 L783.2 577.0 L783.5 577.3 L783.8 577.5 L784.0 578.0 L784.2 577.9 L784.5 578.8 L784.8 579.6 L785.0 580.0 L785.2 580.7 L785.5 580.0 L785.8 580.6 L786.0 581.8 L786.2 581.2 L786.5 581.6 L786.8 581.0 L787.0 581.1 L787.2 580.4 L787.5 581.2 L787.8 580.4 L788.0 580.3 L788.2 580.5 L788.5 580.4 L788.8 579.8 L789.0 578.8 L789.2 579.3 L789.5 577.5 L789.8 576.2 L790.0 576.3 L790.2 575.2 L790.5 574.6 L790.8 575.3 L791.0 574.2 L791.2 572.4 L791.5 572.7 L791.8 573.6 L792.0 573.6 L792.2 574.1 L792.5 572.6 L792.8 573.0 L793.0 572.7 L793.2 572.9 L793.5 573.1 L793.8 572.3 L794.0 572.1 L794.2 572.2 L794.5 572.6 L794.8 573.9 L795.0 574.4 L795.2 575.3 L795.5 574.3 L795.8 573.7 L796.0 573.6 L796.2 574.6 L796.5 574.6 L796.8 574.4 L797.0 574.1 L797.2 574.6 L797.5 575.9 L797.8 576.4 L798.0 576.0 L798.2 576.4 L798.5 576.7 L798.8 577.0 L799.0 577.1 L799.2 577.2 L799.5 578.0 L799.8 578.4 L800.0 579.1 L800.2 577.9 L800.5 578.0 L800.8 578.4 L801.0 580.3 L801.2 580.7 L801.5 578.9 L801.8 579.5 L802.0 579.4 L802.2 580.3 L802.5 579.9 L802.8 579.3 L803.0 579.1 L803.2 578.2 L803.5 578.7 L803.8 579.7 L804.0 578.0 L804.2 578.0 L804.5 575.9 L804.8 575.6 L805.0 575.7 L805.2 576.2 L805.5 574.8 L805.8 574.1 L806.0 574.0 L806.2 574.3 L806.5 573.1 L806.8 572.7 L807.0 574.3 L807.2 573.6 L807.5 573.6 L807.8 574.3 L808.0 574.0 L808.2 572.9 L808.5 574.2 L808.8 574.0 L809.0 573.8 L809.2 572.7 L809.5 573.0 L809.8 573.3 L810.0 571.7 L810.2 570.8 L810.5 569.9 L810.8 568.8 L811.0 568.6 L811.2 569.0 L811.5 568.3 L811.8 567.8 L812.0 567.7 L812.2 568.0 L812.5 567.1 L812.8 568.0 L813.0 568.2 L813.2 566.8 L813.5 567.0 L813.8 566.3 L814.0 567.0 L814.2 565.9 L814.5 567.7 L814.8 565.5 L815.0 566.0 L815.2 566.4 L815.5 565.9 L815.8 565.1 L816.0 565.6 L816.2 565.9 L816.5 565.9 L816.8 566.2 L817.0 564.7 L817.2 565.4 L817.5 565.5 L817.8 566.2 L818.0 566.6 L818.2 565.4 L818.5 565.2 L818.8 565.3 L819.0 565.2 L819.2 565.9 L819.5 564.1 L819.8 563.7 L820.0 563.5 L820.2 562.3 L820.5 561.9 L820.8 561.9 L821.0 560.2 L821.2 557.6 L821.5 557.3 L821.8 556.0 L822.0 554.3 L822.2 554.7 L822.5 552.9 L822.8 552.5 L823.0 552.1 L823.2 551.8 L823.5 551.2 L823.8 550.8 L824.0 549.5 L824.2 548.3 L824.5 547.6 L824.8 546.5 L825.0 546.8 L825.2 546.0 L825.5 544.6 L825.8 543.6 L826.0 544.4 L826.2 544.8 L826.5 544.1 L826.8 544.9 L827.0 543.4 L827.2 544.2 L827.5 543.4 L827.8 543.9 L828.0 542.2 L828.2 541.5 L828.5 541.0 L828.8 539.1 L829.0 538.7 L829.2 538.3 L829.5 538.8 L829.8 537.8 L830.0 539.6 L830.2 539.6 L830.5 540.3 L830.8 541.5 L831.0 541.4 L831.2 541.7 L831.5 541.8 L831.8 541.2 L832.0 542.2 L832.2 542.3 L832.5 542.4 L832.8 541.7 L833.0 541.5 L833.2 540.7 L833.5 540.9" fill="none" stroke="#000" stroke-width="4.1" stroke-linejoin="round" stroke-linecap="round" />
<line x1="323.80" y1="1039.50" x2="385.50" y2="1039.50" stroke="#000" stroke-width="3.8" stroke-linecap="round"/>
<line x1="323.80" y1="1077.30" x2="385.50" y2="1077.30" stroke="#ff0000" stroke-width="3.8" stroke-linecap="round"/>
<text x="393.0" y="1048.7" font-size="28" text-anchor="start" >Control</text>
<text x="392.4" y="1086.1" font-size="28">Ba<tspan font-size="18.5" dy="-11.3">2+</tspan><tspan dy="11.3"> (100</tspan><tspan font-family="'Liberation Serif', serif">&#956;</tspan>M) + PAP-1 (100nM)</text>
<text x="876.5" y="599.0" font-size="63" text-anchor="start" >D</text>
<line x1="1011.40" y1="633.40" x2="1011.40" y2="1068.16" stroke="#000" stroke-width="3.6" stroke-linecap="butt"/>
<line x1="991.90" y1="635.30" x2="1013.20" y2="635.30" stroke="#000" stroke-width="3.8" stroke-linecap="butt"/>
<line x1="991.90" y1="743.04" x2="1013.20" y2="743.04" stroke="#000" stroke-width="3.8" stroke-linecap="butt"/>
<line x1="991.90" y1="850.78" x2="1013.20" y2="850.78" stroke="#000" stroke-width="3.8" stroke-linecap="butt"/>
<line x1="991.90" y1="958.52" x2="1013.20" y2="958.52" stroke="#000" stroke-width="3.8" stroke-linecap="butt"/>
<line x1="991.90" y1="1066.26" x2="1013.20" y2="1066.26" stroke="#000" stroke-width="3.8" stroke-linecap="butt"/>
<line x1="1001.40" y1="689.17" x2="1013.20" y2="689.17" stroke="#000" stroke-width="3.8" stroke-linecap="butt"/>
<line x1="1001.40" y1="796.91" x2="1013.20" y2="796.91" stroke="#000" stroke-width="3.8" stroke-linecap="butt"/>
<line x1="1001.40" y1="904.65" x2="1013.20" y2="904.65" stroke="#000" stroke-width="3.8" stroke-linecap="butt"/>
<line x1="1001.40" y1="1012.39" x2="1013.20" y2="1012.39" stroke="#000" stroke-width="3.8" stroke-linecap="butt"/>
<text x="987.2" y="644.6" font-size="32.5" text-anchor="end" >0</text>
<text x="987.2" y="752.3" font-size="32.5" text-anchor="end" >-20</text>
<text x="987.2" y="860.1" font-size="32.5" text-anchor="end" >-40</text>
<text x="987.2" y="967.8" font-size="32.5" text-anchor="end" >-60</text>
<text x="987.2" y="1075.6" font-size="32.5" text-anchor="end" >-80</text>
<line x1="1055.90" y1="867.70" x2="1055.90" y2="927.30" stroke="#000" stroke-width="3.6" stroke-linecap="butt"/>
<line x1="1042.10" y1="927.30" x2="1069.70" y2="927.30" stroke="#000" stroke-width="3.8" stroke-linecap="round"/>
<line x1="1112.40" y1="761.60" x2="1112.40" y2="787.60" stroke="#000" stroke-width="3.6" stroke-linecap="butt"/>
<line x1="1098.60" y1="787.60" x2="1126.20" y2="787.60" stroke="#000" stroke-width="3.8" stroke-linecap="round"/>
<line x1="1226.10" y1="695.10" x2="1226.10" y2="708.00" stroke="#000" stroke-width="3.6" stroke-linecap="butt"/>
<line x1="1212.30" y1="708.00" x2="1239.90" y2="708.00" stroke="#000" stroke-width="3.8" stroke-linecap="round"/>
<line x1="1283.10" y1="677.90" x2="1283.10" y2="686.10" stroke="#000" stroke-width="3.6" stroke-linecap="butt"/>
<line x1="1269.30" y1="686.10" x2="1296.90" y2="686.10" stroke="#000" stroke-width="3.8" stroke-linecap="round"/>
<rect x="1027.70" y="635.30" width="56.10" height="232.40" fill="#dedede" stroke="#000" stroke-width="3.8" stroke-linejoin="round"/>
<rect x="1083.80" y="635.30" width="56.80" height="126.30" fill="#ffffff" stroke="#000" stroke-width="3.8" stroke-linejoin="round"/>
<rect x="1197.90" y="635.30" width="56.90" height="59.80" fill="#000000" stroke="#000" stroke-width="3.8" stroke-linejoin="round"/>
<rect x="1254.80" y="635.30" width="56.40" height="42.60" fill="#858585" stroke="#000" stroke-width="3.8" stroke-linejoin="round"/>
<line x1="1408.80" y1="636.20" x2="1408.80" y2="1070.48" stroke="#000" stroke-width="3.6" stroke-linecap="butt"/>
<line x1="1389.30" y1="638.10" x2="1410.60" y2="638.10" stroke="#000" stroke-width="3.8" stroke-linecap="butt"/>
<line x1="1389.30" y1="745.72" x2="1410.60" y2="745.72" stroke="#000" stroke-width="3.8" stroke-linecap="butt"/>
<line x1="1389.30" y1="853.34" x2="1410.60" y2="853.34" stroke="#000" stroke-width="3.8" stroke-linecap="butt"/>
<line x1="1389.30" y1="960.96" x2="1410.60" y2="960.96" stroke="#000" stroke-width="3.8" stroke-linecap="butt"/>
<line x1="1389.30" y1="1068.58" x2="1410.60" y2="1068.58" stroke="#000" stroke-width="3.8" stroke-linecap="butt"/>
<line x1="1398.80" y1="691.91" x2="1410.60" y2="691.91" stroke="#000" stroke-width="3.8" stroke-linecap="butt"/>
<line x1="1398.80" y1="799.53" x2="1410.60" y2="799.53" stroke="#000" stroke-width="3.8" stroke-linecap="butt"/>
<line x1="1398.80" y1="907.15" x2="1410.60" y2="907.15" stroke="#000" stroke-width="3.8" stroke-linecap="butt"/>
<line x1="1398.80" y1="1014.77" x2="1410.60" y2="1014.77" stroke="#000" stroke-width="3.8" stroke-linecap="butt"/>
<text x="1383.8" y="647.4" font-size="32.5" text-anchor="end" >0</text>
<text x="1383.8" y="755.0" font-size="32.5" text-anchor="end" >-20</text>
<text x="1383.8" y="862.6" font-size="32.5" text-anchor="end" >-40</text>
<text x="1383.8" y="970.3" font-size="32.5" text-anchor="end" >-60</text>
<text x="1383.8" y="1077.9" font-size="32.5" text-anchor="end" >-80</text>
<line x1="1451.10" y1="949.90" x2="1451.10" y2="1035.50" stroke="#000" stroke-width="3.6" stroke-linecap="butt"/>
<line x1="1437.30" y1="1035.50" x2="1464.90" y2="1035.50" stroke="#000" stroke-width="3.8" stroke-linecap="round"/>
<line x1="1505.50" y1="727.20" x2="1505.50" y2="753.50" stroke="#000" stroke-width="3.6" stroke-linecap="butt"/>
<line x1="1491.70" y1="753.50" x2="1519.30" y2="753.50" stroke="#000" stroke-width="3.8" stroke-linecap="round"/>
<line x1="1613.80" y1="689.30" x2="1613.80" y2="705.10" stroke="#000" stroke-width="3.6" stroke-linecap="butt"/>
<line x1="1600.00" y1="705.10" x2="1627.60" y2="705.10" stroke="#000" stroke-width="3.8" stroke-linecap="round"/>
<line x1="1668.00" y1="666.40" x2="1668.00" y2="671.90" stroke="#000" stroke-width="3.6" stroke-linecap="butt"/>
<line x1="1654.20" y1="671.90" x2="1681.80" y2="671.90" stroke="#000" stroke-width="3.8" stroke-linecap="round"/>
<rect x="1424.50" y="638.10" width="53.70" height="311.80" fill="#ffbdbd" stroke="#000" stroke-width="3.8" stroke-linejoin="round"/>
<rect x="1478.20" y="638.10" width="54.60" height="89.10" fill="#ffffff" stroke="#000" stroke-width="3.8" stroke-linejoin="round"/>
<rect x="1586.70" y="638.10" width="54.40" height="51.20" fill="#590000" stroke="#000" stroke-width="3.8" stroke-linejoin="round"/>
<rect x="1641.10" y="638.10" width="54.10" height="28.30" fill="#ff0000" stroke="#000" stroke-width="3.8" stroke-linejoin="round"/>
<line x1="1112.10" y1="806.60" x2="1151.70" y2="806.60" stroke="#000" stroke-width="3.3" stroke-linecap="butt"/>
<text x="1157.2" y="812.3" font-size="25" text-anchor="start" font-style="italic">p=0.017</text>
<line x1="1252.10" y1="806.60" x2="1288.30" y2="806.60" stroke="#000" stroke-width="3.3" stroke-linecap="butt"/>
<line x1="1058.00" y1="938.70" x2="1097.60" y2="938.70" stroke="#000" stroke-width="3.3" stroke-linecap="butt"/>
<text x="1103.2" y="946.0" font-size="25" text-anchor="start" font-style="italic">p=0.043</text>
<line x1="1198.20" y1="938.70" x2="1221.60" y2="938.70" stroke="#000" stroke-width="3.3" stroke-linecap="butt"/>
<text x="1475.4" y="1027.8" font-size="25" text-anchor="start" font-style="italic">p=0.015</text>
<line x1="1447.10" y1="1045.80" x2="1511.30" y2="1045.80" stroke="#000" stroke-width="3.4" stroke-linecap="butt"/>
<line x1="1452.00" y1="1072.10" x2="1608.00" y2="1072.10" stroke="#000" stroke-width="3.6" stroke-linecap="butt"/>
<text x="1471.0" y="1102.7" font-size="25" text-anchor="start" font-style="italic">p=0.0037</text>
<text transform="translate(916.6 1067.6) rotate(-90)" font-size="37.3">Ba<tspan font-size="25" dy="-15.7">2+</tspan><tspan dy="15.7"> sensitive current (pA)</tspan></text>
</svg>
</body></html>
